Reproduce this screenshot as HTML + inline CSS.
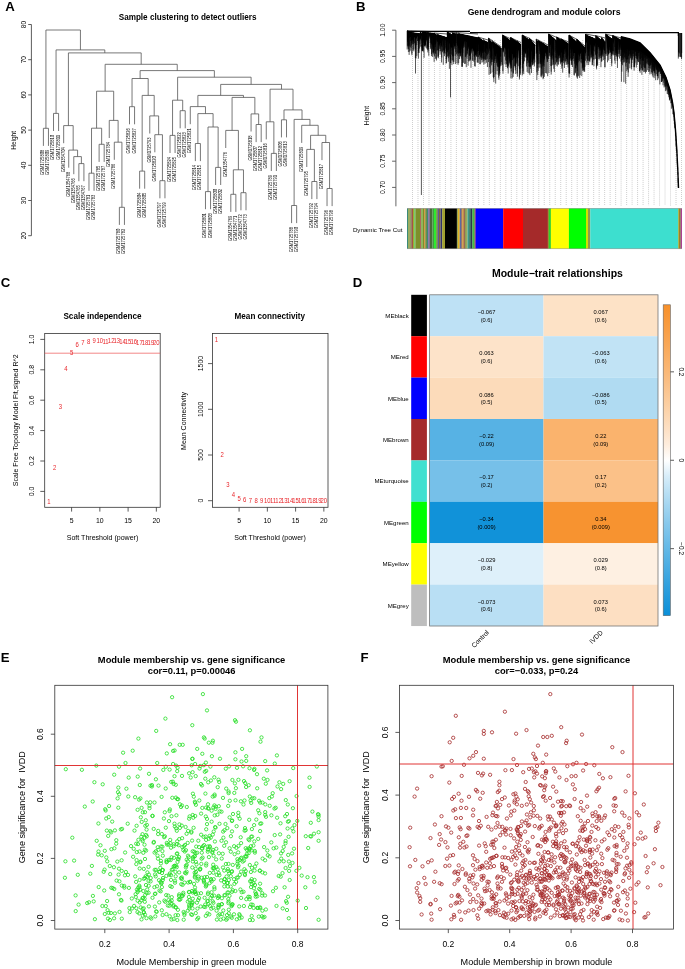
<!DOCTYPE html>
<html><head><meta charset="utf-8"><style>
html,body{margin:0;padding:0;background:#fff;}
svg{display:block;will-change:transform;}
text{font-family:"Liberation Sans",sans-serif;}
</style></head><body>
<svg width="685" height="969" viewBox="0 0 685 969" font-family="Liberation Sans, sans-serif">
<rect width="685" height="969" fill="#fff"/>
<path d="M45.93 128.30V30.00H80.43V49.90 M43.40 145.90V128.30H48.46V145.90 M56.06 113.40V49.90H104.80V52.90 M53.53 131.00V113.40H58.59V131.00 M68.41 125.60V52.90H141.18V64.30 M63.66 143.20V125.60H73.16V150.10 M68.72 167.70V150.10H77.59V156.60 M73.79 174.20V156.60H81.39V163.60 M78.86 181.20V163.60H83.92V181.20 M105.13 91.20V64.30H177.24V70.60 M96.58 128.20V91.20H113.68V120.40 M91.52 173.20V128.20H101.65V144.30 M88.98 190.80V173.20H94.05V190.80 M99.12 161.90V144.30H104.18V161.90 M109.25 138.00V120.40H118.11V142.20 M114.31 159.80V142.20H121.91V207.30 M119.38 224.90V207.30H124.44V224.90 M140.11 78.50V70.60H214.36V77.20 M132.04 106.70V78.50H148.18V95.40 M129.50 124.30V106.70H134.57V124.30 M142.17 171.10V95.40H154.20V115.90 M139.64 188.70V171.10H144.70V188.70 M149.77 133.50V115.90H158.63V134.70 M154.83 152.30V134.70H162.43V180.70 M159.90 198.30V180.70H164.96V198.30 M177.62 100.20V77.20H251.10V84.40 M172.56 135.40V100.20H182.69V110.70 M170.03 153.00V135.40H175.09V153.00 M180.16 128.30V110.70H185.22V128.30 M220.68 95.40V84.40H281.53V89.20 M197.88 106.60V95.40H243.47V97.40 M190.29 124.20V106.60H205.48V113.60 M197.88 143.50V113.60H213.08V127.00 M195.35 161.10V143.50H200.42V161.10 M208.01 191.60V127.00H218.14V167.40 M205.48 209.20V191.60H210.55V209.20 M215.61 185.00V167.40H220.68V185.00 M232.07 130.40V97.40H254.86V113.90 M225.74 148.00V130.40H238.40V169.80 M233.34 194.30V169.80H243.47V192.70 M230.81 211.90V194.30H235.87V211.90 M240.94 210.30V192.70H246.00V210.30 M251.07 131.50V113.90H258.66V124.50 M256.13 142.10V124.50H261.19V142.10 M270.06 121.80V89.20H293.01V109.90 M266.26 139.40V121.80H273.86V153.40 M271.32 171.00V153.40H276.39V171.00 M283.99 119.80V109.90H302.03V119.40 M281.45 137.40V119.80H286.52V137.40 M294.12 205.50V119.40H309.95V125.30 M291.59 223.10V205.50H296.65V223.10 M301.71 142.90V125.30H318.18V135.30 M310.58 149.40V135.30H325.77V142.50 M306.78 167.00V149.40H314.38V181.50 M311.84 199.10V181.50H316.91V199.10 M321.98 160.10V142.50H329.57V188.50 M327.04 206.10V188.50H332.11V206.10" fill="none" stroke="#555" stroke-width="0.8"/>
<text transform="translate(44.35,149.80) rotate(-90) scale(0.89,1)" text-anchor="end" font-size="4.6" fill="#222" stroke="#222" stroke-width="0.04">GSM1725808</text>
<text transform="translate(49.41,149.80) rotate(-90) scale(0.89,1)" text-anchor="end" font-size="4.6" fill="#222" stroke="#222" stroke-width="0.04">GSM1725809</text>
<text transform="translate(54.48,134.90) rotate(-90) scale(0.89,1)" text-anchor="end" font-size="4.6" fill="#222" stroke="#222" stroke-width="0.04">GSM1725810</text>
<text transform="translate(59.55,134.90) rotate(-90) scale(0.89,1)" text-anchor="end" font-size="4.6" fill="#222" stroke="#222" stroke-width="0.04">GSM1725811</text>
<text transform="translate(64.61,147.10) rotate(-90) scale(0.89,1)" text-anchor="end" font-size="4.6" fill="#222" stroke="#222" stroke-width="0.04">GSM1354704</text>
<text transform="translate(69.67,171.60) rotate(-90) scale(0.89,1)" text-anchor="end" font-size="4.6" fill="#222" stroke="#222" stroke-width="0.04">GSM1354768</text>
<text transform="translate(74.74,178.10) rotate(-90) scale(0.89,1)" text-anchor="end" font-size="4.6" fill="#222" stroke="#222" stroke-width="0.04">GSM1354766</text>
<text transform="translate(79.81,185.10) rotate(-90) scale(0.89,1)" text-anchor="end" font-size="4.6" fill="#222" stroke="#222" stroke-width="0.04">GSM1354765</text>
<text transform="translate(84.87,185.10) rotate(-90) scale(0.89,1)" text-anchor="end" font-size="4.6" fill="#222" stroke="#222" stroke-width="0.04">GSM1354767</text>
<text transform="translate(89.94,194.70) rotate(-90) scale(0.89,1)" text-anchor="end" font-size="4.6" fill="#222" stroke="#222" stroke-width="0.04">GSM1725781</text>
<text transform="translate(95.00,194.70) rotate(-90) scale(0.89,1)" text-anchor="end" font-size="4.6" fill="#222" stroke="#222" stroke-width="0.04">GSM1725783</text>
<text transform="translate(100.07,165.80) rotate(-90) scale(0.89,1)" text-anchor="end" font-size="4.6" fill="#222" stroke="#222" stroke-width="0.04">GSM1725785</text>
<text transform="translate(105.13,165.80) rotate(-90) scale(0.89,1)" text-anchor="end" font-size="4.6" fill="#222" stroke="#222" stroke-width="0.04">GSM1725787</text>
<text transform="translate(110.20,141.90) rotate(-90) scale(0.89,1)" text-anchor="end" font-size="4.6" fill="#222" stroke="#222" stroke-width="0.04">GSM1725784</text>
<text transform="translate(115.26,163.70) rotate(-90) scale(0.89,1)" text-anchor="end" font-size="4.6" fill="#222" stroke="#222" stroke-width="0.04">GSM1725786</text>
<text transform="translate(120.33,228.80) rotate(-90) scale(0.89,1)" text-anchor="end" font-size="4.6" fill="#222" stroke="#222" stroke-width="0.04">GSM1725780</text>
<text transform="translate(125.39,228.80) rotate(-90) scale(0.89,1)" text-anchor="end" font-size="4.6" fill="#222" stroke="#222" stroke-width="0.04">GSM1725782</text>
<text transform="translate(130.45,128.20) rotate(-90) scale(0.89,1)" text-anchor="end" font-size="4.6" fill="#222" stroke="#222" stroke-width="0.04">GSM1725826</text>
<text transform="translate(135.52,128.20) rotate(-90) scale(0.89,1)" text-anchor="end" font-size="4.6" fill="#222" stroke="#222" stroke-width="0.04">GSM1725827</text>
<text transform="translate(140.59,192.60) rotate(-90) scale(0.89,1)" text-anchor="end" font-size="4.6" fill="#222" stroke="#222" stroke-width="0.04">GSM1725804</text>
<text transform="translate(145.65,192.60) rotate(-90) scale(0.89,1)" text-anchor="end" font-size="4.6" fill="#222" stroke="#222" stroke-width="0.04">GSM1725805</text>
<text transform="translate(150.72,137.40) rotate(-90) scale(0.89,1)" text-anchor="end" font-size="4.6" fill="#222" stroke="#222" stroke-width="0.04">GSM1725793</text>
<text transform="translate(155.78,156.20) rotate(-90) scale(0.89,1)" text-anchor="end" font-size="4.6" fill="#222" stroke="#222" stroke-width="0.04">GSM1725820</text>
<text transform="translate(160.84,202.20) rotate(-90) scale(0.89,1)" text-anchor="end" font-size="4.6" fill="#222" stroke="#222" stroke-width="0.04">GSM1725797</text>
<text transform="translate(165.91,202.20) rotate(-90) scale(0.89,1)" text-anchor="end" font-size="4.6" fill="#222" stroke="#222" stroke-width="0.04">GSM1725799</text>
<text transform="translate(170.97,156.90) rotate(-90) scale(0.89,1)" text-anchor="end" font-size="4.6" fill="#222" stroke="#222" stroke-width="0.04">GSM1725824</text>
<text transform="translate(176.04,156.90) rotate(-90) scale(0.89,1)" text-anchor="end" font-size="4.6" fill="#222" stroke="#222" stroke-width="0.04">GSM1725825</text>
<text transform="translate(181.11,132.20) rotate(-90) scale(0.89,1)" text-anchor="end" font-size="4.6" fill="#222" stroke="#222" stroke-width="0.04">GSM1725822</text>
<text transform="translate(186.17,132.20) rotate(-90) scale(0.89,1)" text-anchor="end" font-size="4.6" fill="#222" stroke="#222" stroke-width="0.04">GSM1725823</text>
<text transform="translate(191.24,128.10) rotate(-90) scale(0.89,1)" text-anchor="end" font-size="4.6" fill="#222" stroke="#222" stroke-width="0.04">GSM1725821</text>
<text transform="translate(196.30,165.00) rotate(-90) scale(0.89,1)" text-anchor="end" font-size="4.6" fill="#222" stroke="#222" stroke-width="0.04">GSM1725814</text>
<text transform="translate(201.37,165.00) rotate(-90) scale(0.89,1)" text-anchor="end" font-size="4.6" fill="#222" stroke="#222" stroke-width="0.04">GSM1725815</text>
<text transform="translate(206.43,213.10) rotate(-90) scale(0.89,1)" text-anchor="end" font-size="4.6" fill="#222" stroke="#222" stroke-width="0.04">GSM1725801</text>
<text transform="translate(211.50,213.10) rotate(-90) scale(0.89,1)" text-anchor="end" font-size="4.6" fill="#222" stroke="#222" stroke-width="0.04">GSM1725803</text>
<text transform="translate(216.56,188.90) rotate(-90) scale(0.89,1)" text-anchor="end" font-size="4.6" fill="#222" stroke="#222" stroke-width="0.04">GSM1725800</text>
<text transform="translate(221.62,188.90) rotate(-90) scale(0.89,1)" text-anchor="end" font-size="4.6" fill="#222" stroke="#222" stroke-width="0.04">GSM1725802</text>
<text transform="translate(226.69,151.90) rotate(-90) scale(0.89,1)" text-anchor="end" font-size="4.6" fill="#222" stroke="#222" stroke-width="0.04">GSM1354776</text>
<text transform="translate(231.75,215.80) rotate(-90) scale(0.89,1)" text-anchor="end" font-size="4.6" fill="#222" stroke="#222" stroke-width="0.04">GSM1354769</text>
<text transform="translate(236.82,215.80) rotate(-90) scale(0.89,1)" text-anchor="end" font-size="4.6" fill="#222" stroke="#222" stroke-width="0.04">GSM1354771</text>
<text transform="translate(241.89,214.20) rotate(-90) scale(0.89,1)" text-anchor="end" font-size="4.6" fill="#222" stroke="#222" stroke-width="0.04">GSM1354772</text>
<text transform="translate(246.95,214.20) rotate(-90) scale(0.89,1)" text-anchor="end" font-size="4.6" fill="#222" stroke="#222" stroke-width="0.04">GSM1354773</text>
<text transform="translate(252.02,135.40) rotate(-90) scale(0.89,1)" text-anchor="end" font-size="4.6" fill="#222" stroke="#222" stroke-width="0.04">GSM1725818</text>
<text transform="translate(257.08,146.00) rotate(-90) scale(0.89,1)" text-anchor="end" font-size="4.6" fill="#222" stroke="#222" stroke-width="0.04">GSM1725807</text>
<text transform="translate(262.14,146.00) rotate(-90) scale(0.89,1)" text-anchor="end" font-size="4.6" fill="#222" stroke="#222" stroke-width="0.04">GSM1725812</text>
<text transform="translate(267.21,143.30) rotate(-90) scale(0.89,1)" text-anchor="end" font-size="4.6" fill="#222" stroke="#222" stroke-width="0.04">GSM1725816</text>
<text transform="translate(272.27,174.90) rotate(-90) scale(0.89,1)" text-anchor="end" font-size="4.6" fill="#222" stroke="#222" stroke-width="0.04">GSM1725789</text>
<text transform="translate(277.34,174.90) rotate(-90) scale(0.89,1)" text-anchor="end" font-size="4.6" fill="#222" stroke="#222" stroke-width="0.04">GSM1725791</text>
<text transform="translate(282.40,141.30) rotate(-90) scale(0.89,1)" text-anchor="end" font-size="4.6" fill="#222" stroke="#222" stroke-width="0.04">GSM1725806</text>
<text transform="translate(287.47,141.30) rotate(-90) scale(0.89,1)" text-anchor="end" font-size="4.6" fill="#222" stroke="#222" stroke-width="0.04">GSM1725813</text>
<text transform="translate(292.54,227.00) rotate(-90) scale(0.89,1)" text-anchor="end" font-size="4.6" fill="#222" stroke="#222" stroke-width="0.04">GSM1725788</text>
<text transform="translate(297.60,227.00) rotate(-90) scale(0.89,1)" text-anchor="end" font-size="4.6" fill="#222" stroke="#222" stroke-width="0.04">GSM1725790</text>
<text transform="translate(302.66,146.80) rotate(-90) scale(0.89,1)" text-anchor="end" font-size="4.6" fill="#222" stroke="#222" stroke-width="0.04">GSM1725819</text>
<text transform="translate(307.73,170.90) rotate(-90) scale(0.89,1)" text-anchor="end" font-size="4.6" fill="#222" stroke="#222" stroke-width="0.04">GSM1725795</text>
<text transform="translate(312.79,203.00) rotate(-90) scale(0.89,1)" text-anchor="end" font-size="4.6" fill="#222" stroke="#222" stroke-width="0.04">GSM1725792</text>
<text transform="translate(317.86,203.00) rotate(-90) scale(0.89,1)" text-anchor="end" font-size="4.6" fill="#222" stroke="#222" stroke-width="0.04">GSM1725794</text>
<text transform="translate(322.93,164.00) rotate(-90) scale(0.89,1)" text-anchor="end" font-size="4.6" fill="#222" stroke="#222" stroke-width="0.04">GSM1725817</text>
<text transform="translate(327.99,210.00) rotate(-90) scale(0.89,1)" text-anchor="end" font-size="4.6" fill="#222" stroke="#222" stroke-width="0.04">GSM1725796</text>
<text transform="translate(333.06,210.00) rotate(-90) scale(0.89,1)" text-anchor="end" font-size="4.6" fill="#222" stroke="#222" stroke-width="0.04">GSM1725798</text>
<path d="M31.4 24.50V235.70M31.4 24.50H28.2M31.4 59.70H28.2M31.4 94.90H28.2M31.4 130.10H28.2M31.4 165.30H28.2M31.4 200.50H28.2M31.4 235.70H28.2" stroke="#333" stroke-width="0.8" fill="none"/>
<text transform="translate(25.6,24.50) rotate(-90)" text-anchor="middle" font-size="6.6">80</text>
<text transform="translate(25.6,59.70) rotate(-90)" text-anchor="middle" font-size="6.6">70</text>
<text transform="translate(25.6,94.90) rotate(-90)" text-anchor="middle" font-size="6.6">60</text>
<text transform="translate(25.6,130.10) rotate(-90)" text-anchor="middle" font-size="6.6">50</text>
<text transform="translate(25.6,165.30) rotate(-90)" text-anchor="middle" font-size="6.6">40</text>
<text transform="translate(25.6,200.50) rotate(-90)" text-anchor="middle" font-size="6.6">30</text>
<text transform="translate(25.6,235.70) rotate(-90)" text-anchor="middle" font-size="6.6">20</text>
<text transform="translate(16.3,140.4) rotate(-90)" text-anchor="middle" font-size="6.5">Height</text>
<text x="187.6" y="19.5" text-anchor="middle" font-size="8.15" font-weight="bold">Sample clustering to detect outliers</text>
<text x="5.3" y="10.5" font-size="13.2" font-weight="bold">A</text>
<path d="M412.50 40.00V205.5M417.99 40.00V205.5M423.48 40.00V205.5M428.97 40.00V205.5M434.46 40.00V205.5M439.95 40.00V205.5M445.44 40.00V205.5M450.93 40.00V205.5M456.42 40.00V205.5M461.91 40.00V205.5M467.40 40.00V205.5M472.89 40.00V205.5M478.38 40.00V205.5M483.87 40.00V205.5M489.36 40.00V205.5M494.85 40.00V205.5M500.34 40.00V205.5M505.83 40.00V205.5M511.32 40.00V205.5M516.81 40.00V205.5M522.30 40.00V205.5M527.79 40.00V205.5M533.28 40.00V205.5M538.77 40.00V205.5M544.26 40.00V205.5M549.75 40.00V205.5M555.24 40.00V205.5M560.73 40.00V205.5M566.22 40.00V205.5M571.71 40.00V205.5M577.20 40.00V205.5M582.69 40.00V205.5M588.18 40.00V205.5M593.67 40.00V205.5M599.16 40.00V205.5M604.65 40.00V205.5M610.14 40.00V205.5M615.63 40.00V205.5M621.12 42.73V205.5M626.61 44.13V205.5M632.10 45.82V205.5M637.59 47.96V205.5M643.08 51.95V205.5M648.57 57.38V205.5M654.06 63.83V205.5M659.55 70.64V205.5M665.04 81.62V205.5M670.53 98.63V205.5M676.02 144.00V205.5M681.51 56.00V205.5" stroke="#b4b4b4" stroke-width="0.8" stroke-dasharray="0.8 1.2" fill="none"/>
<path d="M407.00 30.80 L407.70 30.99 L408.40 31.22 L409.10 31.45 L409.80 31.69 L410.50 31.94 L411.20 32.20 L411.20 36.34 L410.50 37.25 L409.80 36.76 L409.10 38.27 L408.40 37.46 L407.70 40.27 L407.00 40.79ZM411.67 32.61 L412.37 32.68 L413.07 32.75 L413.77 32.83 L414.47 32.92 L415.17 33.00 L415.87 33.08 L416.57 33.17 L417.27 33.26 L417.97 33.35 L418.67 33.44 L419.37 33.53 L419.37 39.89 L418.67 40.99 L417.97 37.11 L417.27 35.95 L416.57 38.12 L415.87 38.57 L415.17 38.22 L414.47 37.07 L413.77 35.01 L413.07 36.56 L412.37 37.05 L411.67 37.73ZM420.00 31.20 L420.70 32.00 L421.40 32.91 L422.10 33.88 L422.10 36.62 L421.40 34.81 L420.70 40.61 L420.00 38.37ZM422.35 32.05 L423.05 32.10 L423.75 32.17 L424.45 32.24 L425.15 32.31 L425.85 32.39 L426.55 32.46 L427.25 32.54 L427.95 32.62 L428.65 32.69 L429.35 32.77 L430.05 32.85 L430.75 32.94 L431.45 33.02 L432.15 33.10 L432.85 33.18 L433.55 33.27 L433.55 39.44 L432.85 37.11 L432.15 38.80 L431.45 38.08 L430.75 37.75 L430.05 35.09 L429.35 39.77 L428.65 33.69 L427.95 33.62 L427.25 33.56 L426.55 42.18 L425.85 39.33 L425.15 46.78 L424.45 45.32 L423.75 42.40 L423.05 38.65 L422.35 39.03ZM434.00 33.00 L434.70 33.52 L435.40 34.11 L436.10 34.73 L436.80 35.38 L436.80 44.01 L436.10 39.67 L435.40 38.63 L434.70 41.39 L434.00 49.23ZM436.94 34.46 L437.64 34.63 L438.34 34.83 L439.04 35.03 L439.74 35.25 L440.44 35.47 L441.14 35.69 L441.84 35.92 L442.54 36.15 L443.24 36.38 L443.94 36.62 L444.64 36.86 L445.34 37.10 L446.04 37.34 L446.74 37.59 L446.74 46.06 L446.04 48.75 L445.34 39.18 L444.64 40.46 L443.94 38.74 L443.24 39.27 L442.54 40.66 L441.84 46.10 L441.14 44.31 L440.44 42.39 L439.74 43.77 L439.04 43.85 L438.34 40.12 L437.64 41.66 L436.94 42.04ZM447.00 32.00 L447.70 32.31 L448.40 32.67 L449.10 33.05 L449.80 33.45 L450.50 33.85 L451.20 34.26 L451.90 34.68 L451.90 47.30 L451.20 48.06 L450.50 46.22 L449.80 42.43 L449.10 44.82 L448.40 39.24 L447.70 40.38 L447.00 43.83ZM452.36 32.93 L453.06 33.09 L453.76 33.28 L454.46 33.47 L455.16 33.67 L455.86 33.88 L455.86 38.72 L455.16 44.09 L454.46 48.62 L453.76 44.09 L453.06 42.57 L452.36 36.90ZM456.51 33.52 L457.21 33.82 L457.91 34.17 L457.91 45.42 L457.21 46.47 L456.51 37.10ZM458.58 33.72 L459.28 33.83 L459.98 33.95 L460.68 34.08 L461.38 34.21 L462.08 34.35 L462.78 34.49 L463.48 34.63 L464.18 34.78 L464.88 34.92 L465.58 35.07 L466.28 35.22 L466.98 35.37 L467.68 35.52 L468.38 35.68 L469.08 35.83 L469.78 35.99 L470.48 36.14 L471.18 36.30 L471.88 36.46 L472.58 36.62 L473.28 36.78 L473.98 36.94 L474.68 37.10 L475.38 37.26 L476.08 37.42 L476.78 37.58 L477.48 37.75 L477.48 45.58 L476.78 43.48 L476.08 57.08 L475.38 54.13 L474.68 43.03 L473.98 49.21 L473.28 51.48 L472.58 48.38 L471.88 48.43 L471.18 52.28 L470.48 47.67 L469.78 45.02 L469.08 47.00 L468.38 48.01 L467.68 43.24 L466.98 42.35 L466.28 41.49 L465.58 40.56 L464.88 46.54 L464.18 40.69 L463.48 47.21 L462.78 45.16 L462.08 47.51 L461.38 45.84 L460.68 41.96 L459.98 46.52 L459.28 44.12 L458.58 48.11ZM478.00 37.00 L478.70 37.43 L479.40 37.92 L480.10 38.44 L480.80 38.97 L481.50 39.52 L482.20 40.08 L482.90 40.65 L483.60 41.23 L483.60 52.63 L482.90 52.78 L482.20 50.22 L481.50 49.66 L480.80 54.18 L480.10 50.41 L479.40 42.29 L478.70 43.26 L478.00 46.76ZM483.67 40.48 L484.37 40.74 L485.07 41.04 L485.77 41.35 L486.47 41.67 L487.17 42.01 L487.87 42.34 L487.87 51.59 L487.17 48.77 L486.47 48.00 L485.77 50.20 L485.07 42.84 L484.37 43.13 L483.67 48.08ZM488.50 38.00 L489.20 38.92 L489.90 39.97 L490.60 41.08 L491.30 42.22 L492.00 43.40 L492.00 52.30 L491.30 51.25 L490.60 51.76 L489.90 48.00 L489.20 50.91 L488.50 52.48ZM492.05 41.46 L492.75 41.86 L493.45 42.32 L494.15 42.81 L494.85 43.31 L495.55 43.82 L496.25 44.35 L496.95 44.88 L497.65 45.42 L498.35 45.97 L499.05 46.53 L499.75 47.09 L500.45 47.65 L501.15 48.22 L501.15 56.48 L500.45 56.91 L499.75 54.11 L499.05 48.24 L498.35 53.79 L497.65 57.41 L496.95 54.87 L496.25 53.07 L495.55 56.42 L494.85 56.17 L494.15 53.63 L493.45 47.03 L492.75 49.57 L492.05 42.46ZM502.50 35.00 L503.20 35.40 L503.90 35.86 L504.60 36.35 L505.30 36.85 L506.00 37.37 L506.70 37.89 L507.40 38.43 L508.10 38.97 L508.80 39.52 L509.50 40.07 L510.20 40.63 L510.90 41.20 L510.90 48.84 L510.20 54.72 L509.50 46.03 L508.80 47.54 L508.10 49.66 L507.40 45.06 L506.70 51.59 L506.00 47.25 L505.30 49.94 L504.60 47.27 L503.90 49.05 L503.20 53.01 L502.50 49.17ZM510.50 37.50 L511.20 37.88 L511.90 38.31 L512.60 38.77 L513.30 39.24 L514.00 39.72 L514.70 40.22 L515.40 40.72 L516.10 41.23 L516.80 41.74 L516.80 57.10 L516.10 49.03 L515.40 52.76 L514.70 58.81 L514.00 56.55 L513.30 59.15 L512.60 54.25 L511.90 53.74 L511.20 51.43 L510.50 45.96ZM517.27 41.28 L517.97 41.83 L518.67 42.47 L519.37 43.14 L520.07 43.84 L520.77 44.55 L520.77 53.54 L520.07 55.10 L519.37 49.70 L518.67 50.47 L517.97 57.70 L517.27 51.23ZM522.00 35.00 L522.70 35.39 L523.40 35.84 L524.10 36.31 L524.80 36.80 L525.50 37.30 L526.20 37.81 L526.90 38.33 L527.60 38.86 L528.30 39.39 L529.00 39.93 L529.70 40.47 L529.70 50.36 L529.00 49.01 L528.30 47.51 L527.60 47.06 L526.90 48.58 L526.20 51.62 L525.50 53.83 L524.80 53.30 L524.10 49.94 L523.40 52.18 L522.70 49.23 L522.00 48.57ZM529.50 38.50 L530.20 39.21 L530.90 40.01 L531.60 40.86 L532.30 41.75 L533.00 42.65 L533.70 43.57 L534.40 44.51 L535.10 45.46 L535.10 56.47 L534.40 55.71 L533.70 61.73 L533.00 57.01 L532.30 44.25 L531.60 52.21 L530.90 49.11 L530.20 48.33 L529.50 45.62ZM536.00 39.00 L536.70 40.13 L537.40 41.43 L538.10 42.80 L538.10 47.10 L537.40 51.55 L536.70 53.63 L536.00 49.28ZM538.13 40.63 L538.83 40.96 L539.53 41.34 L540.23 41.74 L540.93 42.15 L541.63 42.57 L542.33 43.01 L543.03 43.45 L543.73 43.89 L544.43 44.34 L545.13 44.80 L545.83 45.26 L546.53 45.73 L547.23 46.20 L547.93 46.67 L547.93 50.26 L547.23 51.84 L546.53 56.25 L545.83 52.51 L545.13 52.78 L544.43 60.23 L543.73 53.40 L543.03 52.95 L542.33 44.75 L541.63 51.03 L540.93 43.97 L540.23 52.79 L539.53 50.26 L538.83 41.96 L538.13 47.39ZM548.50 34.00 L549.20 34.47 L549.90 35.01 L550.60 35.58 L551.30 36.17 L552.00 36.78 L552.70 37.40 L553.40 38.02 L554.10 38.66 L554.80 39.31 L555.50 39.96 L556.20 40.62 L556.90 41.28 L556.90 45.67 L556.20 44.77 L555.50 40.96 L554.80 40.31 L554.10 39.66 L553.40 44.56 L552.70 49.84 L552.00 42.28 L551.30 41.21 L550.60 44.98 L549.90 45.48 L549.20 44.71 L548.50 36.50ZM556.50 37.00 L557.20 37.39 L557.90 37.85 L558.60 38.32 L559.30 38.81 L560.00 39.32 L560.70 39.83 L560.70 54.14 L560.00 50.83 L559.30 56.15 L558.60 55.98 L557.90 54.83 L557.20 48.80 L556.50 47.68ZM561.14 39.01 L561.84 39.38 L562.54 39.80 L563.24 40.25 L563.94 40.71 L564.64 41.18 L565.34 41.67 L566.04 42.16 L566.74 42.66 L567.44 43.16 L568.14 43.67 L568.14 56.77 L567.44 52.80 L566.74 50.95 L566.04 46.79 L565.34 54.27 L564.64 48.15 L563.94 55.31 L563.24 52.46 L562.54 49.44 L561.84 53.35 L561.14 51.69ZM569.00 35.00 L569.70 35.51 L570.40 36.10 L571.10 36.72 L571.80 37.36 L572.50 38.02 L573.20 38.69 L573.90 39.37 L574.60 40.07 L575.30 40.77 L576.00 41.48 L576.70 42.19 L576.70 52.57 L576.00 54.82 L575.30 52.24 L574.60 53.37 L573.90 52.65 L573.20 53.74 L572.50 49.35 L571.80 48.97 L571.10 50.57 L570.40 49.08 L569.70 43.78 L569.00 49.92ZM576.50 39.00 L577.20 39.57 L577.90 40.22 L578.60 40.91 L579.30 41.62 L580.00 42.35 L580.70 43.10 L581.40 43.85 L582.10 44.62 L582.80 45.40 L583.50 46.19 L584.20 46.98 L584.90 47.78 L584.90 53.30 L584.20 50.03 L583.50 51.84 L582.80 50.29 L582.10 50.78 L581.40 52.15 L580.70 53.92 L580.00 53.33 L579.30 57.85 L578.60 53.63 L577.90 50.73 L577.20 50.46 L576.50 47.13ZM585.50 34.00 L586.20 34.78 L586.90 35.67 L586.90 41.80 L586.20 43.33 L585.50 39.01ZM586.92 35.43 L587.62 35.67 L588.32 35.93 L589.02 36.21 L589.72 36.50 L590.42 36.79 L591.12 37.09 L591.82 37.40 L592.52 37.71 L593.22 38.03 L593.92 38.35 L594.62 38.67 L595.32 38.99 L595.32 42.72 L594.62 47.79 L593.92 44.85 L593.22 45.85 L592.52 44.82 L591.82 55.53 L591.12 53.00 L590.42 45.08 L589.72 43.70 L589.02 43.61 L588.32 42.84 L587.62 48.58 L586.92 49.09ZM595.50 35.50 L596.20 35.95 L596.90 36.47 L597.60 37.01 L598.30 37.58 L599.00 38.16 L599.70 38.74 L600.40 39.34 L601.10 39.95 L601.10 46.46 L600.40 50.11 L599.70 50.90 L599.00 47.22 L598.30 47.43 L597.60 44.32 L596.90 45.72 L596.20 45.81 L595.50 47.33ZM601.43 37.80 L602.13 38.46 L602.83 39.21 L603.53 40.01 L604.23 40.83 L604.93 41.67 L604.93 51.63 L604.23 50.37 L603.53 50.10 L602.83 44.46 L602.13 55.18 L601.43 47.14ZM605.50 34.00 L606.20 34.44 L606.90 34.93 L607.60 35.46 L608.30 36.00 L609.00 36.56 L609.70 37.13 L610.40 37.71 L611.10 38.29 L611.80 38.89 L612.50 39.49 L612.50 41.83 L611.80 41.97 L611.10 44.26 L610.40 47.44 L609.70 46.89 L609.00 52.38 L608.30 55.47 L607.60 50.59 L606.90 42.99 L606.20 37.39 L605.50 36.47ZM612.50 35.50 L613.20 35.80 L613.90 36.13 L614.60 36.49 L615.30 36.86 L616.00 37.24 L616.70 37.63 L617.40 38.02 L618.10 38.42 L618.80 38.82 L619.50 39.23 L620.20 39.64 L620.90 40.06 L620.90 49.97 L620.20 44.16 L619.50 46.59 L618.80 45.27 L618.10 39.42 L617.40 40.72 L616.70 44.48 L616.00 43.59 L615.30 37.86 L614.60 39.10 L613.90 41.29 L613.20 41.80 L612.50 38.38ZM621.00 36.70 L622.00 36.96 L623.00 37.21 L624.00 37.47 L625.00 37.72 L626.00 37.98 L627.00 38.23 L628.00 38.49 L629.00 38.74 L630.00 39.00 L631.00 39.39 L632.00 39.78 L633.00 40.17 L634.00 40.56 L635.00 40.95 L636.00 41.34 L637.00 41.73 L638.00 42.12 L639.00 42.51 L640.00 42.90 L641.00 43.89 L642.00 44.88 L643.00 45.87 L644.00 46.86 L645.00 47.85 L646.00 48.84 L647.00 49.83 L648.00 50.82 L649.00 51.81 L650.00 52.80 L651.00 54.04 L652.00 55.28 L653.00 56.52 L654.00 57.76 L655.00 59.00 L656.00 60.24 L657.00 61.48 L658.00 62.72 L659.00 63.96 L660.00 65.20 L661.00 67.27 L662.00 69.33 L663.00 71.40 L664.00 73.47 L665.00 75.53 L666.00 77.60 L667.00 80.70 L668.00 83.80 L669.00 86.90 L670.00 90.00 L671.00 94.96 L672.00 99.92 L673.00 105.93 L674.00 113.00 L674.00 114.45 L673.00 107.48 L672.00 101.57 L671.00 96.72 L670.00 91.87 L669.00 88.90 L668.00 85.93 L667.00 82.96 L666.00 80.00 L665.00 78.09 L664.00 76.17 L663.00 74.27 L662.00 72.37 L661.00 70.47 L660.00 68.58 L659.00 67.52 L658.00 66.46 L657.00 65.41 L656.00 64.37 L655.00 63.32 L654.00 62.29 L653.00 61.25 L652.00 60.22 L651.00 59.20 L650.00 58.18 L649.00 57.41 L648.00 56.65 L647.00 55.89 L646.00 55.13 L645.00 54.38 L644.00 53.63 L643.00 52.88 L642.00 52.14 L641.00 51.40 L640.00 50.67 L639.00 50.53 L638.00 50.41 L637.00 50.28 L636.00 50.16 L635.00 50.04 L634.00 49.92 L633.00 49.81 L632.00 49.70 L631.00 49.59 L630.00 49.49 L629.00 49.53 L628.00 49.56 L627.00 49.60 L626.00 49.64 L625.00 49.69 L624.00 49.74 L623.00 49.79 L622.00 49.84 L621.00 49.90Z" fill="#000"/>
<polyline points="621.00,36.70 630.00,39.00 640.00,42.90 650.00,52.80 660.00,65.20 666.00,77.60 670.00,90.00 672.50,102.40 674.00,113.00 675.50,130.00 676.80,150.00 677.80,170.00 678.50,188.00" fill="none" stroke="#000" stroke-width="1.4"/>
<path d="M407.00 30.80L420.00 31.20M407.00 30.80L411.67 32.37M407.42 30.91V45.66M407.58 30.96V42.18M411.42 32.28V45.52M411.56 32.33V43.15M408.35 31.20V38.25M408.44 31.23V49.02M409.71 31.66V46.36M409.56 31.61V37.79M407.96 31.08V47.42M408.47 31.24V45.73M408.40 31.22V52.02M408.14 31.13V45.99M411.09 32.16V47.97M411.58 32.34V40.57M410.53 31.96V41.05M407.18 30.84V49.48M409.67 31.65V51.70M410.25 31.85V46.90M409.13 31.46V54.92M409.21 31.49V44.73M410.27 31.86V50.66M411.67 30.92V32.61M411.67 32.61L420.00 33.61M415.41 33.03V48.06M418.49 33.42V51.38M415.13 32.99V45.30M419.65 33.57V39.22M413.60 32.81V41.43M416.58 33.17V38.65M415.16 33.00V43.33M419.61 33.56V48.60M416.81 33.20V45.21M419.16 33.50V52.95M418.32 33.39V42.65M412.53 32.70V44.10M412.23 32.67V39.02M414.50 32.92V37.42M412.93 32.74V39.88M411.88 32.63V53.61M412.91 32.74V40.62M414.70 32.94V43.24M419.94 33.61V44.27M412.38 32.68V39.72M413.87 32.85V49.40M411.86 32.63V55.26M412.89 32.74V42.16M416.07 33.11V58.43M417.47 33.29V41.03M413.06 32.75V50.39M418.16 33.37V40.80M418.43 33.41V58.59M418.38 33.40V53.07M413.56 32.81V43.97M411.91 32.63V39.11M413.83 32.84V51.38M415.39 33.03V57.97M419.63 33.56V41.26M413.56 32.81V39.29M416.87 33.21V55.94M415.66 33.06V49.51M420.00 31.20L434.00 31.60M420.00 31.20L422.35 34.23M421.85 33.53V47.59M422.28 34.13V45.96M422.22 34.05V50.77M420.30 31.51V46.68M421.89 33.59V46.25M422.30 34.16V50.34M421.29 32.76V40.55M422.28 34.13V51.25M422.19 34.01V49.40M421.94 33.65V42.96M422.35 31.25V32.05M422.35 32.05L434.00 33.32M422.40 32.05V51.01M427.87 32.61V52.41M426.15 32.42V47.98M431.49 33.02V43.79M425.24 32.32V46.45M428.26 32.65V50.46M432.98 33.20V47.38M428.24 32.65V49.02M427.62 32.58V47.67M433.32 33.24V54.37M433.33 33.24V44.79M433.34 33.24V52.43M423.77 32.17V42.72M425.15 32.31V44.41M431.48 33.02V54.14M430.69 32.93V47.74M432.63 33.16V56.94M433.45 33.26V45.80M433.88 33.31V52.43M427.38 32.55V46.24M424.63 32.26V46.46M422.58 32.06V47.60M422.56 32.06V45.76M428.32 32.66V46.95M431.53 33.03V56.13M425.44 32.34V45.24M425.50 32.35V42.60M432.97 33.20V52.74M424.09 32.20V57.85M430.51 32.91V39.79M430.37 32.89V42.84M433.28 33.24V52.33M423.33 32.13V51.79M432.40 33.13V45.43M428.79 32.71V55.81M423.86 32.18V45.48M423.62 32.16V39.65M424.70 32.26V42.99M431.20 32.99V44.56M424.42 32.24V41.03M425.27 32.32V44.84M428.77 32.71V43.46M433.24 33.23V45.81M427.38 32.55V49.84M426.93 32.50V48.86M433.80 33.30V47.73M430.58 32.92V49.24M426.40 32.44V40.05M423.17 32.11V50.20M424.25 32.22V45.82M432.49 33.14V49.14M425.17 32.31V44.07M434.00 33.00L447.00 34.00M434.00 33.00L436.94 35.51M435.05 33.81V44.96M435.39 34.10V47.10M435.48 34.18V43.80M434.26 33.18V43.27M434.07 33.04V44.38M435.72 34.39V53.73M435.93 34.58V58.88M435.14 33.89V53.53M434.44 33.31V56.22M434.13 33.08V61.88M435.84 34.50V58.56M434.41 33.29V50.59M436.45 35.05V60.52M436.94 33.17V34.46M436.94 34.46L447.00 37.68M444.47 36.80V52.29M443.57 36.50V49.90M439.48 35.17V45.52M444.28 36.73V50.56M446.76 37.59V51.18M441.76 35.89V57.48M443.15 36.35V50.94M438.42 34.85V50.69M440.00 35.33V48.41M437.55 34.61V50.12M443.90 36.61V53.51M442.14 36.02V50.92M438.13 34.77V57.45M446.78 37.60V58.51M441.56 35.83V62.48M441.46 35.80V46.35M446.45 37.49V49.48M438.36 34.84V55.96M438.27 34.81V58.28M445.86 37.28V53.90M445.97 37.32V48.17M436.97 34.47V50.75M439.98 35.32V46.50M440.12 35.37V54.47M444.49 36.81V56.16M446.26 37.42V59.37M439.85 35.28V48.82M446.99 37.67V52.69M441.25 35.73V44.98M437.96 34.72V56.59M446.35 37.45V47.32M442.08 36.00V47.25M446.56 37.52V63.06M443.29 36.40V64.86M442.46 36.13V52.27M444.31 36.75V53.25M443.42 36.45V45.45M446.26 37.42V48.17M440.40 35.45V51.12M446.76 37.59V50.45M439.97 35.32V51.60M438.62 34.91V45.23M446.05 37.35V49.88M446.06 37.35V63.61M438.34 34.83V44.30M447.00 32.00L478.00 34.00M447.00 32.00L452.36 34.95M452.19 34.85V50.41M450.37 33.77V59.58M448.45 32.70V49.55M449.39 33.21V68.87M451.68 34.54V45.40M450.80 34.02V63.28M450.15 33.64V48.69M451.97 34.72V65.16M452.21 34.86V47.34M447.83 32.38V56.15M452.05 34.76V60.39M451.10 34.20V54.03M447.21 32.08V56.87M451.93 34.69V55.22M447.69 32.31V52.07M450.74 33.99V45.73M449.81 33.45V54.38M448.20 32.57V50.37M448.62 32.79V58.17M450.45 33.82V62.88M448.26 32.60V55.61M450.78 34.01V46.64M449.67 33.37V56.64M448.38 32.66V61.76M452.36 32.24V32.93M452.36 32.93L456.03 33.93M453.11 33.10V61.81M455.37 33.73V45.82M455.15 33.67V55.85M454.18 33.39V45.38M453.89 33.31V61.85M452.90 33.05V47.11M455.94 33.90V43.16M452.58 32.97V56.26M455.60 33.80V64.10M455.78 33.85V46.35M455.79 33.86V52.01M454.80 33.57V49.27M453.58 33.23V42.27M453.39 33.18V56.51M452.81 33.03V60.20M453.67 33.25V64.12M456.51 32.48V33.52M456.51 33.52L458.58 34.52M458.37 34.41V48.00M458.19 34.31V53.51M456.58 33.54V54.07M457.04 33.74V63.25M457.21 33.82V55.74M457.79 34.11V52.74M457.16 33.80V44.08M458.07 34.25V64.89M458.46 34.46V45.91M458.58 32.61V33.72M458.58 33.72L478.00 37.87M460.45 34.04V56.36M467.26 35.43V50.56M470.63 36.18V60.49M475.03 37.18V55.14M474.91 37.15V52.83M465.82 35.12V56.77M463.39 34.61V47.90M475.75 37.34V55.09M466.27 35.22V67.16M463.07 34.55V62.78M477.82 37.83V50.94M474.49 37.05V66.29M459.36 33.84V47.70M462.26 34.39V67.05M476.64 37.55V56.26M467.30 35.44V54.10M476.95 37.62V51.89M470.62 36.17V50.21M461.33 34.20V48.42M470.22 36.08V55.13M458.80 33.75V53.61M462.18 34.37V48.93M474.02 36.95V52.15M460.55 34.06V53.22M470.99 36.26V47.77M472.08 36.50V51.62M464.55 34.86V63.93M469.58 35.94V51.94M475.36 37.26V66.57M462.41 34.42V56.30M458.69 33.74V63.06M474.51 37.06V56.82M467.53 35.49V46.41M469.29 35.88V61.17M460.31 34.01V55.37M468.38 35.68V48.85M468.70 35.75V61.49M468.11 35.62V65.71M462.41 34.42V54.72M477.53 37.76V51.28M476.57 37.53V56.77M470.63 36.18V59.12M473.84 36.90V50.77M475.02 37.17V59.84M462.82 34.50V53.07M466.03 35.17V48.23M472.66 36.63V60.40M469.50 35.92V56.12M474.86 37.14V51.87M469.26 35.87V55.44M466.74 35.32V55.45M471.37 36.34V53.46M459.03 33.79V56.42M463.15 34.57V62.80M467.48 35.48V50.71M460.66 34.08V49.68M460.36 34.02V53.49M459.37 33.84V52.75M472.82 36.67V61.07M459.63 33.89V53.14M477.05 37.65V54.15M477.92 37.85V62.62M462.34 34.40V66.46M477.16 37.67V62.46M473.89 36.92V61.77M465.39 35.03V56.82M475.99 37.40V54.76M461.37 34.21V58.50M462.63 34.46V51.40M464.78 34.90V47.29M461.71 34.28V66.78M475.97 37.40V53.70M460.82 34.11V56.21M465.57 35.07V63.78M469.84 36.00V60.24M477.86 37.84V56.85M474.07 36.96V56.11M469.79 35.99V55.10M467.17 35.41V53.17M459.52 33.87V59.01M470.99 36.26V67.81M471.47 36.36V47.91M459.24 33.82V51.55M466.97 35.37V58.50M461.14 34.17V52.48M459.01 33.78V48.56M460.65 34.07V49.53M478.00 37.00L488.00 40.00M478.00 37.00L483.67 41.29M482.94 40.68V58.12M479.50 37.99V55.01M481.19 39.28V56.41M480.52 38.75V64.29M479.41 37.93V53.86M481.01 39.14V51.32M478.33 37.19V51.06M481.12 39.22V56.58M479.13 37.73V56.31M481.64 39.63V55.21M479.75 38.18V47.54M483.04 40.77V62.02M478.04 37.02V62.67M480.64 38.85V57.55M479.28 37.83V49.23M478.22 37.12V57.35M481.94 39.87V62.72M479.51 38.00V54.83M482.47 40.30V53.21M481.64 39.63V58.19M482.99 40.72V50.89M479.34 37.88V64.20M482.23 40.11V59.44M479.86 38.26V59.23M481.58 39.58V59.95M483.67 38.52V40.48M483.67 40.48L488.00 42.41M484.01 40.60V59.23M483.79 40.52V59.42M485.16 41.08V51.06M483.85 40.54V60.78M486.69 41.78V56.44M486.23 41.56V59.52M487.22 42.03V58.82M487.43 42.13V67.03M484.13 40.65V51.86M483.82 40.53V64.65M486.42 41.65V62.77M484.91 40.97V51.57M486.95 41.90V54.27M485.50 41.23V53.08M484.89 40.96V58.64M485.06 41.03V63.69M487.36 42.10V54.83M485.46 41.21V59.60M485.17 41.08V60.13M488.50 38.00L501.50 47.00M488.50 38.00L492.05 43.48M488.52 38.01V62.02M491.33 42.27V59.38M489.73 39.71V67.43M491.85 43.15V56.16M490.98 41.70V57.00M490.76 41.34V63.51M490.98 41.69V73.13M489.76 39.76V59.26M491.66 42.83V65.36M488.59 38.10V53.70M491.70 42.89V62.08M491.64 42.79V59.42M490.39 40.74V74.07M490.80 41.39V57.97M489.05 38.71V74.86M492.05 39.90V41.46M492.05 41.46L501.50 48.51M496.99 44.91V58.82M493.84 42.59V82.14M493.01 42.03V72.37M495.68 43.92V83.58M498.98 46.47V61.11M498.08 45.76V57.35M495.72 43.95V58.90M499.53 46.91V70.73M498.03 45.72V60.58M497.76 45.51V67.01M500.63 47.80V65.90M499.13 46.59V61.32M498.88 46.39V79.76M498.67 46.22V77.63M498.11 45.79V62.58M497.99 45.69V59.94M499.44 46.84V72.79M494.41 42.99V62.92M497.92 45.64V66.28M500.84 47.97V63.82M499.40 46.81V63.98M501.26 48.31V62.03M493.57 42.40V78.37M496.96 44.89V61.69M497.16 45.05V71.01M498.09 45.77V74.79M495.93 44.11V74.37M498.52 46.10V67.17M493.21 42.16V77.00M492.59 41.76V59.62M492.18 41.52V61.85M498.65 46.21V60.52M494.17 42.82V77.14M497.03 44.94V65.39M495.76 43.97V56.15M499.39 46.80V75.78M496.48 44.53V63.12M501.16 48.23V65.52M499.79 47.12V74.12M494.83 43.29V60.85M499.93 47.23V67.79M494.58 43.11V59.38M502.50 35.00L511.00 39.00M502.50 35.00L511.00 41.28M502.99 35.27V73.73M509.16 39.80V63.43M507.88 38.80V48.71M510.59 40.95V59.94M503.36 35.51V51.26M509.10 39.75V53.38M510.18 40.62V61.19M510.07 40.53V67.60M508.18 39.03V73.51M509.63 40.17V61.44M507.01 38.13V63.64M510.00 40.47V58.24M504.49 36.27V56.58M503.00 35.28V52.15M506.68 37.87V61.14M509.83 40.34V63.37M506.48 37.72V64.34M509.64 40.19V58.32M510.67 41.01V60.25M507.91 38.82V59.19M508.30 39.12V66.57M510.84 41.15V61.41M510.13 40.57V61.41M507.81 38.75V65.18M505.61 37.08V60.33M509.05 39.71V57.07M506.09 37.43V67.11M504.99 36.63V64.33M506.78 37.95V58.13M510.79 41.11V68.67M505.31 36.86V54.27M507.48 38.49V67.82M502.84 35.18V71.04M507.14 38.22V53.54M502.55 35.02V64.94M507.67 38.64V68.35M510.23 40.66V64.99M507.83 38.76V65.72M510.50 37.50L521.00 42.50M510.50 37.50L517.27 42.09M515.83 41.02V62.35M512.54 38.73V60.18M513.42 39.32V73.57M510.87 37.69V57.58M511.30 37.94V71.68M516.72 41.68V57.31M513.12 39.12V72.64M517.14 41.99V63.44M511.19 37.87V61.95M511.53 38.08V52.07M515.13 40.52V67.74M511.10 37.82V66.03M510.62 37.55V63.94M515.47 40.76V54.72M515.74 40.96V74.06M515.44 40.75V62.70M515.30 40.65V70.40M512.22 38.52V78.42M510.58 37.53V62.31M516.03 41.18V58.22M515.44 40.74V66.41M513.79 39.58V58.44M514.39 40.00V66.24M511.48 38.05V67.97M514.87 40.33V65.73M513.11 39.11V77.04M515.81 41.02V62.93M510.91 37.71V78.37M516.10 41.23V64.12M517.12 41.98V73.50M517.27 40.45V41.28M517.27 41.28L521.00 44.79M517.28 41.28V61.62M519.46 43.23V77.30M517.43 41.39V76.68M520.50 44.28V64.88M520.44 44.22V74.78M520.68 44.45V59.47M519.34 43.11V68.52M520.07 43.83V72.91M519.53 43.30V68.94M518.04 41.90V65.89M520.22 43.99V60.75M520.28 44.05V68.62M519.43 43.20V79.49M519.22 42.99V66.65M517.98 41.84V58.19M519.89 43.65V64.96M522.00 35.00L530.00 38.50M522.00 35.00L530.00 40.71M522.27 35.14V75.48M525.89 37.58V57.67M528.23 39.34V66.58M528.14 39.26V73.18M524.03 36.26V51.96M523.45 35.87V49.37M526.46 38.00V66.54M529.58 40.38V62.66M526.78 38.24V53.66M529.67 40.45V59.78M527.13 38.50V71.91M525.14 37.04V54.26M529.73 40.49V66.94M522.31 35.16V54.86M529.22 40.10V73.33M522.38 35.20V68.12M527.17 38.53V63.41M523.16 35.68V71.40M527.42 38.72V60.05M528.06 39.21V55.23M524.06 36.28V56.73M523.35 35.81V51.51M527.42 38.72V60.78M523.56 35.95V63.82M523.76 36.08V74.15M529.11 40.01V57.40M522.78 35.44V73.56M527.03 38.42V57.68M528.58 39.61V62.60M523.14 35.67V49.91M527.71 38.94V56.31M528.97 39.90V57.53M523.25 35.74V63.29M524.68 36.71V57.18M524.54 36.62V61.31M529.83 40.57V63.58M529.50 38.50L535.50 43.00M529.50 38.50L535.50 46.00M534.88 45.15V62.41M531.26 40.45V62.42M534.34 44.43V55.69M529.51 38.51V66.71M530.61 39.68V66.99M530.81 39.91V55.91M530.58 39.64V68.87M530.68 39.75V50.81M533.15 42.85V58.47M530.74 39.82V66.00M534.37 44.46V59.47M529.89 38.88V62.74M533.83 43.74V63.35M531.51 40.76V73.03M532.46 41.95V64.63M532.36 41.82V64.58M530.62 39.68V64.37M530.48 39.52V60.95M529.53 38.52V59.80M532.59 42.12V61.85M534.40 44.51V66.43M533.77 43.66V64.35M529.87 38.85V75.11M532.47 41.96V62.23M532.72 42.29V65.51M530.84 39.95V51.53M531.00 40.14V58.69M536.00 39.00L548.00 45.00M536.00 39.00L538.13 42.85M537.49 41.61V61.45M537.52 41.67V51.05M537.05 40.77V58.50M536.26 39.38V53.72M537.26 41.16V68.11M537.22 41.09V64.08M537.76 42.12V75.04M536.89 40.48V72.37M536.84 40.39V80.14M538.13 39.75V40.63M538.13 40.63L548.00 46.72M543.37 43.66V56.43M543.11 43.50V52.78M547.70 46.52V76.24M544.38 44.31V76.75M546.86 45.95V59.30M540.75 42.05V64.31M543.48 43.74V78.21M540.60 41.96V61.96M547.51 46.39V57.87M544.52 44.41V58.73M547.57 46.43V61.68M542.73 43.26V59.31M539.35 41.24V54.03M542.14 42.89V55.64M538.99 41.05V67.72M544.15 44.17V66.46M540.11 41.67V67.60M543.54 43.77V65.41M541.19 42.31V54.53M543.19 43.55V61.46M538.24 40.67V63.98M540.48 41.89V63.58M540.94 42.16V76.48M545.75 45.21V53.46M546.73 45.86V57.65M541.96 42.78V64.19M539.20 41.16V63.62M545.42 44.99V56.27M541.61 42.56V68.71M546.52 45.72V73.43M545.42 45.00V73.07M542.82 43.32V73.67M547.16 46.15V62.05M538.17 40.64V70.84M543.04 43.46V79.22M542.25 42.96V75.57M544.12 44.15V60.02M542.65 43.21V66.49M541.98 42.79V62.51M541.31 42.38V75.36M543.06 43.47V57.82M541.13 42.27V58.12M543.87 43.98V62.25M541.32 42.39V77.33M548.50 34.00L557.00 37.50M548.50 34.00L557.00 41.38M551.54 36.38V56.57M556.56 40.95V62.46M549.34 34.58V52.79M553.27 37.91V64.24M556.70 41.09V57.50M553.81 38.40V68.79M553.01 37.67V60.15M551.20 36.09V74.57M552.86 37.54V58.71M554.36 38.90V71.99M556.05 40.47V52.66M550.96 35.89V57.08M550.10 35.17V54.73M553.63 38.23V62.16M553.91 38.49V51.94M555.19 39.67V57.68M548.53 34.02V59.05M553.48 38.10V56.79M552.73 37.42V54.92M554.00 38.57V65.05M553.38 38.01V50.70M549.83 34.96V56.09M549.35 34.59V52.77M555.50 39.95V64.29M549.03 34.35V56.24M551.24 36.13V59.36M549.94 35.05V46.92M556.18 40.60V58.03M552.32 37.06V48.82M556.07 40.49V65.61M552.24 36.99V55.88M548.87 34.24V73.20M551.18 36.07V71.73M551.08 35.99V65.92M552.71 37.41V65.31M551.81 36.62V57.66M551.13 36.03V65.89M555.24 39.71V50.35M556.50 37.00L568.50 42.00M556.50 37.00L561.14 40.16M556.80 37.16V61.14M558.13 38.00V54.53M557.82 37.79V52.55M559.58 39.01V55.42M559.78 39.15V55.01M560.37 39.59V57.18M560.38 39.59V64.19M558.14 38.00V64.09M560.95 40.01V63.17M558.84 38.49V57.57M557.11 37.34V62.14M560.67 39.81V61.69M557.64 37.68V59.62M560.55 39.72V57.95M559.02 38.61V61.57M558.29 38.10V64.90M557.94 37.87V54.72M557.32 37.47V66.50M559.58 39.01V58.29M558.18 38.03V58.82M561.14 38.60V39.01M561.14 39.01L568.50 43.93M566.02 42.15V57.21M565.99 42.12V60.87M567.37 43.11V60.30M562.48 39.77V61.93M566.54 42.51V58.66M561.43 39.15V51.30M563.37 40.34V51.51M563.43 40.37V57.75M567.32 43.07V64.62M563.02 40.10V61.44M563.71 40.56V60.64M566.85 42.74V52.02M567.43 43.15V56.91M562.94 40.06V60.16M562.69 39.90V72.71M561.77 39.34V61.63M566.64 42.59V64.68M561.80 39.36V68.70M567.99 43.56V67.43M567.25 43.02V62.38M561.54 39.21V62.18M564.91 41.37V64.82M566.75 42.66V59.20M567.07 42.89V58.31M568.27 43.77V63.94M562.98 40.08V53.72M564.17 40.87V53.97M562.15 39.56V66.10M562.89 40.03V56.88M564.42 41.03V67.98M563.34 40.32V63.18M565.29 41.63V62.28M565.18 41.55V60.96M569.00 35.00L577.00 39.50M569.00 35.00L577.00 42.50M569.90 35.68V58.82M571.90 37.46V51.87M569.09 35.05V77.50M569.67 35.49V73.90M573.51 38.99V58.59M572.47 38.00V59.53M569.07 35.04V73.47M574.02 39.49V74.93M571.01 36.64V53.05M569.22 35.14V72.87M571.37 36.97V60.77M575.77 41.24V68.41M575.28 40.74V73.45M571.61 37.19V63.78M571.56 37.14V61.04M571.95 37.51V65.13M569.33 35.22V64.85M575.56 41.03V72.66M576.56 42.05V63.31M570.26 35.98V60.52M569.64 35.47V59.52M572.55 38.06V67.05M569.32 35.22V55.38M574.78 40.25V63.74M575.84 41.32V68.10M571.27 36.87V65.22M572.37 37.90V59.15M574.33 39.80V75.53M570.32 36.03V58.22M573.51 38.99V55.98M569.68 35.50V58.62M576.77 42.26V77.45M576.79 42.29V75.84M575.49 40.96V61.60M573.87 39.35V61.12M576.62 42.11V65.06M576.50 39.00L585.00 46.00M576.50 39.00L585.00 47.90M579.87 42.21V55.90M584.06 46.83V62.45M583.83 46.56V57.81M581.01 43.43V62.20M581.21 43.65V63.34M577.46 39.81V66.44M577.18 39.55V55.42M580.24 42.60V75.21M582.57 45.15V66.48M584.92 47.81V66.81M583.56 46.25V60.31M584.66 47.51V71.77M577.66 40.00V63.23M578.51 40.83V54.63M581.55 44.02V59.19M582.51 45.08V70.65M581.78 44.27V76.12M584.30 47.09V71.57M582.84 45.44V67.71M582.28 44.83V68.38M579.67 42.01V77.93M582.64 45.22V63.31M577.35 39.70V70.91M577.46 39.81V78.65M578.66 40.98V60.25M583.62 46.33V62.87M576.68 39.13V65.60M578.07 40.39V62.19M582.34 44.89V59.07M583.94 46.69V70.01M583.37 46.04V71.44M579.41 41.74V61.16M583.92 46.66V67.44M578.05 40.37V75.48M579.84 42.18V59.36M583.68 46.39V70.04M581.69 44.17V58.98M578.34 40.65V76.31M585.50 34.00L596.00 36.00M585.50 34.00L586.92 35.69M585.51 34.01V53.04M585.53 34.02V60.76M585.56 34.06V53.54M585.89 34.40V51.92M585.87 34.39V55.80M586.86 35.61V58.72M586.92 34.18V35.43M586.92 35.43L596.00 39.31M591.54 37.28V57.07M591.92 37.45V50.87M589.98 36.61V59.34M591.29 37.17V52.19M589.05 36.22V50.51M586.98 35.45V62.59M590.96 37.03V55.38M588.45 35.98V50.55M589.72 36.50V60.68M595.43 39.05V58.89M592.22 37.58V49.89M592.19 37.57V65.23M593.95 38.36V59.30M587.53 35.63V60.18M589.42 36.37V48.60M588.41 35.97V55.82M588.90 36.16V51.70M592.39 37.66V64.95M588.70 36.08V65.15M592.38 37.65V56.19M594.87 38.79V51.52M588.63 36.05V60.70M592.73 37.81V62.15M589.88 36.57V62.18M590.60 36.87V57.62M587.44 35.60V49.95M592.61 37.75V54.56M592.35 37.64V53.58M587.04 35.47V65.19M595.89 39.26V54.51M593.49 38.15V50.72M588.34 35.94V55.77M587.73 35.71V60.99M591.81 37.40V58.37M592.89 37.88V56.49M593.65 38.22V56.14M593.85 38.32V59.79M593.93 38.35V66.12M589.44 36.38V61.21M588.11 35.85V52.33M595.50 35.50L605.00 38.00M595.50 35.50L601.43 40.24M601.07 39.93V51.08M596.55 36.21V65.54M596.46 36.14V55.95M596.94 36.50V65.71M599.27 38.38V58.18M598.23 37.52V59.22M596.14 35.91V53.51M599.33 38.43V59.57M595.86 35.71V55.17M600.95 39.82V67.19M596.83 36.42V49.84M598.07 37.39V49.36M600.00 39.00V56.32M601.40 40.21V54.78M596.43 36.12V67.62M597.09 36.61V64.51M597.18 36.68V53.61M600.78 39.68V55.67M599.04 38.19V56.59M600.74 39.64V58.26M597.64 37.04V65.70M596.58 36.23V69.38M597.27 36.75V47.08M601.28 40.11V57.99M596.39 36.09V54.11M596.50 36.17V52.99M601.43 36.92V37.80M601.43 37.80L605.00 41.76M601.57 37.91V54.08M602.97 39.36V49.07M604.97 41.72V59.30M601.86 38.18V52.90M602.96 39.36V56.21M601.96 38.28V61.21M601.83 38.15V55.25M604.71 41.40V53.47M604.88 41.61V67.47M602.41 38.75V51.64M601.68 38.01V53.62M602.89 39.27V56.75M601.47 37.82V61.78M603.37 39.82V60.11M604.94 41.68V67.14M602.86 39.24V54.41M605.50 34.00L613.00 36.00M605.50 34.00L613.00 39.92M607.31 35.24V44.32M611.82 38.91V63.29M605.87 34.22V54.09M610.35 37.66V52.15M612.79 39.73V50.99M611.90 38.97V54.26M612.96 39.88V51.08M611.07 38.27V53.05M608.45 36.12V54.08M610.58 37.86V51.51M609.57 37.02V50.20M607.49 35.37V62.31M610.91 38.13V53.25M607.16 35.13V52.59M609.47 36.94V53.40M611.60 38.72V46.96M611.66 38.77V53.76M611.71 38.81V66.26M605.82 34.19V53.73M611.63 38.74V46.06M607.39 35.30V46.38M611.52 38.65V53.20M606.16 34.41V55.78M610.71 37.97V51.94M611.49 38.62V56.05M610.60 37.87V51.09M607.28 35.22V48.46M608.36 36.05V44.91M609.78 37.19V45.30M610.89 38.11V48.34M607.31 35.24V55.88M610.27 37.60V58.93M608.67 36.30V60.48M612.50 35.50L621.00 38.00M612.50 35.50L621.00 40.11M615.67 37.06V53.42M613.10 35.75V55.50M616.97 37.78V56.86M618.93 38.90V49.86M616.43 37.48V55.63M616.03 37.25V56.35M616.24 37.37V52.38M619.51 39.23V58.60M615.91 37.19V50.39M617.21 37.91V60.97M613.50 35.94V43.53M619.45 39.20V45.05M618.90 38.88V49.45M618.29 38.52V56.69M612.97 35.69V54.44M617.46 38.05V67.97M619.91 39.47V47.81M616.90 37.74V53.88M614.83 36.61V47.04M614.67 36.53V60.56M616.84 37.70V46.39M615.09 36.75V63.71M619.78 39.39V47.19M612.94 35.68V50.87M616.45 37.48V53.18M615.61 37.03V55.11M620.31 39.71V49.79M615.17 36.79V51.68M617.30 37.96V47.81M619.27 39.09V52.45M619.32 39.12V54.13M620.45 39.79V56.00M612.99 35.70V52.55M612.92 35.67V54.42M617.57 38.11V53.69M617.27 37.94V58.82M618.23 38.49V53.91M614.29 36.33V55.06M621.00 36.70V61.58M621.22 36.76V48.45M621.44 36.81V81.75M621.67 36.87V64.06M621.89 36.93V71.63M622.11 36.98V57.44M622.33 37.04V59.96M622.56 37.10V65.19M622.78 37.15V52.42M623.00 37.21V57.77M623.22 37.27V55.46M623.44 37.32V62.50M623.67 37.38V59.39M623.89 37.44V82.18M624.11 37.50V52.42M624.33 37.55V62.42M624.56 37.61V57.40M624.78 37.67V53.54M625.00 37.72V61.54M625.22 37.78V56.60M625.44 37.84V58.66M625.67 37.89V83.74M625.89 37.95V66.45M626.11 38.01V53.86M626.33 38.06V63.04M626.56 38.12V59.66M626.78 38.18V71.40M627.00 38.23V61.96M627.22 38.29V48.70M627.44 38.35V69.58M627.67 38.40V59.35M627.89 38.46V59.14M628.11 38.52V76.87M628.33 38.57V72.48M628.56 38.63V55.61M628.78 38.69V56.12M629.00 38.74V63.11M629.22 38.80V63.81M629.44 38.86V51.06M629.67 38.91V54.41M629.89 38.97V68.31M630.11 39.04V59.48M630.33 39.13V53.73M630.56 39.22V58.03M630.78 39.30V56.56M631.00 39.39V54.88M631.22 39.48V56.08M631.44 39.56V69.39M631.67 39.65V67.34M631.89 39.74V63.10M632.11 39.82V49.63M632.33 39.91V58.32M632.56 40.00V59.86M632.78 40.08V53.97M633.00 40.17V56.00M633.22 40.26V56.64M633.44 40.34V53.73M633.67 40.43V50.65M633.89 40.52V67.08M634.11 40.60V70.72M634.33 40.69V67.30M634.56 40.78V66.91M634.78 40.86V64.58M635.00 40.95V62.67M635.22 41.04V51.46M635.44 41.12V51.94M635.67 41.21V55.78M635.89 41.30V58.16M636.11 41.38V55.81M636.33 41.47V67.56M636.56 41.56V56.17M636.78 41.64V58.58M637.00 41.73V58.97M637.22 41.82V64.88M637.44 41.90V59.55M637.67 41.99V61.44M637.89 42.08V58.26M638.11 42.16V61.85M638.33 42.25V53.22M638.56 42.34V62.17M638.78 42.42V56.27M639.00 42.51V52.90M639.22 42.60V52.05M639.44 42.68V71.08M639.67 42.77V71.15M639.89 42.86V58.73M640.11 43.01V72.84M640.33 43.23V64.56M640.56 43.45V59.16M640.78 43.67V69.74M641.00 43.89V60.79M641.22 44.11V54.06M641.44 44.33V67.97M641.67 44.55V57.87M641.89 44.77V74.86M642.11 44.99V69.59M642.33 45.21V70.67M642.56 45.43V60.19M642.78 45.65V70.26M643.00 45.87V61.10M643.22 46.09V65.55M643.44 46.31V60.63M643.67 46.53V71.93M643.89 46.75V67.33M644.11 46.97V55.36M644.33 47.19V57.75M644.56 47.41V71.87M644.78 47.63V67.91M645.00 47.85V67.50M645.22 48.07V68.34M645.44 48.29V73.43M645.67 48.51V57.40M645.89 48.73V71.54M646.11 48.95V63.15M646.33 49.17V71.98M646.56 49.39V58.81M646.78 49.61V55.20M647.00 49.83V64.37M647.22 50.05V63.46M647.44 50.27V58.77M647.67 50.49V70.22M647.89 50.71V61.91M648.11 50.93V57.84M648.33 51.15V64.62M648.56 51.37V71.93M648.78 51.59V65.02M649.00 51.81V68.00M649.22 52.03V59.41M649.44 52.25V66.10M649.67 52.47V71.54M649.89 52.69V74.51M650.11 52.94V64.39M650.33 53.21V68.63M650.56 53.49V65.56M650.78 53.76V64.51M651.00 54.04V62.21M651.22 54.32V73.85M651.44 54.59V72.23M651.67 54.87V62.90M651.89 55.14V64.89M652.11 55.42V69.49M652.33 55.69V75.51M652.56 55.97V72.74M652.78 56.24V66.83M653.00 56.52V77.22M653.22 56.80V69.76M653.44 57.07V67.29M653.67 57.35V71.43M653.89 57.62V70.94M654.11 57.90V77.98M654.33 58.17V72.59M654.56 58.45V71.01M654.78 58.72V73.40M655.00 59.00V75.73M655.22 59.28V67.59M655.44 59.55V65.58M655.67 59.83V80.22M655.89 60.10V69.51M656.11 60.38V67.44M656.33 60.65V74.24M656.56 60.93V69.28M656.78 61.20V70.23M657.00 61.48V70.47M657.22 61.76V76.29M657.44 62.03V76.01M657.67 62.31V80.13M657.89 62.58V76.10M658.11 62.86V68.12M658.33 63.13V78.41M658.56 63.41V72.44M658.78 63.68V71.19M659.00 63.96V72.05M659.22 64.24V71.59M659.44 64.51V69.37M659.67 64.79V71.33M659.89 65.06V84.48M660.11 65.43V70.70M660.33 65.89V74.00M660.56 66.35V73.33M660.78 66.81V71.23M661.00 67.27V73.94M661.22 67.73V76.00M661.44 68.19V81.94M661.67 68.64V81.91M661.89 69.10V81.98M662.11 69.56V74.12M662.33 70.02V78.74M662.56 70.48V80.90M662.78 70.94V77.81M663.00 71.40V85.28M663.22 71.86V77.75M663.44 72.32V78.39M663.67 72.78V78.63M663.89 73.24V82.77M664.11 73.70V87.44M664.33 74.16V78.46M664.56 74.61V80.73M664.78 75.07V85.46M665.00 75.53V86.59M665.22 75.99V79.91M665.44 76.45V91.15M665.67 76.91V86.67M665.89 77.37V84.20M666.11 77.94V89.36M666.33 78.63V83.77M666.56 79.32V85.71M666.78 80.01V90.59M667.00 80.70V87.50M667.22 81.39V93.94M667.44 82.08V85.87M667.67 82.77V86.84M667.89 83.46V94.27M668.11 84.14V91.63M668.33 84.83V91.36M668.56 85.52V95.20M668.78 86.21V97.29M669.00 86.90V93.58M669.22 87.59V94.18M669.44 88.28V100.31M669.67 88.97V99.21M669.89 89.66V100.40M670.11 90.55V97.25M670.33 91.65V98.84M670.56 92.76V95.43M670.78 93.86V103.24M671.00 94.96V97.91M671.22 96.06V98.53M671.44 97.16V108.73M671.67 98.27V103.19M671.89 99.37V102.94M672.11 100.47V105.17M672.33 101.57V106.47M672.56 102.79V105.40M672.78 104.36V107.72M673.00 105.93V114.02M673.22 107.50V114.53M673.44 109.07V111.29M673.67 110.64V114.53M673.89 112.21V116.94M674.11 114.26V120.97M674.33 116.78V123.95M674.56 119.30V124.65M674.78 121.81V127.72M675.00 124.33V127.65M675.22 126.85V129.18M675.44 129.37V135.76M675.67 132.56V136.25M675.89 135.98V140.75M676.11 139.40V146.31M676.33 142.82V150.45M676.56 146.24V150.14M676.78 149.66V152.88M677.00 154.00V156.30M677.22 158.44V163.54M677.44 162.89V166.76M677.67 167.33V169.42M677.89 172.29V174.73M678.11 178.00V182.87M678.33 183.71V187.00M678.97 33V57.04M678.97 33V52.66M680.20 33V57.01M681.61 33V57.48M681.52 33V59.20M680.76 33V57.20M678.51 33V52.06M678.34 33V58.64M680.75 33V56.30M679.20 33V53.55M678.86 33V56.32M681.67 33V53.06M415.5 44V73.5 M421.4 45V195 M450.5 55V97.4" stroke="#000" stroke-width="0.65" fill="none"/>
<path d="M407 31.3H470 M470 32.6H678.4V36" stroke="#000" stroke-width="1.2" fill="none"/>
<path d="M395.9 30.20V206.3M395.9 30.20H392.09999999999997M395.9 56.40H392.09999999999997M395.9 82.60H392.09999999999997M395.9 108.80H392.09999999999997M395.9 135.00H392.09999999999997M395.9 161.20H392.09999999999997M395.9 187.40H392.09999999999997" stroke="#555" stroke-width="0.9" fill="none"/>
<text transform="translate(385.0,30.20) rotate(-90)" text-anchor="middle" font-size="6.8">1.00</text>
<text transform="translate(385.0,56.40) rotate(-90)" text-anchor="middle" font-size="6.8">0.95</text>
<text transform="translate(385.0,82.60) rotate(-90)" text-anchor="middle" font-size="6.8">0.90</text>
<text transform="translate(385.0,108.80) rotate(-90)" text-anchor="middle" font-size="6.8">0.85</text>
<text transform="translate(385.0,135.00) rotate(-90)" text-anchor="middle" font-size="6.8">0.80</text>
<text transform="translate(385.0,161.20) rotate(-90)" text-anchor="middle" font-size="6.8">0.75</text>
<text transform="translate(385.0,187.40) rotate(-90)" text-anchor="middle" font-size="6.8">0.70</text>
<text transform="translate(368.6,115.6) rotate(-90)" text-anchor="middle" font-size="6.8">Height</text>
<rect x="407" y="208.3" width="1.35" height="40.5" fill="#3a8a7a"/>
<rect x="408.3" y="208.3" width="1.15" height="40.5" fill="#8a9a30"/>
<rect x="409.4" y="208.3" width="1.15" height="40.5" fill="#7f9338"/>
<rect x="410.5" y="208.3" width="1.15" height="40.5" fill="#6a7a40"/>
<rect x="411.6" y="208.3" width="1.35" height="40.5" fill="#a04040"/>
<rect x="412.9" y="208.3" width="1.45" height="40.5" fill="#9ab030"/>
<rect x="414.3" y="208.3" width="1.15" height="40.5" fill="#50c050"/>
<rect x="415.4" y="208.3" width="4.95" height="40.5" fill="#7d8f2a"/>
<rect x="420.3" y="208.3" width="1.15" height="40.5" fill="#a03a3a"/>
<rect x="421.4" y="208.3" width="1.15" height="40.5" fill="#60c030"/>
<rect x="422.5" y="208.3" width="1.75" height="40.5" fill="#7d8f2a"/>
<rect x="424.2" y="208.3" width="1.15" height="40.5" fill="#d08a2a"/>
<rect x="425.3" y="208.3" width="1.65" height="40.5" fill="#6a8a3a"/>
<rect x="426.9" y="208.3" width="1.65" height="40.5" fill="#3a8a7a"/>
<rect x="428.5" y="208.3" width="1.15" height="40.5" fill="#8a3aa0"/>
<rect x="429.6" y="208.3" width="2.85" height="40.5" fill="#4a6a3a"/>
<rect x="432.4" y="208.3" width="1.65" height="40.5" fill="#40a040"/>
<rect x="434.0" y="208.3" width="2.25" height="40.5" fill="#2eea2e"/>
<rect x="436.2" y="208.3" width="1.65" height="40.5" fill="#6a8a3a"/>
<rect x="437.8" y="208.3" width="1.15" height="40.5" fill="#5a4aa0"/>
<rect x="438.9" y="208.3" width="1.75" height="40.5" fill="#7a6a3a"/>
<rect x="440.6" y="208.3" width="1.65" height="40.5" fill="#30306a"/>
<rect x="442.2" y="208.3" width="2.85" height="40.5" fill="#a0a030"/>
<rect x="445.0" y="208.3" width="11.95" height="40.5" fill="#000000"/>
<rect x="456.9" y="208.3" width="1.15" height="40.5" fill="#9aaa5a"/>
<rect x="458.0" y="208.3" width="1.75" height="40.5" fill="#e0b020"/>
<rect x="459.7" y="208.3" width="1.75" height="40.5" fill="#5a6aa0"/>
<rect x="461.4" y="208.3" width="1.15" height="40.5" fill="#8a4a2a"/>
<rect x="462.5" y="208.3" width="1.15" height="40.5" fill="#e0b020"/>
<rect x="463.6" y="208.3" width="1.15" height="40.5" fill="#8a2a2a"/>
<rect x="464.7" y="208.3" width="1.15" height="40.5" fill="#7a8a3a"/>
<rect x="465.8" y="208.3" width="1.75" height="40.5" fill="#9aaa5a"/>
<rect x="467.5" y="208.3" width="1.75" height="40.5" fill="#3a9a8a"/>
<rect x="469.2" y="208.3" width="1.65" height="40.5" fill="#2a6a5a"/>
<rect x="470.8" y="208.3" width="1.75" height="40.5" fill="#2a3a4a"/>
<rect x="472.5" y="208.3" width="2.25" height="40.5" fill="#40c040"/>
<rect x="474.7" y="208.3" width="0.95" height="40.5" fill="#a01040"/>
<rect x="475.6" y="208.3" width="27.65" height="40.5" fill="#0000ff"/>
<rect x="503.2" y="208.3" width="19.85" height="40.5" fill="#ff0000"/>
<rect x="523.0" y="208.3" width="24.95" height="40.5" fill="#a52a2a"/>
<rect x="547.9" y="208.3" width="1.15" height="40.5" fill="#8a9a30"/>
<rect x="549.0" y="208.3" width="1.95" height="40.5" fill="#30d030"/>
<rect x="550.9" y="208.3" width="18.05" height="40.5" fill="#ffff00"/>
<rect x="568.9" y="208.3" width="17.15" height="40.5" fill="#00ff00"/>
<rect x="586.0" y="208.3" width="2.05" height="40.5" fill="#d0e000"/>
<rect x="588.0" y="208.3" width="2.35" height="40.5" fill="#8a9a50"/>
<rect x="590.3" y="208.3" width="87.85" height="40.5" fill="#3ddfcf"/>
<rect x="678.1" y="208.3" width="0.75" height="40.5" fill="#a0c030"/>
<rect x="678.8" y="208.3" width="1.05" height="40.5" fill="#a0600a"/>
<rect x="679.8" y="208.3" width="0.85" height="40.5" fill="#60a020"/>
<rect x="680.6" y="208.3" width="1.25" height="40.5" fill="#a02080"/>
<path d="M407 208.5H681.8 M407 248.6H681.8" stroke="#888" stroke-width="0.5"/>
<text x="402.4" y="231.6" text-anchor="end" font-size="6.2">Dynamic Tree Cut</text>
<text x="544.1" y="14.5" text-anchor="middle" font-size="8.6" font-weight="bold">Gene dendrogram and module colors</text>
<text x="355.9" y="10.6" font-size="13.2" font-weight="bold">B</text>
<rect x="44.7" y="333.4" width="115.50" height="173.90" fill="none" stroke="#333" stroke-width="0.8"/>
<rect x="212.4" y="333.4" width="115.60" height="173.90" fill="none" stroke="#333" stroke-width="0.8"/>
<path d="M71.60 507.3v4.3M99.85 507.3v4.3M128.10 507.3v4.3M156.35 507.3v4.3M44.7 491.40h-4.4M44.7 461.00h-4.4M44.7 430.60h-4.4M44.7 400.20h-4.4M44.7 369.80h-4.4M44.7 339.40h-4.4" stroke="#333" stroke-width="0.8" fill="none"/>
<text x="71.60" y="523.2" text-anchor="middle" font-size="6.9">5</text>
<text x="99.85" y="523.2" text-anchor="middle" font-size="6.9">10</text>
<text x="128.10" y="523.2" text-anchor="middle" font-size="6.9">15</text>
<text x="156.35" y="523.2" text-anchor="middle" font-size="6.9">20</text>
<text transform="translate(33.7,491.40) rotate(-90)" text-anchor="middle" font-size="6.9">0.0</text>
<text transform="translate(33.7,461.00) rotate(-90)" text-anchor="middle" font-size="6.9">0.2</text>
<text transform="translate(33.7,430.60) rotate(-90)" text-anchor="middle" font-size="6.9">0.4</text>
<text transform="translate(33.7,400.20) rotate(-90)" text-anchor="middle" font-size="6.9">0.6</text>
<text transform="translate(33.7,369.80) rotate(-90)" text-anchor="middle" font-size="6.9">0.8</text>
<text transform="translate(33.7,339.40) rotate(-90)" text-anchor="middle" font-size="6.9">1.0</text>
<line x1="44.7" x2="160.2" y1="353.2" y2="353.2" stroke="#ee5555" stroke-width="0.7"/>
<text transform="translate(49.00,504.00) scale(0.86,1)" text-anchor="middle" font-size="6.9" fill="#e8262b">1</text>
<text transform="translate(54.65,470.40) scale(0.86,1)" text-anchor="middle" font-size="6.9" fill="#e8262b">2</text>
<text transform="translate(60.30,408.90) scale(0.86,1)" text-anchor="middle" font-size="6.9" fill="#e8262b">3</text>
<text transform="translate(65.95,370.60) scale(0.86,1)" text-anchor="middle" font-size="6.9" fill="#e8262b">4</text>
<text transform="translate(71.60,355.30) scale(0.86,1)" text-anchor="middle" font-size="6.9" fill="#e8262b">5</text>
<text transform="translate(77.25,347.30) scale(0.86,1)" text-anchor="middle" font-size="6.9" fill="#e8262b">6</text>
<text transform="translate(82.90,344.50) scale(0.86,1)" text-anchor="middle" font-size="6.9" fill="#e8262b">7</text>
<text transform="translate(88.55,343.50) scale(0.86,1)" text-anchor="middle" font-size="6.9" fill="#e8262b">8</text>
<text transform="translate(94.20,342.50) scale(0.86,1)" text-anchor="middle" font-size="6.9" fill="#e8262b">9</text>
<text transform="translate(99.85,342.50) scale(0.86,1)" text-anchor="middle" font-size="6.9" fill="#e8262b">10</text>
<text transform="translate(105.50,343.50) scale(0.86,1)" text-anchor="middle" font-size="6.9" fill="#e8262b">11</text>
<text transform="translate(111.15,342.90) scale(0.86,1)" text-anchor="middle" font-size="6.9" fill="#e8262b">12</text>
<text transform="translate(116.80,342.50) scale(0.86,1)" text-anchor="middle" font-size="6.9" fill="#e8262b">13</text>
<text transform="translate(122.45,343.50) scale(0.86,1)" text-anchor="middle" font-size="6.9" fill="#e8262b">14</text>
<text transform="translate(128.10,344.00) scale(0.86,1)" text-anchor="middle" font-size="6.9" fill="#e8262b">15</text>
<text transform="translate(133.75,344.00) scale(0.86,1)" text-anchor="middle" font-size="6.9" fill="#e8262b">16</text>
<text transform="translate(139.40,344.50) scale(0.86,1)" text-anchor="middle" font-size="6.9" fill="#e8262b">17</text>
<text transform="translate(145.05,345.10) scale(0.86,1)" text-anchor="middle" font-size="6.9" fill="#e8262b">18</text>
<text transform="translate(150.70,345.10) scale(0.86,1)" text-anchor="middle" font-size="6.9" fill="#e8262b">19</text>
<text transform="translate(156.35,345.10) scale(0.86,1)" text-anchor="middle" font-size="6.9" fill="#e8262b">20</text>
<text x="102.5" y="319" text-anchor="middle" font-size="8.15" font-weight="bold">Scale independence</text>
<text x="102.5" y="540.3" text-anchor="middle" font-size="7.05">Soft Threshold (power)</text>
<text transform="translate(18.0,420.3) rotate(-90)" text-anchor="middle" font-size="7.05">Scale Free Topology Model Fit,signed R^2</text>
<path d="M239.10 507.3v4.3M267.35 507.3v4.3M295.60 507.3v4.3M323.85 507.3v4.3M212.4 500.70h-4.4M212.4 455.00h-4.4M212.4 409.30h-4.4M212.4 363.60h-4.4" stroke="#333" stroke-width="0.8" fill="none"/>
<text x="239.10" y="523.2" text-anchor="middle" font-size="6.9">5</text>
<text x="267.35" y="523.2" text-anchor="middle" font-size="6.9">10</text>
<text x="295.60" y="523.2" text-anchor="middle" font-size="6.9">15</text>
<text x="323.85" y="523.2" text-anchor="middle" font-size="6.9">20</text>
<text transform="translate(202.7,500.70) rotate(-90)" text-anchor="middle" font-size="6.9">0</text>
<text transform="translate(202.7,455.00) rotate(-90)" text-anchor="middle" font-size="6.9">500</text>
<text transform="translate(202.7,409.30) rotate(-90)" text-anchor="middle" font-size="6.9">1000</text>
<text transform="translate(202.7,363.60) rotate(-90)" text-anchor="middle" font-size="6.9">1500</text>
<text transform="translate(216.50,342.10) scale(0.86,1)" text-anchor="middle" font-size="6.9" fill="#e8262b">1</text>
<text transform="translate(222.15,456.70) scale(0.86,1)" text-anchor="middle" font-size="6.9" fill="#e8262b">2</text>
<text transform="translate(227.80,486.80) scale(0.86,1)" text-anchor="middle" font-size="6.9" fill="#e8262b">3</text>
<text transform="translate(233.45,496.70) scale(0.86,1)" text-anchor="middle" font-size="6.9" fill="#e8262b">4</text>
<text transform="translate(239.10,500.50) scale(0.86,1)" text-anchor="middle" font-size="6.9" fill="#e8262b">5</text>
<text transform="translate(244.75,501.80) scale(0.86,1)" text-anchor="middle" font-size="6.9" fill="#e8262b">6</text>
<text transform="translate(250.40,502.50) scale(0.86,1)" text-anchor="middle" font-size="6.9" fill="#e8262b">7</text>
<text transform="translate(256.05,503.00) scale(0.86,1)" text-anchor="middle" font-size="6.9" fill="#e8262b">8</text>
<text transform="translate(261.70,503.00) scale(0.86,1)" text-anchor="middle" font-size="6.9" fill="#e8262b">9</text>
<text transform="translate(267.35,503.00) scale(0.86,1)" text-anchor="middle" font-size="6.9" fill="#e8262b">10</text>
<text transform="translate(273.00,503.00) scale(0.86,1)" text-anchor="middle" font-size="6.9" fill="#e8262b">11</text>
<text transform="translate(278.65,503.00) scale(0.86,1)" text-anchor="middle" font-size="6.9" fill="#e8262b">12</text>
<text transform="translate(284.30,503.00) scale(0.86,1)" text-anchor="middle" font-size="6.9" fill="#e8262b">13</text>
<text transform="translate(289.95,503.00) scale(0.86,1)" text-anchor="middle" font-size="6.9" fill="#e8262b">14</text>
<text transform="translate(295.60,503.00) scale(0.86,1)" text-anchor="middle" font-size="6.9" fill="#e8262b">15</text>
<text transform="translate(301.25,503.00) scale(0.86,1)" text-anchor="middle" font-size="6.9" fill="#e8262b">16</text>
<text transform="translate(306.90,503.00) scale(0.86,1)" text-anchor="middle" font-size="6.9" fill="#e8262b">17</text>
<text transform="translate(312.55,503.00) scale(0.86,1)" text-anchor="middle" font-size="6.9" fill="#e8262b">18</text>
<text transform="translate(318.20,503.00) scale(0.86,1)" text-anchor="middle" font-size="6.9" fill="#e8262b">19</text>
<text transform="translate(323.85,503.00) scale(0.86,1)" text-anchor="middle" font-size="6.9" fill="#e8262b">20</text>
<text x="269.8" y="319" text-anchor="middle" font-size="8.15" font-weight="bold">Mean connectivity</text>
<text x="270" y="540.3" text-anchor="middle" font-size="7.05">Soft Threshold (power)</text>
<text transform="translate(185.9,421) rotate(-90)" text-anchor="middle" font-size="7.05">Mean Connectivity</text>
<text x="0.8" y="287.2" font-size="13.2" font-weight="bold">C</text>
<rect x="411.2" y="294.80" width="15.7" height="41.45" fill="#000000"/>
<rect x="429.6" y="294.80" width="113.90" height="41.45" fill="#bee1f5"/>
<rect x="543.5" y="294.80" width="114.50" height="41.45" fill="#fde2c6"/>
<text x="408.7" y="317.70" text-anchor="end" font-size="6.1">MEblack</text>
<text x="486.55" y="313.80" text-anchor="middle" font-size="5.75">−0.067</text>
<text x="486.55" y="321.50" text-anchor="middle" font-size="5.75">(0.6)</text>
<text x="600.75" y="313.80" text-anchor="middle" font-size="5.75">0.067</text>
<text x="600.75" y="321.50" text-anchor="middle" font-size="5.75">(0.6)</text>
<rect x="411.2" y="336.20" width="15.7" height="41.45" fill="#ff0000"/>
<rect x="429.6" y="336.20" width="113.90" height="41.45" fill="#fde3c9"/>
<rect x="543.5" y="336.20" width="114.50" height="41.45" fill="#c1e3f5"/>
<text x="408.7" y="359.10" text-anchor="end" font-size="6.1">MEred</text>
<text x="486.55" y="355.20" text-anchor="middle" font-size="5.75">0.063</text>
<text x="486.55" y="362.90" text-anchor="middle" font-size="5.75">(0.6)</text>
<text x="600.75" y="355.20" text-anchor="middle" font-size="5.75">−0.063</text>
<text x="600.75" y="362.90" text-anchor="middle" font-size="5.75">(0.6)</text>
<rect x="411.2" y="377.60" width="15.7" height="41.45" fill="#0000ff"/>
<rect x="429.6" y="377.60" width="113.90" height="41.45" fill="#fcdbba"/>
<rect x="543.5" y="377.60" width="114.50" height="41.45" fill="#b0dbf2"/>
<text x="408.7" y="400.50" text-anchor="end" font-size="6.1">MEblue</text>
<text x="486.55" y="396.60" text-anchor="middle" font-size="5.75">0.086</text>
<text x="486.55" y="404.30" text-anchor="middle" font-size="5.75">(0.5)</text>
<text x="600.75" y="396.60" text-anchor="middle" font-size="5.75">−0.086</text>
<text x="600.75" y="404.30" text-anchor="middle" font-size="5.75">(0.5)</text>
<rect x="411.2" y="419.00" width="15.7" height="41.45" fill="#a52a2a"/>
<rect x="429.6" y="419.00" width="113.90" height="41.45" fill="#57b2e4"/>
<rect x="543.5" y="419.00" width="114.50" height="41.45" fill="#fab36d"/>
<text x="408.7" y="441.90" text-anchor="end" font-size="6.1">MEbrown</text>
<text x="486.55" y="438.00" text-anchor="middle" font-size="5.75">−0.22</text>
<text x="486.55" y="445.70" text-anchor="middle" font-size="5.75">(0.09)</text>
<text x="600.75" y="438.00" text-anchor="middle" font-size="5.75">0.22</text>
<text x="600.75" y="445.70" text-anchor="middle" font-size="5.75">(0.09)</text>
<rect x="411.2" y="460.40" width="15.7" height="41.45" fill="#40e0d0"/>
<rect x="429.6" y="460.40" width="113.90" height="41.45" fill="#76c0e9"/>
<rect x="543.5" y="460.40" width="114.50" height="41.45" fill="#fbc188"/>
<text x="408.7" y="483.30" text-anchor="end" font-size="6.1">MEturquoise</text>
<text x="486.55" y="479.40" text-anchor="middle" font-size="5.75">−0.17</text>
<text x="486.55" y="487.10" text-anchor="middle" font-size="5.75">(0.2)</text>
<text x="600.75" y="479.40" text-anchor="middle" font-size="5.75">0.17</text>
<text x="600.75" y="487.10" text-anchor="middle" font-size="5.75">(0.2)</text>
<rect x="411.2" y="501.80" width="15.7" height="41.45" fill="#00ff00"/>
<rect x="429.6" y="501.80" width="113.90" height="41.45" fill="#1192d9"/>
<rect x="543.5" y="501.80" width="114.50" height="41.45" fill="#f79330"/>
<text x="408.7" y="524.70" text-anchor="end" font-size="6.1">MEgreen</text>
<text x="486.55" y="520.80" text-anchor="middle" font-size="5.75">−0.34</text>
<text x="486.55" y="528.50" text-anchor="middle" font-size="5.75">(0.009)</text>
<text x="600.75" y="520.80" text-anchor="middle" font-size="5.75">0.34</text>
<text x="600.75" y="528.50" text-anchor="middle" font-size="5.75">(0.009)</text>
<rect x="411.2" y="543.20" width="15.7" height="41.45" fill="#ffff00"/>
<rect x="429.6" y="543.20" width="113.90" height="41.45" fill="#def0fa"/>
<rect x="543.5" y="543.20" width="114.50" height="41.45" fill="#fef0e2"/>
<text x="408.7" y="566.10" text-anchor="end" font-size="6.1">MEyellow</text>
<text x="486.55" y="562.20" text-anchor="middle" font-size="5.75">−0.029</text>
<text x="486.55" y="569.90" text-anchor="middle" font-size="5.75">(0.8)</text>
<text x="600.75" y="562.20" text-anchor="middle" font-size="5.75">0.029</text>
<text x="600.75" y="569.90" text-anchor="middle" font-size="5.75">(0.8)</text>
<rect x="411.2" y="584.60" width="15.7" height="41.45" fill="#bebebe"/>
<rect x="429.6" y="584.60" width="113.90" height="41.45" fill="#b9dff4"/>
<rect x="543.5" y="584.60" width="114.50" height="41.45" fill="#fddfc2"/>
<text x="408.7" y="607.50" text-anchor="end" font-size="6.1">MEgrey</text>
<text x="486.55" y="603.60" text-anchor="middle" font-size="5.75">−0.073</text>
<text x="486.55" y="611.30" text-anchor="middle" font-size="5.75">(0.6)</text>
<text x="600.75" y="603.60" text-anchor="middle" font-size="5.75">0.073</text>
<text x="600.75" y="611.30" text-anchor="middle" font-size="5.75">(0.6)</text>
<rect x="429.6" y="294.8" width="228.40" height="331.20" fill="none" stroke="#777" stroke-width="0.8"/>
<defs><linearGradient id="cbg" x1="0" y1="0" x2="0" y2="1"><stop offset="0.000" stop-color="#f7902a"/><stop offset="0.050" stop-color="#f8993b"/><stop offset="0.100" stop-color="#f8a24d"/><stop offset="0.150" stop-color="#f9ac5f"/><stop offset="0.200" stop-color="#fab571"/><stop offset="0.250" stop-color="#fabf85"/><stop offset="0.300" stop-color="#fbca99"/><stop offset="0.350" stop-color="#fcd5ae"/><stop offset="0.400" stop-color="#fde0c4"/><stop offset="0.450" stop-color="#feeddd"/><stop offset="0.500" stop-color="#ffffff"/><stop offset="0.550" stop-color="#d8edf9"/><stop offset="0.600" stop-color="#bbe0f4"/><stop offset="0.650" stop-color="#a1d4f0"/><stop offset="0.700" stop-color="#89c9ec"/><stop offset="0.750" stop-color="#72bfe9"/><stop offset="0.800" stop-color="#5cb5e5"/><stop offset="0.850" stop-color="#47abe2"/><stop offset="0.900" stop-color="#32a1de"/><stop offset="0.950" stop-color="#1e98db"/><stop offset="1.000" stop-color="#0a8fd8"/></linearGradient></defs>
<rect x="663.2" y="304.8" width="7.2" height="310.90" fill="url(#cbg)" stroke="#666" stroke-width="0.6"/>
<path d="M670.4 371.85h3.6" stroke="#333" stroke-width="0.8"/>
<text transform="translate(678.6,371.85) rotate(90)" text-anchor="middle" font-size="6.4">0.2</text>
<path d="M670.4 460.25h3.6" stroke="#333" stroke-width="0.8"/>
<text transform="translate(678.6,460.25) rotate(90)" text-anchor="middle" font-size="6.4">0</text>
<path d="M670.4 548.65h3.6" stroke="#333" stroke-width="0.8"/>
<text transform="translate(678.6,548.65) rotate(90)" text-anchor="middle" font-size="6.4">−0.2</text>
<text transform="translate(489.4,633.0) rotate(-45)" text-anchor="end" font-size="6.7">Control</text>
<text transform="translate(603.4,633.0) rotate(-45)" text-anchor="end" font-size="6.7">IVDD</text>
<text x="557.4" y="277.3" text-anchor="middle" font-size="10.5" font-weight="bold">Module−trait relationships</text>
<text x="352.8" y="287.0" font-size="13.2" font-weight="bold">D</text>
<g fill="none" stroke="#22dd22" stroke-width="0.8"><circle cx="209.3" cy="914.4" r="1.65"/><circle cx="254.6" cy="879.9" r="1.65"/><circle cx="135.2" cy="876.4" r="1.65"/><circle cx="189.3" cy="906.6" r="1.65"/><circle cx="285.5" cy="843.2" r="1.65"/><circle cx="199.9" cy="869.6" r="1.65"/><circle cx="110.3" cy="831.1" r="1.65"/><circle cx="217.4" cy="814.8" r="1.65"/><circle cx="246.3" cy="899.2" r="1.65"/><circle cx="277.1" cy="817.7" r="1.65"/><circle cx="183.3" cy="894.5" r="1.65"/><circle cx="244.0" cy="781.1" r="1.65"/><circle cx="191.4" cy="831.6" r="1.65"/><circle cx="195.9" cy="861.9" r="1.65"/><circle cx="224.3" cy="886.4" r="1.65"/><circle cx="136.1" cy="881.9" r="1.65"/><circle cx="208.0" cy="804.3" r="1.65"/><circle cx="207.8" cy="851.7" r="1.65"/><circle cx="237.3" cy="863.8" r="1.65"/><circle cx="118.3" cy="807.7" r="1.65"/><circle cx="118.6" cy="874.6" r="1.65"/><circle cx="134.5" cy="830.6" r="1.65"/><circle cx="204.6" cy="897.8" r="1.65"/><circle cx="281.2" cy="858.6" r="1.65"/><circle cx="244.0" cy="860.6" r="1.65"/><circle cx="225.5" cy="824.0" r="1.65"/><circle cx="288.9" cy="861.5" r="1.65"/><circle cx="178.5" cy="859.3" r="1.65"/><circle cx="254.3" cy="798.2" r="1.65"/><circle cx="204.1" cy="845.1" r="1.65"/><circle cx="265.8" cy="783.7" r="1.65"/><circle cx="140.8" cy="817.3" r="1.65"/><circle cx="162.4" cy="851.1" r="1.65"/><circle cx="309.6" cy="786.9" r="1.65"/><circle cx="158.2" cy="830.9" r="1.65"/><circle cx="206.2" cy="829.3" r="1.65"/><circle cx="267.5" cy="779.9" r="1.65"/><circle cx="245.0" cy="875.1" r="1.65"/><circle cx="224.5" cy="879.2" r="1.65"/><circle cx="265.9" cy="909.5" r="1.65"/><circle cx="216.3" cy="867.2" r="1.65"/><circle cx="305.8" cy="836.2" r="1.65"/><circle cx="140.2" cy="889.8" r="1.65"/><circle cx="252.7" cy="920.1" r="1.65"/><circle cx="221.8" cy="904.1" r="1.65"/><circle cx="163.3" cy="769.9" r="1.65"/><circle cx="233.0" cy="814.0" r="1.65"/><circle cx="148.9" cy="874.6" r="1.65"/><circle cx="192.3" cy="867.5" r="1.65"/><circle cx="181.2" cy="884.2" r="1.65"/><circle cx="214.3" cy="887.2" r="1.65"/><circle cx="158.5" cy="785.6" r="1.65"/><circle cx="234.6" cy="854.2" r="1.65"/><circle cx="167.1" cy="844.6" r="1.65"/><circle cx="108.2" cy="835.9" r="1.65"/><circle cx="176.0" cy="907.6" r="1.65"/><circle cx="250.9" cy="846.2" r="1.65"/><circle cx="140.4" cy="798.4" r="1.65"/><circle cx="98.7" cy="887.1" r="1.65"/><circle cx="218.6" cy="907.7" r="1.65"/><circle cx="232.4" cy="780.0" r="1.65"/><circle cx="116.2" cy="843.7" r="1.65"/><circle cx="141.3" cy="836.8" r="1.65"/><circle cx="243.9" cy="906.0" r="1.65"/><circle cx="264.5" cy="916.9" r="1.65"/><circle cx="218.8" cy="806.2" r="1.65"/><circle cx="196.9" cy="902.7" r="1.65"/><circle cx="199.1" cy="847.1" r="1.65"/><circle cx="203.9" cy="881.1" r="1.65"/><circle cx="186.6" cy="833.8" r="1.65"/><circle cx="228.4" cy="892.5" r="1.65"/><circle cx="153.6" cy="842.7" r="1.65"/><circle cx="222.7" cy="853.8" r="1.65"/><circle cx="213.3" cy="872.7" r="1.65"/><circle cx="162.6" cy="915.0" r="1.65"/><circle cx="209.9" cy="905.8" r="1.65"/><circle cx="92.9" cy="895.9" r="1.65"/><circle cx="239.8" cy="874.9" r="1.65"/><circle cx="218.3" cy="906.9" r="1.65"/><circle cx="178.8" cy="899.4" r="1.65"/><circle cx="310.3" cy="836.2" r="1.65"/><circle cx="100.5" cy="845.3" r="1.65"/><circle cx="128.0" cy="874.9" r="1.65"/><circle cx="155.1" cy="874.4" r="1.65"/><circle cx="177.3" cy="920.1" r="1.65"/><circle cx="216.6" cy="910.7" r="1.65"/><circle cx="143.7" cy="908.3" r="1.65"/><circle cx="251.4" cy="881.2" r="1.65"/><circle cx="232.0" cy="871.2" r="1.65"/><circle cx="168.2" cy="895.6" r="1.65"/><circle cx="206.3" cy="863.6" r="1.65"/><circle cx="262.4" cy="872.4" r="1.65"/><circle cx="226.6" cy="876.5" r="1.65"/><circle cx="211.6" cy="881.4" r="1.65"/><circle cx="214.1" cy="895.6" r="1.65"/><circle cx="206.1" cy="839.9" r="1.65"/><circle cx="195.1" cy="802.7" r="1.65"/><circle cx="227.5" cy="892.5" r="1.65"/><circle cx="148.9" cy="906.4" r="1.65"/><circle cx="230.8" cy="851.7" r="1.65"/><circle cx="161.2" cy="883.6" r="1.65"/><circle cx="161.1" cy="846.5" r="1.65"/><circle cx="208.8" cy="838.8" r="1.65"/><circle cx="154.7" cy="869.9" r="1.65"/><circle cx="188.7" cy="857.2" r="1.65"/><circle cx="91.9" cy="865.9" r="1.65"/><circle cx="170.7" cy="860.0" r="1.65"/><circle cx="173.7" cy="784.0" r="1.65"/><circle cx="200.2" cy="869.2" r="1.65"/><circle cx="207.8" cy="846.5" r="1.65"/><circle cx="239.2" cy="906.4" r="1.65"/><circle cx="179.1" cy="872.4" r="1.65"/><circle cx="176.7" cy="867.2" r="1.65"/><circle cx="145.0" cy="859.0" r="1.65"/><circle cx="159.5" cy="890.6" r="1.65"/><circle cx="218.9" cy="896.6" r="1.65"/><circle cx="192.1" cy="840.6" r="1.65"/><circle cx="260.1" cy="883.7" r="1.65"/><circle cx="154.5" cy="802.5" r="1.65"/><circle cx="205.8" cy="816.5" r="1.65"/><circle cx="207.4" cy="901.3" r="1.65"/><circle cx="94.4" cy="782.2" r="1.65"/><circle cx="113.9" cy="867.2" r="1.65"/><circle cx="218.5" cy="779.7" r="1.65"/><circle cx="241.1" cy="871.6" r="1.65"/><circle cx="175.0" cy="880.7" r="1.65"/><circle cx="279.4" cy="782.3" r="1.65"/><circle cx="169.4" cy="874.8" r="1.65"/><circle cx="229.2" cy="873.4" r="1.65"/><circle cx="261.9" cy="916.3" r="1.65"/><circle cx="143.7" cy="878.8" r="1.65"/><circle cx="205.3" cy="778.7" r="1.65"/><circle cx="136.9" cy="889.6" r="1.65"/><circle cx="145.3" cy="825.8" r="1.65"/><circle cx="139.5" cy="851.5" r="1.65"/><circle cx="196.0" cy="872.0" r="1.65"/><circle cx="219.7" cy="914.3" r="1.65"/><circle cx="207.0" cy="818.9" r="1.65"/><circle cx="265.1" cy="873.4" r="1.65"/><circle cx="187.7" cy="842.9" r="1.65"/><circle cx="292.9" cy="808.2" r="1.65"/><circle cx="221.9" cy="898.2" r="1.65"/><circle cx="188.1" cy="830.9" r="1.65"/><circle cx="251.1" cy="904.5" r="1.65"/><circle cx="255.0" cy="866.5" r="1.65"/><circle cx="235.4" cy="891.0" r="1.65"/><circle cx="245.0" cy="828.1" r="1.65"/><circle cx="166.4" cy="862.2" r="1.65"/><circle cx="140.7" cy="907.4" r="1.65"/><circle cx="92.7" cy="801.5" r="1.65"/><circle cx="194.7" cy="872.7" r="1.65"/><circle cx="161.8" cy="834.0" r="1.65"/><circle cx="194.9" cy="876.4" r="1.65"/><circle cx="192.1" cy="914.9" r="1.65"/><circle cx="78.6" cy="904.6" r="1.65"/><circle cx="252.5" cy="798.4" r="1.65"/><circle cx="106.3" cy="857.4" r="1.65"/><circle cx="210.8" cy="879.0" r="1.65"/><circle cx="177.2" cy="841.3" r="1.65"/><circle cx="254.1" cy="770.0" r="1.65"/><circle cx="209.7" cy="846.2" r="1.65"/><circle cx="139.6" cy="880.0" r="1.65"/><circle cx="250.6" cy="800.5" r="1.65"/><circle cx="221.8" cy="904.3" r="1.65"/><circle cx="236.4" cy="847.8" r="1.65"/><circle cx="195.0" cy="892.1" r="1.65"/><circle cx="147.4" cy="872.4" r="1.65"/><circle cx="179.9" cy="827.9" r="1.65"/><circle cx="212.7" cy="901.3" r="1.65"/><circle cx="249.2" cy="819.8" r="1.65"/><circle cx="209.9" cy="847.2" r="1.65"/><circle cx="228.6" cy="793.1" r="1.65"/><circle cx="183.3" cy="892.8" r="1.65"/><circle cx="114.4" cy="848.3" r="1.65"/><circle cx="175.7" cy="876.3" r="1.65"/><circle cx="223.3" cy="910.5" r="1.65"/><circle cx="212.8" cy="868.1" r="1.65"/><circle cx="255.7" cy="896.7" r="1.65"/><circle cx="255.3" cy="892.2" r="1.65"/><circle cx="180.4" cy="899.2" r="1.65"/><circle cx="119.5" cy="911.9" r="1.65"/><circle cx="188.9" cy="891.9" r="1.65"/><circle cx="174.5" cy="823.7" r="1.65"/><circle cx="176.9" cy="844.1" r="1.65"/><circle cx="259.7" cy="870.8" r="1.65"/><circle cx="186.1" cy="873.4" r="1.65"/><circle cx="260.2" cy="907.4" r="1.65"/><circle cx="167.8" cy="905.5" r="1.65"/><circle cx="170.3" cy="886.1" r="1.65"/><circle cx="199.3" cy="800.5" r="1.65"/><circle cx="213.7" cy="879.2" r="1.65"/><circle cx="242.7" cy="861.6" r="1.65"/><circle cx="143.3" cy="852.8" r="1.65"/><circle cx="133.7" cy="848.8" r="1.65"/><circle cx="261.3" cy="823.4" r="1.65"/><circle cx="156.0" cy="869.8" r="1.65"/><circle cx="176.1" cy="828.3" r="1.65"/><circle cx="93.7" cy="901.4" r="1.65"/><circle cx="120.9" cy="899.9" r="1.65"/><circle cx="252.1" cy="836.6" r="1.65"/><circle cx="202.3" cy="848.7" r="1.65"/><circle cx="251.9" cy="829.1" r="1.65"/><circle cx="195.5" cy="853.1" r="1.65"/><circle cx="136.3" cy="908.2" r="1.65"/><circle cx="144.5" cy="844.7" r="1.65"/><circle cx="96.7" cy="840.8" r="1.65"/><circle cx="239.7" cy="915.4" r="1.65"/><circle cx="287.8" cy="804.5" r="1.65"/><circle cx="169.0" cy="859.9" r="1.65"/><circle cx="249.9" cy="920.0" r="1.65"/><circle cx="162.0" cy="873.0" r="1.65"/><circle cx="177.9" cy="909.8" r="1.65"/><circle cx="250.9" cy="872.0" r="1.65"/><circle cx="239.3" cy="914.2" r="1.65"/><circle cx="177.2" cy="771.1" r="1.65"/><circle cx="174.5" cy="776.2" r="1.65"/><circle cx="192.8" cy="898.7" r="1.65"/><circle cx="228.8" cy="880.0" r="1.65"/><circle cx="171.2" cy="781.9" r="1.65"/><circle cx="125.9" cy="872.0" r="1.65"/><circle cx="166.4" cy="914.2" r="1.65"/><circle cx="231.8" cy="917.8" r="1.65"/><circle cx="75.6" cy="895.4" r="1.65"/><circle cx="289.1" cy="870.9" r="1.65"/><circle cx="281.0" cy="853.4" r="1.65"/><circle cx="215.6" cy="808.9" r="1.65"/><circle cx="285.2" cy="816.2" r="1.65"/><circle cx="186.6" cy="871.8" r="1.65"/><circle cx="124.9" cy="875.3" r="1.65"/><circle cx="248.7" cy="785.2" r="1.65"/><circle cx="204.1" cy="882.4" r="1.65"/><circle cx="251.0" cy="887.1" r="1.65"/><circle cx="223.1" cy="831.6" r="1.65"/><circle cx="218.3" cy="915.5" r="1.65"/><circle cx="128.7" cy="777.6" r="1.65"/><circle cx="176.1" cy="765.6" r="1.65"/><circle cx="150.5" cy="917.3" r="1.65"/><circle cx="202.0" cy="785.4" r="1.65"/><circle cx="225.1" cy="895.3" r="1.65"/><circle cx="195.8" cy="913.1" r="1.65"/><circle cx="217.7" cy="869.4" r="1.65"/><circle cx="163.0" cy="870.1" r="1.65"/><circle cx="151.9" cy="786.5" r="1.65"/><circle cx="221.1" cy="880.4" r="1.65"/><circle cx="107.2" cy="861.3" r="1.65"/><circle cx="201.3" cy="863.9" r="1.65"/><circle cx="241.5" cy="857.7" r="1.65"/><circle cx="167.0" cy="861.7" r="1.65"/><circle cx="169.7" cy="916.3" r="1.65"/><circle cx="224.8" cy="879.2" r="1.65"/><circle cx="143.8" cy="868.9" r="1.65"/><circle cx="185.9" cy="867.4" r="1.65"/><circle cx="116.6" cy="880.6" r="1.65"/><circle cx="280.1" cy="834.4" r="1.65"/><circle cx="169.9" cy="809.4" r="1.65"/><circle cx="216.3" cy="848.8" r="1.65"/><circle cx="228.6" cy="901.5" r="1.65"/><circle cx="241.1" cy="897.9" r="1.65"/><circle cx="142.3" cy="839.5" r="1.65"/><circle cx="227.8" cy="883.0" r="1.65"/><circle cx="142.6" cy="898.1" r="1.65"/><circle cx="104.8" cy="850.8" r="1.65"/><circle cx="227.8" cy="886.6" r="1.65"/><circle cx="227.0" cy="883.0" r="1.65"/><circle cx="108.7" cy="817.1" r="1.65"/><circle cx="210.8" cy="837.6" r="1.65"/><circle cx="173.7" cy="866.3" r="1.65"/><circle cx="191.1" cy="914.3" r="1.65"/><circle cx="160.7" cy="891.3" r="1.65"/><circle cx="281.1" cy="789.1" r="1.65"/><circle cx="251.2" cy="836.7" r="1.65"/><circle cx="169.0" cy="821.1" r="1.65"/><circle cx="257.3" cy="896.3" r="1.65"/><circle cx="318.6" cy="816.6" r="1.65"/><circle cx="308.2" cy="848.0" r="1.65"/><circle cx="121.8" cy="918.7" r="1.65"/><circle cx="171.0" cy="847.7" r="1.65"/><circle cx="179.0" cy="895.9" r="1.65"/><circle cx="186.7" cy="859.7" r="1.65"/><circle cx="138.4" cy="839.8" r="1.65"/><circle cx="138.2" cy="890.6" r="1.65"/><circle cx="189.2" cy="908.6" r="1.65"/><circle cx="162.8" cy="855.7" r="1.65"/><circle cx="238.5" cy="865.6" r="1.65"/><circle cx="152.0" cy="785.1" r="1.65"/><circle cx="199.5" cy="768.5" r="1.65"/><circle cx="211.6" cy="810.7" r="1.65"/><circle cx="250.0" cy="907.1" r="1.65"/><circle cx="197.4" cy="908.6" r="1.65"/><circle cx="152.5" cy="815.8" r="1.65"/><circle cx="194.9" cy="877.5" r="1.65"/><circle cx="210.9" cy="780.5" r="1.65"/><circle cx="205.8" cy="886.5" r="1.65"/><circle cx="205.8" cy="915.9" r="1.65"/><circle cx="224.5" cy="895.1" r="1.65"/><circle cx="248.7" cy="853.2" r="1.65"/><circle cx="160.9" cy="860.9" r="1.65"/><circle cx="201.6" cy="877.7" r="1.65"/><circle cx="141.2" cy="900.5" r="1.65"/><circle cx="287.9" cy="821.7" r="1.65"/><circle cx="188.2" cy="882.5" r="1.65"/><circle cx="223.5" cy="918.5" r="1.65"/><circle cx="283.2" cy="783.9" r="1.65"/><circle cx="155.4" cy="893.6" r="1.65"/><circle cx="273.6" cy="848.3" r="1.65"/><circle cx="260.2" cy="823.7" r="1.65"/><circle cx="189.4" cy="900.2" r="1.65"/><circle cx="244.4" cy="869.2" r="1.65"/><circle cx="106.2" cy="818.5" r="1.65"/><circle cx="195.0" cy="887.5" r="1.65"/><circle cx="246.4" cy="856.7" r="1.65"/><circle cx="139.3" cy="885.7" r="1.65"/><circle cx="271.9" cy="796.5" r="1.65"/><circle cx="164.4" cy="900.6" r="1.65"/><circle cx="253.6" cy="883.3" r="1.65"/><circle cx="254.6" cy="870.6" r="1.65"/><circle cx="114.3" cy="889.0" r="1.65"/><circle cx="262.5" cy="802.6" r="1.65"/><circle cx="105.8" cy="906.1" r="1.65"/><circle cx="227.3" cy="828.1" r="1.65"/><circle cx="135.8" cy="897.0" r="1.65"/><circle cx="288.8" cy="918.3" r="1.65"/><circle cx="160.3" cy="867.9" r="1.65"/><circle cx="255.0" cy="885.0" r="1.65"/><circle cx="182.0" cy="805.5" r="1.65"/><circle cx="107.1" cy="901.0" r="1.65"/><circle cx="150.3" cy="802.3" r="1.65"/><circle cx="314.6" cy="882.0" r="1.65"/><circle cx="192.7" cy="851.3" r="1.65"/><circle cx="243.5" cy="804.5" r="1.65"/><circle cx="200.2" cy="868.6" r="1.65"/><circle cx="191.5" cy="904.3" r="1.65"/><circle cx="228.5" cy="863.9" r="1.65"/><circle cx="147.2" cy="877.0" r="1.65"/><circle cx="179.2" cy="839.1" r="1.65"/><circle cx="169.5" cy="811.0" r="1.65"/><circle cx="148.7" cy="885.8" r="1.65"/><circle cx="172.3" cy="797.8" r="1.65"/><circle cx="297.7" cy="900.6" r="1.65"/><circle cx="296.6" cy="796.1" r="1.65"/><circle cx="136.3" cy="864.1" r="1.65"/><circle cx="258.0" cy="907.9" r="1.65"/><circle cx="251.9" cy="867.8" r="1.65"/><circle cx="102.4" cy="906.0" r="1.65"/><circle cx="214.6" cy="794.6" r="1.65"/><circle cx="172.9" cy="781.7" r="1.65"/><circle cx="312.4" cy="811.6" r="1.65"/><circle cx="229.5" cy="895.8" r="1.65"/><circle cx="201.1" cy="834.7" r="1.65"/><circle cx="114.9" cy="830.4" r="1.65"/><circle cx="228.2" cy="805.9" r="1.65"/><circle cx="297.3" cy="820.9" r="1.65"/><circle cx="276.3" cy="847.6" r="1.65"/><circle cx="181.8" cy="825.6" r="1.65"/><circle cx="173.7" cy="846.2" r="1.65"/><circle cx="229.0" cy="766.4" r="1.65"/><circle cx="222.2" cy="914.1" r="1.65"/><circle cx="192.7" cy="815.0" r="1.65"/><circle cx="309.5" cy="777.7" r="1.65"/><circle cx="244.6" cy="830.7" r="1.65"/><circle cx="140.1" cy="768.5" r="1.65"/><circle cx="219.2" cy="782.0" r="1.65"/><circle cx="155.9" cy="851.3" r="1.65"/><circle cx="223.0" cy="867.5" r="1.65"/><circle cx="179.2" cy="894.4" r="1.65"/><circle cx="287.0" cy="910.0" r="1.65"/><circle cx="65.8" cy="769.2" r="1.65"/><circle cx="195.1" cy="890.7" r="1.65"/><circle cx="272.7" cy="793.2" r="1.65"/><circle cx="179.9" cy="804.3" r="1.65"/><circle cx="149.5" cy="808.2" r="1.65"/><circle cx="236.8" cy="919.3" r="1.65"/><circle cx="234.0" cy="914.3" r="1.65"/><circle cx="224.2" cy="870.6" r="1.65"/><circle cx="318.6" cy="832.2" r="1.65"/><circle cx="160.6" cy="882.0" r="1.65"/><circle cx="246.0" cy="856.5" r="1.65"/><circle cx="232.0" cy="891.8" r="1.65"/><circle cx="184.6" cy="882.6" r="1.65"/><circle cx="299.4" cy="867.9" r="1.65"/><circle cx="179.1" cy="857.1" r="1.65"/><circle cx="158.0" cy="858.7" r="1.65"/><circle cx="173.6" cy="919.0" r="1.65"/><circle cx="259.6" cy="907.9" r="1.65"/><circle cx="117.6" cy="798.4" r="1.65"/><circle cx="190.7" cy="777.5" r="1.65"/><circle cx="124.2" cy="885.9" r="1.65"/><circle cx="204.8" cy="771.8" r="1.65"/><circle cx="184.4" cy="915.0" r="1.65"/><circle cx="112.2" cy="821.6" r="1.65"/><circle cx="238.3" cy="812.8" r="1.65"/><circle cx="114.2" cy="774.7" r="1.65"/><circle cx="188.0" cy="855.7" r="1.65"/><circle cx="94.9" cy="919.2" r="1.65"/><circle cx="169.6" cy="769.6" r="1.65"/><circle cx="248.5" cy="848.3" r="1.65"/><circle cx="245.7" cy="848.2" r="1.65"/><circle cx="227.9" cy="869.1" r="1.65"/><circle cx="194.4" cy="856.5" r="1.65"/><circle cx="208.9" cy="857.1" r="1.65"/><circle cx="258.2" cy="838.9" r="1.65"/><circle cx="314.0" cy="833.7" r="1.65"/><circle cx="249.6" cy="899.2" r="1.65"/><circle cx="141.6" cy="807.9" r="1.65"/><circle cx="211.3" cy="879.8" r="1.65"/><circle cx="109.9" cy="920.0" r="1.65"/><circle cx="175.5" cy="907.1" r="1.65"/><circle cx="84.8" cy="806.6" r="1.65"/><circle cx="230.7" cy="886.6" r="1.65"/><circle cx="171.6" cy="857.3" r="1.65"/><circle cx="132.0" cy="908.5" r="1.65"/><circle cx="192.8" cy="892.5" r="1.65"/><circle cx="224.2" cy="845.8" r="1.65"/><circle cx="134.1" cy="905.9" r="1.65"/><circle cx="117.3" cy="861.6" r="1.65"/><circle cx="166.8" cy="842.9" r="1.65"/><circle cx="148.5" cy="881.0" r="1.65"/><circle cx="155.9" cy="779.3" r="1.65"/><circle cx="197.2" cy="852.8" r="1.65"/><circle cx="110.9" cy="913.0" r="1.65"/><circle cx="259.2" cy="888.9" r="1.65"/><circle cx="224.5" cy="830.2" r="1.65"/><circle cx="159.2" cy="902.4" r="1.65"/><circle cx="171.8" cy="897.2" r="1.65"/><circle cx="131.8" cy="898.5" r="1.65"/><circle cx="131.0" cy="846.1" r="1.65"/><circle cx="133.1" cy="856.8" r="1.65"/><circle cx="238.3" cy="816.0" r="1.65"/><circle cx="142.7" cy="841.1" r="1.65"/><circle cx="262.1" cy="895.6" r="1.65"/><circle cx="145.7" cy="876.2" r="1.65"/><circle cx="207.0" cy="824.1" r="1.65"/><circle cx="223.4" cy="837.7" r="1.65"/><circle cx="208.1" cy="892.6" r="1.65"/><circle cx="98.5" cy="851.5" r="1.65"/><circle cx="294.0" cy="848.7" r="1.65"/><circle cx="159.0" cy="880.2" r="1.65"/><circle cx="228.4" cy="903.1" r="1.65"/><circle cx="171.5" cy="903.5" r="1.65"/><circle cx="245.2" cy="783.0" r="1.65"/><circle cx="317.5" cy="897.6" r="1.65"/><circle cx="236.1" cy="881.9" r="1.65"/><circle cx="305.3" cy="887.3" r="1.65"/><circle cx="182.1" cy="838.2" r="1.65"/><circle cx="143.8" cy="912.1" r="1.65"/><circle cx="104.2" cy="890.5" r="1.65"/><circle cx="235.5" cy="800.3" r="1.65"/><circle cx="159.8" cy="871.8" r="1.65"/><circle cx="146.7" cy="893.0" r="1.65"/><circle cx="146.5" cy="918.2" r="1.65"/><circle cx="240.9" cy="858.4" r="1.65"/><circle cx="259.9" cy="870.5" r="1.65"/><circle cx="193.3" cy="817.7" r="1.65"/><circle cx="198.5" cy="878.8" r="1.65"/><circle cx="269.7" cy="805.8" r="1.65"/><circle cx="121.8" cy="885.6" r="1.65"/><circle cx="183.3" cy="850.2" r="1.65"/><circle cx="263.8" cy="778.7" r="1.65"/><circle cx="195.2" cy="816.0" r="1.65"/><circle cx="124.4" cy="887.6" r="1.65"/><circle cx="198.2" cy="917.8" r="1.65"/><circle cx="175.8" cy="784.8" r="1.65"/><circle cx="162.2" cy="870.0" r="1.65"/><circle cx="201.0" cy="893.2" r="1.65"/><circle cx="231.7" cy="905.2" r="1.65"/><circle cx="216.9" cy="919.6" r="1.65"/><circle cx="156.1" cy="911.4" r="1.65"/><circle cx="104.8" cy="914.0" r="1.65"/><circle cx="106.8" cy="830.6" r="1.65"/><circle cx="232.4" cy="904.5" r="1.65"/><circle cx="254.0" cy="888.3" r="1.65"/><circle cx="234.9" cy="783.4" r="1.65"/><circle cx="143.1" cy="897.8" r="1.65"/><circle cx="206.3" cy="885.6" r="1.65"/><circle cx="178.7" cy="845.2" r="1.65"/><circle cx="181.8" cy="895.9" r="1.65"/><circle cx="237.4" cy="859.2" r="1.65"/><circle cx="144.6" cy="898.6" r="1.65"/><circle cx="311.2" cy="836.4" r="1.65"/><circle cx="105.2" cy="809.2" r="1.65"/><circle cx="146.6" cy="829.6" r="1.65"/><circle cx="257.2" cy="907.9" r="1.65"/><circle cx="181.8" cy="877.4" r="1.65"/><circle cx="232.8" cy="864.9" r="1.65"/><circle cx="248.5" cy="839.3" r="1.65"/><circle cx="213.9" cy="868.7" r="1.65"/><circle cx="126.4" cy="788.7" r="1.65"/><circle cx="260.1" cy="802.6" r="1.65"/><circle cx="197.4" cy="880.7" r="1.65"/><circle cx="181.0" cy="807.0" r="1.65"/><circle cx="289.9" cy="866.1" r="1.65"/><circle cx="266.0" cy="816.8" r="1.65"/><circle cx="170.1" cy="901.8" r="1.65"/><circle cx="114.1" cy="918.3" r="1.65"/><circle cx="265.1" cy="860.3" r="1.65"/><circle cx="283.7" cy="861.3" r="1.65"/><circle cx="280.5" cy="823.3" r="1.65"/><circle cx="243.1" cy="766.3" r="1.65"/><circle cx="155.3" cy="916.4" r="1.65"/><circle cx="301.7" cy="875.6" r="1.65"/><circle cx="282.5" cy="873.1" r="1.65"/><circle cx="151.3" cy="918.6" r="1.65"/><circle cx="218.5" cy="904.9" r="1.65"/><circle cx="191.6" cy="765.3" r="1.65"/><circle cx="262.6" cy="858.6" r="1.65"/><circle cx="274.5" cy="808.6" r="1.65"/><circle cx="251.7" cy="884.1" r="1.65"/><circle cx="105.7" cy="810.5" r="1.65"/><circle cx="225.9" cy="864.0" r="1.65"/><circle cx="147.2" cy="889.5" r="1.65"/><circle cx="198.2" cy="900.0" r="1.65"/><circle cx="98.1" cy="854.6" r="1.65"/><circle cx="205.6" cy="836.5" r="1.65"/><circle cx="217.9" cy="898.0" r="1.65"/><circle cx="237.0" cy="767.8" r="1.65"/><circle cx="171.5" cy="816.2" r="1.65"/><circle cx="177.5" cy="861.9" r="1.65"/><circle cx="208.2" cy="782.3" r="1.65"/><circle cx="212.8" cy="834.6" r="1.65"/><circle cx="142.8" cy="915.7" r="1.65"/><circle cx="119.0" cy="894.3" r="1.65"/><circle cx="245.7" cy="871.1" r="1.65"/><circle cx="176.8" cy="853.9" r="1.65"/><circle cx="271.3" cy="842.4" r="1.65"/><circle cx="195.4" cy="874.6" r="1.65"/><circle cx="258.8" cy="916.6" r="1.65"/><circle cx="174.8" cy="865.9" r="1.65"/><circle cx="252.7" cy="904.8" r="1.65"/><circle cx="201.6" cy="858.7" r="1.65"/><circle cx="206.2" cy="770.9" r="1.65"/><circle cx="189.1" cy="818.7" r="1.65"/><circle cx="168.5" cy="900.1" r="1.65"/><circle cx="142.6" cy="909.0" r="1.65"/><circle cx="318.0" cy="814.2" r="1.65"/><circle cx="249.3" cy="840.2" r="1.65"/><circle cx="192.9" cy="793.7" r="1.65"/><circle cx="157.7" cy="847.2" r="1.65"/><circle cx="143.8" cy="912.5" r="1.65"/><circle cx="128.3" cy="796.5" r="1.65"/><circle cx="214.1" cy="867.7" r="1.65"/><circle cx="273.0" cy="891.2" r="1.65"/><circle cx="307.5" cy="877.2" r="1.65"/><circle cx="203.6" cy="836.9" r="1.65"/><circle cx="192.5" cy="908.4" r="1.65"/><circle cx="282.7" cy="908.4" r="1.65"/><circle cx="145.8" cy="820.3" r="1.65"/><circle cx="241.7" cy="917.5" r="1.65"/><circle cx="162.8" cy="880.0" r="1.65"/><circle cx="292.3" cy="828.3" r="1.65"/><circle cx="170.5" cy="843.2" r="1.65"/><circle cx="156.7" cy="911.8" r="1.65"/><circle cx="194.8" cy="856.1" r="1.65"/><circle cx="163.0" cy="878.0" r="1.65"/><circle cx="289.6" cy="781.2" r="1.65"/><circle cx="182.0" cy="775.9" r="1.65"/><circle cx="90.3" cy="873.7" r="1.65"/><circle cx="111.1" cy="832.4" r="1.65"/><circle cx="253.4" cy="845.6" r="1.65"/><circle cx="262.2" cy="893.2" r="1.65"/><circle cx="226.0" cy="842.3" r="1.65"/><circle cx="144.9" cy="878.2" r="1.65"/><circle cx="248.3" cy="896.8" r="1.65"/><circle cx="165.8" cy="766.8" r="1.65"/><circle cx="244.7" cy="873.9" r="1.65"/><circle cx="288.2" cy="854.9" r="1.65"/><circle cx="271.4" cy="815.3" r="1.65"/><circle cx="152.5" cy="816.0" r="1.65"/><circle cx="256.3" cy="819.6" r="1.65"/><circle cx="219.3" cy="905.3" r="1.65"/><circle cx="214.7" cy="815.4" r="1.65"/><circle cx="241.7" cy="892.2" r="1.65"/><circle cx="256.4" cy="863.5" r="1.65"/><circle cx="137.7" cy="776.6" r="1.65"/><circle cx="165.7" cy="788.5" r="1.65"/><circle cx="209.6" cy="835.9" r="1.65"/><circle cx="136.8" cy="852.1" r="1.65"/><circle cx="194.0" cy="883.9" r="1.65"/><circle cx="139.8" cy="902.4" r="1.65"/><circle cx="283.7" cy="846.9" r="1.65"/><circle cx="276.5" cy="905.9" r="1.65"/><circle cx="219.5" cy="823.8" r="1.65"/><circle cx="206.3" cy="884.6" r="1.65"/><circle cx="171.8" cy="869.8" r="1.65"/><circle cx="184.0" cy="846.2" r="1.65"/><circle cx="196.2" cy="846.6" r="1.65"/><circle cx="213.4" cy="807.4" r="1.65"/><circle cx="217.7" cy="787.2" r="1.65"/><circle cx="254.8" cy="851.0" r="1.65"/><circle cx="192.6" cy="772.2" r="1.65"/><circle cx="245.1" cy="856.4" r="1.65"/><circle cx="246.8" cy="849.8" r="1.65"/><circle cx="187.9" cy="861.2" r="1.65"/><circle cx="87.2" cy="903.1" r="1.65"/><circle cx="118.0" cy="792.2" r="1.65"/><circle cx="200.3" cy="766.0" r="1.65"/><circle cx="211.6" cy="821.7" r="1.65"/><circle cx="164.8" cy="812.3" r="1.65"/><circle cx="226.2" cy="788.6" r="1.65"/><circle cx="212.7" cy="796.6" r="1.65"/><circle cx="244.5" cy="800.5" r="1.65"/><circle cx="135.6" cy="894.2" r="1.65"/><circle cx="154.4" cy="887.2" r="1.65"/><circle cx="138.2" cy="887.6" r="1.65"/><circle cx="192.0" cy="891.0" r="1.65"/><circle cx="318.6" cy="840.8" r="1.65"/><circle cx="239.7" cy="818.7" r="1.65"/><circle cx="212.0" cy="896.0" r="1.65"/><circle cx="120.8" cy="829.4" r="1.65"/><circle cx="229.6" cy="848.3" r="1.65"/><circle cx="232.4" cy="904.2" r="1.65"/><circle cx="140.1" cy="862.3" r="1.65"/><circle cx="257.0" cy="774.2" r="1.65"/><circle cx="193.0" cy="857.2" r="1.65"/><circle cx="149.5" cy="805.8" r="1.65"/><circle cx="249.8" cy="796.5" r="1.65"/><circle cx="264.1" cy="847.1" r="1.65"/><circle cx="259.1" cy="800.8" r="1.65"/><circle cx="158.4" cy="849.8" r="1.65"/><circle cx="228.8" cy="909.7" r="1.65"/><circle cx="265.2" cy="812.1" r="1.65"/><circle cx="263.2" cy="917.5" r="1.65"/><circle cx="149.0" cy="773.8" r="1.65"/><circle cx="103.7" cy="871.8" r="1.65"/><circle cx="157.0" cy="886.3" r="1.65"/><circle cx="188.9" cy="897.0" r="1.65"/><circle cx="202.3" cy="807.9" r="1.65"/><circle cx="282.7" cy="851.0" r="1.65"/><circle cx="158.1" cy="834.1" r="1.65"/><circle cx="207.8" cy="849.7" r="1.65"/><circle cx="186.8" cy="807.0" r="1.65"/><circle cx="152.5" cy="897.8" r="1.65"/><circle cx="213.3" cy="907.7" r="1.65"/><circle cx="280.7" cy="876.7" r="1.65"/><circle cx="173.3" cy="906.4" r="1.65"/><circle cx="224.1" cy="882.1" r="1.65"/><circle cx="235.9" cy="788.2" r="1.65"/><circle cx="228.8" cy="913.3" r="1.65"/><circle cx="284.6" cy="887.3" r="1.65"/><circle cx="215.6" cy="827.6" r="1.65"/><circle cx="202.6" cy="857.6" r="1.65"/><circle cx="203.0" cy="846.2" r="1.65"/><circle cx="182.5" cy="896.0" r="1.65"/><circle cx="226.3" cy="919.8" r="1.65"/><circle cx="125.1" cy="852.5" r="1.65"/><circle cx="240.9" cy="801.3" r="1.65"/><circle cx="137.6" cy="900.7" r="1.65"/><circle cx="269.3" cy="798.1" r="1.65"/><circle cx="111.4" cy="849.2" r="1.65"/><circle cx="231.6" cy="906.1" r="1.65"/><circle cx="174.0" cy="857.8" r="1.65"/><circle cx="195.7" cy="776.1" r="1.65"/><circle cx="107.6" cy="910.2" r="1.65"/><circle cx="245.7" cy="830.2" r="1.65"/><circle cx="137.5" cy="912.1" r="1.65"/><circle cx="145.2" cy="894.9" r="1.65"/><circle cx="213.4" cy="902.8" r="1.65"/><circle cx="185.0" cy="872.8" r="1.65"/><circle cx="161.7" cy="882.8" r="1.65"/><circle cx="171.0" cy="879.9" r="1.65"/><circle cx="207.8" cy="900.9" r="1.65"/><circle cx="197.2" cy="919.2" r="1.65"/><circle cx="247.0" cy="853.7" r="1.65"/><circle cx="142.8" cy="812.3" r="1.65"/><circle cx="89.0" cy="902.3" r="1.65"/><circle cx="146.9" cy="802.5" r="1.65"/><circle cx="310.8" cy="822.8" r="1.65"/><circle cx="177.2" cy="799.1" r="1.65"/><circle cx="173.5" cy="905.1" r="1.65"/><circle cx="154.6" cy="852.6" r="1.65"/><circle cx="285.8" cy="800.1" r="1.65"/><circle cx="253.6" cy="907.9" r="1.65"/><circle cx="190.0" cy="881.8" r="1.65"/><circle cx="184.8" cy="851.5" r="1.65"/><circle cx="109.8" cy="866.0" r="1.65"/><circle cx="72.3" cy="837.7" r="1.65"/><circle cx="212.3" cy="851.7" r="1.65"/><circle cx="251.7" cy="915.9" r="1.65"/><circle cx="171.8" cy="886.9" r="1.65"/><circle cx="171.1" cy="875.2" r="1.65"/><circle cx="214.4" cy="805.4" r="1.65"/><circle cx="265.3" cy="804.4" r="1.65"/><circle cx="178.1" cy="799.2" r="1.65"/><circle cx="157.5" cy="855.6" r="1.65"/><circle cx="208.1" cy="808.2" r="1.65"/><circle cx="182.6" cy="884.9" r="1.65"/><circle cx="231.6" cy="872.0" r="1.65"/><circle cx="145.0" cy="914.6" r="1.65"/><circle cx="139.0" cy="799.6" r="1.65"/><circle cx="74.1" cy="860.6" r="1.65"/><circle cx="213.7" cy="831.5" r="1.65"/><circle cx="249.5" cy="768.2" r="1.65"/><circle cx="234.1" cy="846.2" r="1.65"/><circle cx="127.7" cy="823.7" r="1.65"/><circle cx="208.4" cy="904.1" r="1.65"/><circle cx="168.6" cy="844.7" r="1.65"/><circle cx="234.3" cy="792.9" r="1.65"/><circle cx="136.6" cy="825.8" r="1.65"/><circle cx="274.7" cy="835.1" r="1.65"/><circle cx="153.9" cy="841.9" r="1.65"/><circle cx="318.6" cy="814.7" r="1.65"/><circle cx="213.2" cy="864.7" r="1.65"/><circle cx="176.4" cy="815.3" r="1.65"/><circle cx="101.7" cy="855.3" r="1.65"/><circle cx="121.6" cy="860.3" r="1.65"/><circle cx="119.0" cy="868.7" r="1.65"/><circle cx="129.8" cy="912.1" r="1.65"/><circle cx="128.9" cy="887.9" r="1.65"/><circle cx="137.5" cy="892.2" r="1.65"/><circle cx="296.4" cy="870.8" r="1.65"/><circle cx="110.2" cy="874.1" r="1.65"/><circle cx="169.4" cy="905.8" r="1.65"/><circle cx="142.5" cy="834.2" r="1.65"/><circle cx="246.1" cy="787.0" r="1.65"/><circle cx="155.7" cy="876.4" r="1.65"/><circle cx="159.0" cy="871.9" r="1.65"/><circle cx="254.9" cy="852.6" r="1.65"/><circle cx="64.9" cy="877.8" r="1.65"/><circle cx="162.4" cy="846.8" r="1.65"/><circle cx="150.5" cy="785.7" r="1.65"/><circle cx="114.9" cy="913.4" r="1.65"/><circle cx="229.6" cy="817.4" r="1.65"/><circle cx="288.1" cy="896.8" r="1.65"/><circle cx="196.0" cy="894.1" r="1.65"/><circle cx="121.7" cy="870.9" r="1.65"/><circle cx="194.2" cy="851.7" r="1.65"/><circle cx="140.6" cy="861.7" r="1.65"/><circle cx="187.8" cy="910.7" r="1.65"/><circle cx="192.9" cy="858.7" r="1.65"/><circle cx="148.5" cy="866.9" r="1.65"/><circle cx="288.6" cy="836.8" r="1.65"/><circle cx="172.8" cy="869.3" r="1.65"/><circle cx="207.9" cy="894.1" r="1.65"/><circle cx="177.3" cy="853.4" r="1.65"/><circle cx="205.2" cy="904.6" r="1.65"/><circle cx="229.8" cy="800.8" r="1.65"/><circle cx="191.9" cy="902.8" r="1.65"/><circle cx="267.1" cy="770.4" r="1.65"/><circle cx="218.9" cy="853.3" r="1.65"/><circle cx="146.8" cy="836.3" r="1.65"/><circle cx="262.4" cy="910.7" r="1.65"/><circle cx="260.4" cy="889.8" r="1.65"/><circle cx="205.4" cy="793.6" r="1.65"/><circle cx="286.8" cy="902.8" r="1.65"/><circle cx="191.6" cy="905.1" r="1.65"/><circle cx="139.7" cy="868.5" r="1.65"/><circle cx="195.7" cy="868.7" r="1.65"/><circle cx="236.8" cy="877.7" r="1.65"/><circle cx="203.9" cy="906.8" r="1.65"/><circle cx="141.7" cy="821.9" r="1.65"/><circle cx="180.9" cy="878.2" r="1.65"/><circle cx="208.6" cy="808.7" r="1.65"/><circle cx="165.8" cy="827.7" r="1.65"/><circle cx="228.3" cy="899.1" r="1.65"/><circle cx="170.2" cy="839.9" r="1.65"/><circle cx="181.8" cy="879.0" r="1.65"/><circle cx="267.8" cy="855.2" r="1.65"/><circle cx="154.9" cy="906.6" r="1.65"/><circle cx="211.6" cy="892.2" r="1.65"/><circle cx="313.9" cy="877.1" r="1.65"/><circle cx="160.9" cy="863.4" r="1.65"/><circle cx="139.8" cy="785.0" r="1.65"/><circle cx="175.6" cy="915.2" r="1.65"/><circle cx="230.9" cy="836.2" r="1.65"/><circle cx="207.5" cy="913.4" r="1.65"/><circle cx="256.1" cy="893.8" r="1.65"/><circle cx="318.6" cy="820.1" r="1.65"/><circle cx="285.6" cy="868.0" r="1.65"/><circle cx="177.9" cy="858.7" r="1.65"/><circle cx="239.7" cy="860.1" r="1.65"/><circle cx="164.9" cy="836.3" r="1.65"/><circle cx="204.6" cy="877.2" r="1.65"/><circle cx="205.3" cy="907.0" r="1.65"/><circle cx="164.1" cy="837.2" r="1.65"/><circle cx="154.9" cy="894.0" r="1.65"/><circle cx="201.8" cy="852.7" r="1.65"/><circle cx="228.2" cy="871.0" r="1.65"/><circle cx="257.2" cy="788.3" r="1.65"/><circle cx="135.1" cy="797.2" r="1.65"/><circle cx="286.1" cy="901.1" r="1.65"/><circle cx="206.0" cy="807.6" r="1.65"/><circle cx="65.4" cy="861.3" r="1.65"/><circle cx="139.2" cy="913.4" r="1.65"/><circle cx="104.6" cy="869.6" r="1.65"/><circle cx="161.8" cy="910.3" r="1.65"/><circle cx="232.2" cy="820.5" r="1.65"/><circle cx="203.7" cy="880.0" r="1.65"/><circle cx="161.6" cy="796.9" r="1.65"/><circle cx="185.9" cy="865.7" r="1.65"/><circle cx="77.8" cy="874.8" r="1.65"/><circle cx="214.9" cy="841.5" r="1.65"/><circle cx="265.0" cy="895.5" r="1.65"/><circle cx="292.5" cy="862.9" r="1.65"/><circle cx="269.6" cy="856.4" r="1.65"/><circle cx="171.7" cy="900.6" r="1.65"/><circle cx="166.5" cy="860.3" r="1.65"/><circle cx="209.8" cy="872.9" r="1.65"/><circle cx="267.3" cy="850.5" r="1.65"/><circle cx="250.1" cy="881.3" r="1.65"/><circle cx="232.8" cy="890.2" r="1.65"/><circle cx="191.3" cy="832.6" r="1.65"/><circle cx="189.6" cy="816.4" r="1.65"/><circle cx="196.5" cy="864.4" r="1.65"/><circle cx="237.8" cy="861.4" r="1.65"/><circle cx="193.6" cy="827.8" r="1.65"/><circle cx="198.3" cy="840.7" r="1.65"/><circle cx="238.0" cy="867.3" r="1.65"/><circle cx="254.4" cy="768.8" r="1.65"/><circle cx="254.3" cy="841.4" r="1.65"/><circle cx="136.2" cy="843.7" r="1.65"/><circle cx="176.8" cy="830.8" r="1.65"/><circle cx="259.4" cy="813.3" r="1.65"/><circle cx="176.2" cy="865.7" r="1.65"/><circle cx="249.4" cy="849.7" r="1.65"/><circle cx="210.6" cy="897.9" r="1.65"/><circle cx="192.8" cy="861.5" r="1.65"/><circle cx="121.5" cy="900.6" r="1.65"/><circle cx="240.4" cy="889.5" r="1.65"/><circle cx="236.6" cy="826.2" r="1.65"/><circle cx="182.3" cy="847.1" r="1.65"/><circle cx="179.4" cy="824.4" r="1.65"/><circle cx="211.3" cy="908.7" r="1.65"/><circle cx="146.9" cy="824.9" r="1.65"/><circle cx="144.9" cy="849.7" r="1.65"/><circle cx="179.6" cy="899.8" r="1.65"/><circle cx="251.7" cy="879.1" r="1.65"/><circle cx="215.1" cy="827.1" r="1.65"/><circle cx="122.1" cy="828.9" r="1.65"/><circle cx="190.2" cy="882.1" r="1.65"/><circle cx="215.8" cy="806.7" r="1.65"/><circle cx="287.6" cy="828.5" r="1.65"/><circle cx="81.9" cy="769.8" r="1.65"/><circle cx="279.4" cy="861.4" r="1.65"/><circle cx="275.9" cy="887.8" r="1.65"/><circle cx="275.7" cy="807.8" r="1.65"/><circle cx="260.1" cy="831.1" r="1.65"/><circle cx="243.5" cy="891.8" r="1.65"/><circle cx="119.2" cy="794.3" r="1.65"/><circle cx="207.0" cy="877.0" r="1.65"/><circle cx="108.6" cy="912.8" r="1.65"/><circle cx="218.7" cy="873.1" r="1.65"/><circle cx="234.4" cy="883.9" r="1.65"/><circle cx="136.6" cy="860.1" r="1.65"/><circle cx="227.3" cy="918.5" r="1.65"/><circle cx="183.7" cy="919.7" r="1.65"/><circle cx="118.3" cy="787.6" r="1.65"/><circle cx="144.5" cy="837.8" r="1.65"/><circle cx="146.0" cy="885.0" r="1.65"/><circle cx="216.1" cy="859.4" r="1.65"/><circle cx="214.5" cy="796.0" r="1.65"/><circle cx="201.0" cy="784.0" r="1.65"/><circle cx="183.6" cy="912.0" r="1.65"/><circle cx="153.7" cy="828.9" r="1.65"/><circle cx="238.5" cy="845.9" r="1.65"/><circle cx="292.1" cy="853.4" r="1.65"/><circle cx="150.6" cy="881.4" r="1.65"/><circle cx="214.3" cy="777.3" r="1.65"/><circle cx="171.5" cy="919.5" r="1.65"/><circle cx="293.4" cy="831.4" r="1.65"/><circle cx="178.0" cy="915.2" r="1.65"/><circle cx="98.4" cy="823.5" r="1.65"/><circle cx="146.1" cy="834.9" r="1.65"/><circle cx="228.6" cy="791.5" r="1.65"/><circle cx="251.6" cy="850.3" r="1.65"/><circle cx="198.5" cy="876.7" r="1.65"/><circle cx="288.9" cy="821.2" r="1.65"/><circle cx="189.2" cy="905.2" r="1.65"/><circle cx="287.0" cy="814.0" r="1.65"/><circle cx="148.6" cy="892.8" r="1.65"/><circle cx="163.9" cy="818.5" r="1.65"/><circle cx="145.0" cy="812.2" r="1.65"/><circle cx="161.9" cy="887.1" r="1.65"/><circle cx="234.0" cy="879.2" r="1.65"/><circle cx="277.5" cy="786.5" r="1.65"/><circle cx="219.7" cy="811.4" r="1.65"/><circle cx="230.8" cy="876.2" r="1.65"/><circle cx="249.7" cy="848.8" r="1.65"/><circle cx="249.8" cy="865.0" r="1.65"/><circle cx="185.6" cy="827.0" r="1.65"/><circle cx="174.6" cy="865.9" r="1.65"/><circle cx="189.2" cy="892.2" r="1.65"/><circle cx="201.1" cy="813.6" r="1.65"/><circle cx="285.6" cy="841.0" r="1.65"/><circle cx="214.5" cy="889.0" r="1.65"/><circle cx="189.1" cy="773.3" r="1.65"/><circle cx="231.9" cy="821.0" r="1.65"/><circle cx="220.7" cy="919.6" r="1.65"/><circle cx="141.5" cy="919.4" r="1.65"/><circle cx="251.2" cy="802.9" r="1.65"/><circle cx="213.6" cy="855.8" r="1.65"/><circle cx="238.2" cy="852.4" r="1.65"/><circle cx="175.4" cy="871.9" r="1.65"/><circle cx="219.4" cy="875.2" r="1.65"/><circle cx="238.0" cy="877.5" r="1.65"/><circle cx="137.6" cy="809.8" r="1.65"/><circle cx="258.2" cy="810.3" r="1.65"/><circle cx="75.7" cy="911.1" r="1.65"/><circle cx="146.1" cy="850.6" r="1.65"/><circle cx="186.0" cy="850.2" r="1.65"/><circle cx="249.7" cy="897.0" r="1.65"/><circle cx="195.9" cy="804.8" r="1.65"/><circle cx="241.1" cy="843.1" r="1.65"/><circle cx="212.9" cy="849.9" r="1.65"/><circle cx="129.4" cy="908.1" r="1.65"/><circle cx="109.1" cy="806.0" r="1.65"/><circle cx="208.5" cy="849.3" r="1.65"/><circle cx="169.8" cy="873.4" r="1.65"/><circle cx="199.1" cy="898.1" r="1.65"/><circle cx="138.0" cy="844.1" r="1.65"/><circle cx="194.6" cy="892.1" r="1.65"/><circle cx="201.9" cy="848.4" r="1.65"/><circle cx="221.7" cy="858.6" r="1.65"/><circle cx="144.8" cy="901.8" r="1.65"/><circle cx="278.7" cy="876.0" r="1.65"/><circle cx="193.8" cy="796.7" r="1.65"/><circle cx="165.3" cy="901.8" r="1.65"/><circle cx="111.3" cy="887.8" r="1.65"/><circle cx="221.5" cy="840.8" r="1.65"/><circle cx="238.4" cy="779.8" r="1.65"/><circle cx="223.0" cy="797.9" r="1.65"/><circle cx="227.0" cy="915.1" r="1.65"/><circle cx="254.1" cy="825.1" r="1.65"/><circle cx="218.5" cy="895.9" r="1.65"/><circle cx="139.5" cy="886.9" r="1.65"/><circle cx="108.0" cy="918.6" r="1.65"/><circle cx="166.3" cy="875.9" r="1.65"/><circle cx="318.6" cy="919.8" r="1.65"/><circle cx="294.5" cy="825.1" r="1.65"/><circle cx="255.9" cy="894.3" r="1.65"/><circle cx="206.1" cy="865.5" r="1.65"/><circle cx="198.1" cy="893.5" r="1.65"/><circle cx="184.6" cy="913.4" r="1.65"/><circle cx="240.7" cy="837.3" r="1.65"/><circle cx="185.0" cy="844.9" r="1.65"/><circle cx="119.4" cy="881.3" r="1.65"/><circle cx="187.8" cy="901.6" r="1.65"/><circle cx="216.7" cy="874.9" r="1.65"/><circle cx="175.0" cy="882.7" r="1.65"/><circle cx="119.0" cy="766.7" r="1.65"/><circle cx="232.0" cy="831.4" r="1.65"/><circle cx="209.5" cy="883.2" r="1.65"/><circle cx="221.5" cy="811.7" r="1.65"/><circle cx="265.2" cy="814.9" r="1.65"/><circle cx="112.7" cy="888.1" r="1.65"/><circle cx="316.8" cy="766.5" r="1.65"/><circle cx="306.0" cy="908.0" r="1.65"/><circle cx="239.5" cy="918.3" r="1.65"/><circle cx="192.7" cy="902.5" r="1.65"/><circle cx="102.7" cy="784.3" r="1.65"/><circle cx="166.2" cy="895.1" r="1.65"/><circle cx="186.7" cy="865.0" r="1.65"/><circle cx="174.8" cy="826.5" r="1.65"/><circle cx="175.9" cy="797.6" r="1.65"/><circle cx="116.3" cy="840.2" r="1.65"/><circle cx="200.7" cy="906.5" r="1.65"/><circle cx="289.7" cy="880.0" r="1.65"/><circle cx="231.0" cy="916.5" r="1.65"/><circle cx="150.7" cy="878.0" r="1.65"/><circle cx="143.3" cy="891.0" r="1.65"/><circle cx="173.7" cy="844.3" r="1.65"/><circle cx="194.9" cy="801.7" r="1.65"/><circle cx="212.4" cy="852.7" r="1.65"/><circle cx="172.1" cy="697.2" r="1.65"/><circle cx="165.4" cy="718.6" r="1.65"/><circle cx="192.3" cy="725.2" r="1.65"/><circle cx="156.2" cy="730.9" r="1.65"/><circle cx="138.4" cy="738.6" r="1.65"/><circle cx="170.1" cy="744.2" r="1.65"/><circle cx="179.7" cy="744.8" r="1.65"/><circle cx="182.7" cy="744.8" r="1.65"/><circle cx="132.7" cy="750.7" r="1.65"/><circle cx="123.1" cy="752.7" r="1.65"/><circle cx="166.8" cy="753.4" r="1.65"/><circle cx="173.1" cy="750.9" r="1.65"/><circle cx="174.6" cy="750.5" r="1.65"/><circle cx="192.3" cy="758.9" r="1.65"/><circle cx="125.5" cy="763.0" r="1.65"/><circle cx="157.2" cy="763.0" r="1.65"/><circle cx="173.1" cy="764.0" r="1.65"/><circle cx="96.3" cy="765.6" r="1.65"/><circle cx="177.6" cy="767.7" r="1.65"/><circle cx="202.9" cy="694.1" r="1.65"/><circle cx="207.0" cy="710.4" r="1.65"/><circle cx="235.0" cy="720.2" r="1.65"/><circle cx="236.0" cy="721.7" r="1.65"/><circle cx="249.9" cy="730.3" r="1.65"/><circle cx="203.9" cy="737.4" r="1.65"/><circle cx="204.7" cy="738.6" r="1.65"/><circle cx="261.5" cy="737.4" r="1.65"/><circle cx="260.5" cy="741.7" r="1.65"/><circle cx="208.8" cy="742.7" r="1.65"/><circle cx="212.5" cy="742.7" r="1.65"/><circle cx="212.9" cy="740.7" r="1.65"/><circle cx="197.2" cy="748.9" r="1.65"/><circle cx="242.1" cy="748.9" r="1.65"/><circle cx="235.4" cy="752.3" r="1.65"/><circle cx="202.3" cy="753.8" r="1.65"/><circle cx="211.9" cy="756.2" r="1.65"/><circle cx="246.2" cy="756.2" r="1.65"/><circle cx="276.9" cy="755.4" r="1.65"/><circle cx="192.5" cy="758.7" r="1.65"/><circle cx="220.0" cy="758.7" r="1.65"/><circle cx="235.4" cy="759.3" r="1.65"/><circle cx="241.5" cy="761.5" r="1.65"/><circle cx="246.2" cy="760.9" r="1.65"/><circle cx="265.2" cy="761.1" r="1.65"/><circle cx="195.1" cy="764.0" r="1.65"/><circle cx="205.9" cy="762.6" r="1.65"/><circle cx="274.8" cy="763.6" r="1.65"/><circle cx="203.9" cy="765.2" r="1.65"/><circle cx="210.4" cy="766.6" r="1.65"/><circle cx="225.8" cy="768.7" r="1.65"/><circle cx="293.2" cy="768.1" r="1.65"/></g>
<line x1="54.8" x2="327.9" y1="765.50" y2="765.50" stroke="#e03535" stroke-width="1.0"/>
<line y1="685.3" y2="929.1" x1="297.50" x2="297.50" stroke="#e03535" stroke-width="1.0"/>
<rect x="54.8" y="685.3" width="273.10" height="243.80" fill="none" stroke="#333" stroke-width="0.8"/>
<path d="M104.80 929.1v4.0M169.10 929.1v4.0M233.40 929.1v4.0M297.70 929.1v4.0M54.8 920.50h-4.0M54.8 858.40h-4.0M54.8 796.30h-4.0M54.8 734.20h-4.0" stroke="#333" stroke-width="0.8" fill="none"/>
<text x="104.80" y="946.8" text-anchor="middle" font-size="8.5">0.2</text>
<text x="169.10" y="946.8" text-anchor="middle" font-size="8.5">0.4</text>
<text x="233.40" y="946.8" text-anchor="middle" font-size="8.5">0.6</text>
<text x="297.70" y="946.8" text-anchor="middle" font-size="8.5">0.8</text>
<text transform="translate(43.40,920.50) rotate(-90)" text-anchor="middle" font-size="8.5">0.0</text>
<text transform="translate(43.40,858.40) rotate(-90)" text-anchor="middle" font-size="8.5">0.2</text>
<text transform="translate(43.40,796.30) rotate(-90)" text-anchor="middle" font-size="8.5">0.4</text>
<text transform="translate(43.40,734.20) rotate(-90)" text-anchor="middle" font-size="8.5">0.6</text>
<text x="191.6" y="663.0" text-anchor="middle" font-size="9.35" font-weight="bold">Module membership vs. gene significance</text>
<text x="191.6" y="674.3" text-anchor="middle" font-size="9.35" font-weight="bold">cor=0.11, p=0.00046</text>
<text x="191.6" y="965.3" text-anchor="middle" font-size="9.1">Module Membership in green module</text>
<text transform="translate(25.0,807.20) rotate(-90)" text-anchor="middle" font-size="9.1" xml:space="preserve">Gene significance for  IVDD</text>
<text x="0.7" y="662.4" font-size="13.2" font-weight="bold">E</text>
<g fill="none" stroke="#a52a2a" stroke-width="0.8"><circle cx="494.3" cy="896.1" r="1.65"/><circle cx="535.4" cy="917.7" r="1.65"/><circle cx="529.4" cy="910.8" r="1.65"/><circle cx="517.7" cy="831.1" r="1.65"/><circle cx="487.2" cy="867.8" r="1.65"/><circle cx="540.3" cy="878.4" r="1.65"/><circle cx="520.7" cy="877.3" r="1.65"/><circle cx="601.9" cy="864.1" r="1.65"/><circle cx="516.4" cy="796.7" r="1.65"/><circle cx="570.8" cy="896.2" r="1.65"/><circle cx="503.9" cy="878.4" r="1.65"/><circle cx="576.8" cy="854.5" r="1.65"/><circle cx="586.0" cy="845.7" r="1.65"/><circle cx="504.9" cy="830.0" r="1.65"/><circle cx="560.8" cy="815.8" r="1.65"/><circle cx="583.2" cy="884.0" r="1.65"/><circle cx="505.6" cy="868.3" r="1.65"/><circle cx="535.4" cy="771.3" r="1.65"/><circle cx="576.0" cy="846.2" r="1.65"/><circle cx="549.3" cy="830.6" r="1.65"/><circle cx="531.1" cy="802.6" r="1.65"/><circle cx="482.7" cy="792.8" r="1.65"/><circle cx="584.9" cy="823.5" r="1.65"/><circle cx="634.1" cy="912.1" r="1.65"/><circle cx="583.0" cy="920.5" r="1.65"/><circle cx="573.6" cy="905.3" r="1.65"/><circle cx="540.8" cy="863.7" r="1.65"/><circle cx="596.1" cy="883.7" r="1.65"/><circle cx="546.5" cy="909.6" r="1.65"/><circle cx="552.5" cy="878.3" r="1.65"/><circle cx="558.4" cy="877.2" r="1.65"/><circle cx="615.8" cy="805.9" r="1.65"/><circle cx="528.7" cy="792.3" r="1.65"/><circle cx="545.6" cy="831.9" r="1.65"/><circle cx="550.3" cy="876.2" r="1.65"/><circle cx="495.6" cy="903.1" r="1.65"/><circle cx="596.4" cy="791.3" r="1.65"/><circle cx="462.4" cy="869.0" r="1.65"/><circle cx="515.2" cy="850.6" r="1.65"/><circle cx="465.7" cy="874.8" r="1.65"/><circle cx="434.1" cy="881.8" r="1.65"/><circle cx="531.8" cy="882.6" r="1.65"/><circle cx="441.1" cy="839.5" r="1.65"/><circle cx="625.0" cy="873.3" r="1.65"/><circle cx="520.8" cy="915.9" r="1.65"/><circle cx="456.8" cy="902.5" r="1.65"/><circle cx="539.6" cy="867.9" r="1.65"/><circle cx="487.6" cy="885.5" r="1.65"/><circle cx="583.4" cy="850.3" r="1.65"/><circle cx="634.9" cy="793.3" r="1.65"/><circle cx="459.6" cy="911.5" r="1.65"/><circle cx="553.5" cy="905.5" r="1.65"/><circle cx="620.9" cy="910.7" r="1.65"/><circle cx="504.4" cy="917.1" r="1.65"/><circle cx="430.5" cy="904.4" r="1.65"/><circle cx="577.6" cy="897.9" r="1.65"/><circle cx="516.7" cy="829.2" r="1.65"/><circle cx="574.7" cy="918.6" r="1.65"/><circle cx="545.2" cy="842.0" r="1.65"/><circle cx="623.2" cy="881.0" r="1.65"/><circle cx="580.9" cy="878.8" r="1.65"/><circle cx="618.0" cy="904.9" r="1.65"/><circle cx="451.2" cy="832.6" r="1.65"/><circle cx="538.4" cy="853.8" r="1.65"/><circle cx="625.9" cy="913.5" r="1.65"/><circle cx="493.0" cy="844.5" r="1.65"/><circle cx="572.4" cy="903.6" r="1.65"/><circle cx="586.6" cy="874.3" r="1.65"/><circle cx="590.3" cy="857.6" r="1.65"/><circle cx="544.8" cy="889.9" r="1.65"/><circle cx="523.5" cy="861.1" r="1.65"/><circle cx="488.0" cy="910.5" r="1.65"/><circle cx="597.2" cy="864.3" r="1.65"/><circle cx="565.8" cy="918.0" r="1.65"/><circle cx="549.0" cy="874.9" r="1.65"/><circle cx="562.8" cy="801.3" r="1.65"/><circle cx="555.2" cy="870.2" r="1.65"/><circle cx="517.7" cy="799.3" r="1.65"/><circle cx="506.3" cy="828.6" r="1.65"/><circle cx="431.6" cy="919.7" r="1.65"/><circle cx="481.5" cy="898.6" r="1.65"/><circle cx="562.4" cy="890.7" r="1.65"/><circle cx="614.3" cy="837.5" r="1.65"/><circle cx="495.9" cy="839.7" r="1.65"/><circle cx="590.9" cy="875.9" r="1.65"/><circle cx="522.3" cy="863.1" r="1.65"/><circle cx="477.2" cy="884.4" r="1.65"/><circle cx="570.4" cy="912.1" r="1.65"/><circle cx="557.9" cy="892.2" r="1.65"/><circle cx="531.5" cy="902.6" r="1.65"/><circle cx="561.1" cy="843.3" r="1.65"/><circle cx="496.1" cy="903.3" r="1.65"/><circle cx="540.4" cy="895.1" r="1.65"/><circle cx="618.5" cy="826.9" r="1.65"/><circle cx="516.9" cy="875.1" r="1.65"/><circle cx="598.3" cy="874.3" r="1.65"/><circle cx="497.5" cy="883.5" r="1.65"/><circle cx="526.3" cy="878.7" r="1.65"/><circle cx="589.5" cy="884.1" r="1.65"/><circle cx="497.8" cy="792.1" r="1.65"/><circle cx="590.1" cy="866.7" r="1.65"/><circle cx="573.7" cy="915.0" r="1.65"/><circle cx="552.9" cy="805.7" r="1.65"/><circle cx="560.4" cy="867.7" r="1.65"/><circle cx="513.4" cy="794.2" r="1.65"/><circle cx="558.0" cy="895.5" r="1.65"/><circle cx="469.0" cy="796.8" r="1.65"/><circle cx="534.5" cy="911.9" r="1.65"/><circle cx="604.5" cy="893.8" r="1.65"/><circle cx="601.5" cy="902.1" r="1.65"/><circle cx="594.0" cy="911.7" r="1.65"/><circle cx="555.3" cy="771.6" r="1.65"/><circle cx="467.4" cy="835.4" r="1.65"/><circle cx="610.4" cy="777.2" r="1.65"/><circle cx="610.8" cy="875.2" r="1.65"/><circle cx="578.9" cy="888.2" r="1.65"/><circle cx="529.8" cy="862.8" r="1.65"/><circle cx="496.0" cy="816.0" r="1.65"/><circle cx="594.9" cy="871.1" r="1.65"/><circle cx="584.4" cy="895.7" r="1.65"/><circle cx="534.8" cy="826.1" r="1.65"/><circle cx="571.2" cy="908.9" r="1.65"/><circle cx="605.9" cy="917.6" r="1.65"/><circle cx="495.8" cy="827.4" r="1.65"/><circle cx="482.6" cy="865.7" r="1.65"/><circle cx="605.0" cy="881.8" r="1.65"/><circle cx="470.4" cy="875.6" r="1.65"/><circle cx="547.9" cy="816.4" r="1.65"/><circle cx="600.0" cy="806.4" r="1.65"/><circle cx="616.2" cy="867.9" r="1.65"/><circle cx="561.5" cy="813.1" r="1.65"/><circle cx="512.1" cy="891.8" r="1.65"/><circle cx="435.7" cy="899.9" r="1.65"/><circle cx="472.3" cy="877.4" r="1.65"/><circle cx="490.1" cy="774.8" r="1.65"/><circle cx="548.6" cy="897.4" r="1.65"/><circle cx="473.2" cy="899.0" r="1.65"/><circle cx="534.0" cy="876.9" r="1.65"/><circle cx="566.2" cy="912.2" r="1.65"/><circle cx="597.7" cy="789.3" r="1.65"/><circle cx="461.7" cy="775.9" r="1.65"/><circle cx="548.1" cy="852.6" r="1.65"/><circle cx="627.0" cy="857.7" r="1.65"/><circle cx="460.3" cy="843.8" r="1.65"/><circle cx="529.2" cy="824.9" r="1.65"/><circle cx="462.0" cy="900.4" r="1.65"/><circle cx="573.4" cy="865.7" r="1.65"/><circle cx="582.7" cy="830.9" r="1.65"/><circle cx="544.7" cy="787.2" r="1.65"/><circle cx="544.5" cy="869.1" r="1.65"/><circle cx="526.8" cy="804.5" r="1.65"/><circle cx="596.6" cy="913.4" r="1.65"/><circle cx="629.4" cy="818.3" r="1.65"/><circle cx="522.8" cy="894.7" r="1.65"/><circle cx="555.6" cy="826.4" r="1.65"/><circle cx="417.1" cy="788.6" r="1.65"/><circle cx="587.3" cy="840.3" r="1.65"/><circle cx="657.4" cy="827.0" r="1.65"/><circle cx="599.0" cy="816.3" r="1.65"/><circle cx="519.9" cy="853.4" r="1.65"/><circle cx="566.4" cy="858.2" r="1.65"/><circle cx="624.6" cy="874.4" r="1.65"/><circle cx="601.8" cy="841.4" r="1.65"/><circle cx="517.9" cy="827.0" r="1.65"/><circle cx="594.0" cy="897.6" r="1.65"/><circle cx="453.1" cy="855.1" r="1.65"/><circle cx="549.7" cy="875.6" r="1.65"/><circle cx="604.8" cy="887.3" r="1.65"/><circle cx="576.6" cy="885.5" r="1.65"/><circle cx="645.4" cy="837.4" r="1.65"/><circle cx="530.0" cy="873.4" r="1.65"/><circle cx="555.9" cy="843.7" r="1.65"/><circle cx="618.6" cy="899.6" r="1.65"/><circle cx="527.4" cy="890.2" r="1.65"/><circle cx="522.0" cy="875.8" r="1.65"/><circle cx="607.5" cy="832.4" r="1.65"/><circle cx="532.4" cy="908.1" r="1.65"/><circle cx="524.1" cy="878.3" r="1.65"/><circle cx="541.6" cy="901.9" r="1.65"/><circle cx="545.7" cy="800.7" r="1.65"/><circle cx="595.1" cy="899.6" r="1.65"/><circle cx="571.7" cy="865.9" r="1.65"/><circle cx="468.6" cy="910.6" r="1.65"/><circle cx="562.0" cy="805.8" r="1.65"/><circle cx="513.1" cy="856.9" r="1.65"/><circle cx="615.2" cy="798.0" r="1.65"/><circle cx="600.4" cy="900.6" r="1.65"/><circle cx="519.1" cy="835.4" r="1.65"/><circle cx="563.0" cy="872.4" r="1.65"/><circle cx="616.7" cy="900.8" r="1.65"/><circle cx="607.3" cy="849.7" r="1.65"/><circle cx="587.9" cy="863.4" r="1.65"/><circle cx="516.4" cy="912.2" r="1.65"/><circle cx="543.4" cy="912.7" r="1.65"/><circle cx="555.1" cy="857.3" r="1.65"/><circle cx="562.7" cy="874.7" r="1.65"/><circle cx="583.0" cy="877.1" r="1.65"/><circle cx="486.2" cy="851.8" r="1.65"/><circle cx="570.9" cy="900.2" r="1.65"/><circle cx="558.8" cy="894.7" r="1.65"/><circle cx="607.7" cy="917.9" r="1.65"/><circle cx="618.3" cy="886.8" r="1.65"/><circle cx="574.8" cy="789.2" r="1.65"/><circle cx="658.4" cy="822.7" r="1.65"/><circle cx="533.9" cy="810.3" r="1.65"/><circle cx="580.2" cy="872.0" r="1.65"/><circle cx="623.4" cy="831.9" r="1.65"/><circle cx="580.2" cy="830.6" r="1.65"/><circle cx="584.1" cy="892.7" r="1.65"/><circle cx="511.9" cy="851.6" r="1.65"/><circle cx="634.5" cy="844.2" r="1.65"/><circle cx="580.6" cy="867.8" r="1.65"/><circle cx="562.6" cy="821.9" r="1.65"/><circle cx="467.4" cy="890.1" r="1.65"/><circle cx="415.3" cy="859.9" r="1.65"/><circle cx="553.5" cy="904.6" r="1.65"/><circle cx="502.5" cy="832.1" r="1.65"/><circle cx="567.0" cy="877.6" r="1.65"/><circle cx="521.7" cy="889.9" r="1.65"/><circle cx="530.9" cy="812.3" r="1.65"/><circle cx="601.2" cy="889.7" r="1.65"/><circle cx="458.5" cy="871.5" r="1.65"/><circle cx="578.4" cy="846.7" r="1.65"/><circle cx="503.1" cy="870.5" r="1.65"/><circle cx="638.5" cy="882.3" r="1.65"/><circle cx="631.4" cy="863.6" r="1.65"/><circle cx="496.6" cy="855.8" r="1.65"/><circle cx="559.6" cy="874.4" r="1.65"/><circle cx="599.4" cy="883.6" r="1.65"/><circle cx="587.7" cy="900.4" r="1.65"/><circle cx="572.9" cy="843.7" r="1.65"/><circle cx="544.4" cy="886.8" r="1.65"/><circle cx="592.1" cy="853.6" r="1.65"/><circle cx="510.9" cy="883.0" r="1.65"/><circle cx="448.4" cy="827.7" r="1.65"/><circle cx="445.3" cy="866.0" r="1.65"/><circle cx="591.7" cy="910.1" r="1.65"/><circle cx="557.6" cy="887.0" r="1.65"/><circle cx="548.1" cy="852.3" r="1.65"/><circle cx="457.7" cy="896.1" r="1.65"/><circle cx="565.2" cy="862.4" r="1.65"/><circle cx="479.6" cy="867.1" r="1.65"/><circle cx="527.5" cy="883.0" r="1.65"/><circle cx="552.9" cy="841.7" r="1.65"/><circle cx="533.8" cy="806.0" r="1.65"/><circle cx="502.0" cy="863.9" r="1.65"/><circle cx="613.6" cy="805.4" r="1.65"/><circle cx="545.4" cy="785.6" r="1.65"/><circle cx="459.4" cy="896.7" r="1.65"/><circle cx="550.4" cy="899.5" r="1.65"/><circle cx="631.3" cy="862.2" r="1.65"/><circle cx="578.6" cy="917.6" r="1.65"/><circle cx="523.1" cy="909.2" r="1.65"/><circle cx="439.7" cy="883.2" r="1.65"/><circle cx="564.4" cy="862.0" r="1.65"/><circle cx="570.4" cy="901.3" r="1.65"/><circle cx="611.8" cy="829.2" r="1.65"/><circle cx="604.3" cy="893.4" r="1.65"/><circle cx="489.6" cy="890.0" r="1.65"/><circle cx="556.3" cy="843.9" r="1.65"/><circle cx="510.3" cy="874.6" r="1.65"/><circle cx="454.0" cy="796.9" r="1.65"/><circle cx="518.5" cy="881.9" r="1.65"/><circle cx="504.5" cy="847.7" r="1.65"/><circle cx="602.9" cy="778.3" r="1.65"/><circle cx="547.5" cy="865.2" r="1.65"/><circle cx="654.9" cy="849.2" r="1.65"/><circle cx="574.7" cy="914.1" r="1.65"/><circle cx="511.7" cy="902.1" r="1.65"/><circle cx="515.0" cy="855.4" r="1.65"/><circle cx="616.1" cy="872.0" r="1.65"/><circle cx="439.1" cy="844.9" r="1.65"/><circle cx="623.0" cy="892.2" r="1.65"/><circle cx="646.8" cy="872.2" r="1.65"/><circle cx="498.4" cy="910.1" r="1.65"/><circle cx="549.1" cy="905.0" r="1.65"/><circle cx="521.7" cy="908.5" r="1.65"/><circle cx="542.0" cy="873.3" r="1.65"/><circle cx="533.4" cy="894.7" r="1.65"/><circle cx="587.0" cy="795.6" r="1.65"/><circle cx="616.3" cy="869.5" r="1.65"/><circle cx="564.6" cy="841.3" r="1.65"/><circle cx="499.7" cy="901.5" r="1.65"/><circle cx="488.8" cy="881.9" r="1.65"/><circle cx="564.1" cy="847.1" r="1.65"/><circle cx="595.4" cy="840.3" r="1.65"/><circle cx="533.9" cy="862.9" r="1.65"/><circle cx="523.7" cy="882.8" r="1.65"/><circle cx="629.3" cy="869.8" r="1.65"/><circle cx="559.0" cy="812.9" r="1.65"/><circle cx="655.9" cy="831.0" r="1.65"/><circle cx="526.1" cy="874.7" r="1.65"/><circle cx="638.0" cy="838.5" r="1.65"/><circle cx="566.7" cy="847.2" r="1.65"/><circle cx="594.5" cy="892.2" r="1.65"/><circle cx="525.8" cy="875.2" r="1.65"/><circle cx="596.8" cy="850.2" r="1.65"/><circle cx="486.2" cy="862.5" r="1.65"/><circle cx="463.3" cy="841.8" r="1.65"/><circle cx="515.0" cy="894.7" r="1.65"/><circle cx="465.2" cy="912.4" r="1.65"/><circle cx="578.5" cy="866.9" r="1.65"/><circle cx="529.6" cy="873.0" r="1.65"/><circle cx="431.7" cy="860.4" r="1.65"/><circle cx="498.1" cy="888.5" r="1.65"/><circle cx="517.3" cy="872.3" r="1.65"/><circle cx="574.6" cy="799.0" r="1.65"/><circle cx="501.3" cy="876.9" r="1.65"/><circle cx="610.2" cy="882.3" r="1.65"/><circle cx="481.7" cy="879.8" r="1.65"/><circle cx="609.4" cy="916.1" r="1.65"/><circle cx="585.1" cy="829.2" r="1.65"/><circle cx="610.1" cy="896.3" r="1.65"/><circle cx="576.4" cy="901.3" r="1.65"/><circle cx="624.3" cy="850.8" r="1.65"/><circle cx="500.6" cy="888.5" r="1.65"/><circle cx="528.5" cy="916.1" r="1.65"/><circle cx="543.0" cy="796.9" r="1.65"/><circle cx="499.2" cy="790.7" r="1.65"/><circle cx="551.7" cy="892.8" r="1.65"/><circle cx="481.4" cy="902.9" r="1.65"/><circle cx="631.5" cy="873.3" r="1.65"/><circle cx="543.9" cy="840.3" r="1.65"/><circle cx="581.9" cy="880.2" r="1.65"/><circle cx="537.3" cy="815.9" r="1.65"/><circle cx="504.0" cy="912.6" r="1.65"/><circle cx="591.3" cy="914.5" r="1.65"/><circle cx="635.3" cy="902.7" r="1.65"/><circle cx="491.5" cy="829.6" r="1.65"/><circle cx="465.9" cy="873.4" r="1.65"/><circle cx="537.4" cy="845.7" r="1.65"/><circle cx="451.6" cy="895.9" r="1.65"/><circle cx="523.6" cy="887.7" r="1.65"/><circle cx="475.1" cy="888.6" r="1.65"/><circle cx="558.9" cy="846.5" r="1.65"/><circle cx="586.6" cy="896.3" r="1.65"/><circle cx="592.7" cy="849.5" r="1.65"/><circle cx="495.6" cy="913.1" r="1.65"/><circle cx="566.0" cy="830.2" r="1.65"/><circle cx="496.9" cy="801.9" r="1.65"/><circle cx="581.1" cy="802.0" r="1.65"/><circle cx="589.8" cy="852.0" r="1.65"/><circle cx="519.1" cy="850.8" r="1.65"/><circle cx="530.6" cy="911.3" r="1.65"/><circle cx="525.4" cy="860.0" r="1.65"/><circle cx="474.6" cy="859.0" r="1.65"/><circle cx="570.1" cy="806.1" r="1.65"/><circle cx="473.3" cy="875.0" r="1.65"/><circle cx="516.9" cy="804.3" r="1.65"/><circle cx="564.1" cy="856.7" r="1.65"/><circle cx="557.2" cy="895.7" r="1.65"/><circle cx="473.0" cy="865.2" r="1.65"/><circle cx="556.3" cy="836.4" r="1.65"/><circle cx="535.9" cy="904.7" r="1.65"/><circle cx="514.1" cy="838.4" r="1.65"/><circle cx="506.2" cy="867.8" r="1.65"/><circle cx="420.2" cy="901.9" r="1.65"/><circle cx="533.9" cy="772.2" r="1.65"/><circle cx="527.8" cy="907.5" r="1.65"/><circle cx="409.6" cy="847.2" r="1.65"/><circle cx="614.4" cy="910.3" r="1.65"/><circle cx="569.4" cy="870.5" r="1.65"/><circle cx="518.5" cy="827.4" r="1.65"/><circle cx="589.9" cy="849.7" r="1.65"/><circle cx="529.7" cy="897.2" r="1.65"/><circle cx="541.0" cy="881.5" r="1.65"/><circle cx="647.9" cy="867.4" r="1.65"/><circle cx="550.1" cy="798.0" r="1.65"/><circle cx="529.2" cy="919.2" r="1.65"/><circle cx="622.1" cy="812.6" r="1.65"/><circle cx="450.9" cy="905.6" r="1.65"/><circle cx="583.1" cy="770.5" r="1.65"/><circle cx="592.6" cy="864.8" r="1.65"/><circle cx="542.0" cy="839.6" r="1.65"/><circle cx="485.0" cy="891.2" r="1.65"/><circle cx="469.5" cy="881.4" r="1.65"/><circle cx="558.3" cy="904.4" r="1.65"/><circle cx="417.1" cy="892.5" r="1.65"/><circle cx="642.6" cy="838.7" r="1.65"/><circle cx="614.1" cy="910.7" r="1.65"/><circle cx="546.0" cy="838.8" r="1.65"/><circle cx="576.4" cy="865.7" r="1.65"/><circle cx="460.9" cy="818.0" r="1.65"/><circle cx="498.2" cy="886.7" r="1.65"/><circle cx="455.9" cy="818.1" r="1.65"/><circle cx="593.4" cy="891.9" r="1.65"/><circle cx="559.0" cy="903.8" r="1.65"/><circle cx="556.2" cy="826.0" r="1.65"/><circle cx="458.2" cy="894.9" r="1.65"/><circle cx="522.5" cy="855.5" r="1.65"/><circle cx="469.2" cy="878.8" r="1.65"/><circle cx="609.2" cy="892.1" r="1.65"/><circle cx="431.6" cy="776.2" r="1.65"/><circle cx="554.9" cy="843.5" r="1.65"/><circle cx="614.6" cy="846.1" r="1.65"/><circle cx="486.6" cy="816.9" r="1.65"/><circle cx="530.3" cy="906.5" r="1.65"/><circle cx="587.6" cy="864.1" r="1.65"/><circle cx="496.2" cy="855.9" r="1.65"/><circle cx="451.3" cy="919.3" r="1.65"/><circle cx="592.4" cy="813.6" r="1.65"/><circle cx="491.9" cy="892.3" r="1.65"/><circle cx="573.0" cy="764.3" r="1.65"/><circle cx="499.5" cy="826.7" r="1.65"/><circle cx="579.6" cy="837.1" r="1.65"/><circle cx="575.6" cy="897.6" r="1.65"/><circle cx="422.5" cy="866.3" r="1.65"/><circle cx="580.6" cy="808.1" r="1.65"/><circle cx="563.0" cy="897.6" r="1.65"/><circle cx="511.9" cy="770.1" r="1.65"/><circle cx="521.8" cy="805.8" r="1.65"/><circle cx="545.1" cy="898.9" r="1.65"/><circle cx="490.7" cy="867.2" r="1.65"/><circle cx="430.6" cy="903.9" r="1.65"/><circle cx="563.8" cy="878.8" r="1.65"/><circle cx="434.9" cy="824.5" r="1.65"/><circle cx="514.9" cy="901.6" r="1.65"/><circle cx="510.5" cy="828.9" r="1.65"/><circle cx="580.7" cy="820.8" r="1.65"/><circle cx="526.7" cy="912.5" r="1.65"/><circle cx="514.2" cy="879.7" r="1.65"/><circle cx="568.5" cy="916.5" r="1.65"/><circle cx="526.6" cy="820.5" r="1.65"/><circle cx="509.3" cy="897.0" r="1.65"/><circle cx="489.7" cy="911.0" r="1.65"/><circle cx="545.9" cy="771.4" r="1.65"/><circle cx="559.0" cy="831.4" r="1.65"/><circle cx="464.4" cy="847.5" r="1.65"/><circle cx="537.1" cy="875.0" r="1.65"/><circle cx="566.7" cy="849.8" r="1.65"/><circle cx="452.1" cy="798.9" r="1.65"/><circle cx="428.1" cy="862.2" r="1.65"/><circle cx="528.2" cy="902.0" r="1.65"/><circle cx="500.2" cy="804.9" r="1.65"/><circle cx="511.4" cy="860.0" r="1.65"/><circle cx="524.9" cy="847.0" r="1.65"/><circle cx="536.9" cy="889.7" r="1.65"/><circle cx="547.5" cy="888.5" r="1.65"/><circle cx="616.5" cy="855.3" r="1.65"/><circle cx="510.8" cy="815.4" r="1.65"/><circle cx="607.0" cy="871.3" r="1.65"/><circle cx="578.5" cy="900.5" r="1.65"/><circle cx="479.7" cy="869.1" r="1.65"/><circle cx="627.6" cy="843.4" r="1.65"/><circle cx="512.5" cy="893.6" r="1.65"/><circle cx="543.7" cy="897.5" r="1.65"/><circle cx="565.5" cy="861.4" r="1.65"/><circle cx="580.4" cy="848.8" r="1.65"/><circle cx="430.5" cy="838.1" r="1.65"/><circle cx="449.4" cy="865.6" r="1.65"/><circle cx="583.8" cy="839.6" r="1.65"/><circle cx="502.4" cy="857.3" r="1.65"/><circle cx="513.1" cy="906.0" r="1.65"/><circle cx="520.8" cy="839.9" r="1.65"/><circle cx="556.1" cy="841.3" r="1.65"/><circle cx="545.7" cy="887.1" r="1.65"/><circle cx="590.8" cy="880.9" r="1.65"/><circle cx="536.3" cy="868.6" r="1.65"/><circle cx="587.2" cy="806.7" r="1.65"/><circle cx="497.4" cy="816.3" r="1.65"/><circle cx="574.4" cy="888.1" r="1.65"/><circle cx="503.1" cy="916.1" r="1.65"/><circle cx="564.1" cy="900.9" r="1.65"/><circle cx="595.3" cy="862.1" r="1.65"/><circle cx="584.6" cy="860.0" r="1.65"/><circle cx="526.2" cy="901.0" r="1.65"/><circle cx="468.3" cy="827.8" r="1.65"/><circle cx="533.6" cy="815.7" r="1.65"/><circle cx="478.2" cy="895.3" r="1.65"/><circle cx="521.2" cy="870.7" r="1.65"/><circle cx="542.9" cy="895.6" r="1.65"/><circle cx="414.6" cy="796.6" r="1.65"/><circle cx="572.3" cy="893.0" r="1.65"/><circle cx="640.8" cy="832.6" r="1.65"/><circle cx="458.7" cy="865.4" r="1.65"/><circle cx="521.8" cy="897.8" r="1.65"/><circle cx="567.3" cy="914.3" r="1.65"/><circle cx="525.5" cy="903.5" r="1.65"/><circle cx="506.5" cy="898.9" r="1.65"/><circle cx="570.7" cy="866.5" r="1.65"/><circle cx="540.2" cy="818.5" r="1.65"/><circle cx="418.4" cy="883.1" r="1.65"/><circle cx="589.8" cy="850.2" r="1.65"/><circle cx="548.8" cy="902.5" r="1.65"/><circle cx="575.7" cy="868.6" r="1.65"/><circle cx="556.0" cy="909.3" r="1.65"/><circle cx="625.5" cy="868.4" r="1.65"/><circle cx="629.1" cy="877.8" r="1.65"/><circle cx="483.6" cy="875.9" r="1.65"/><circle cx="595.6" cy="812.2" r="1.65"/><circle cx="485.7" cy="846.2" r="1.65"/><circle cx="540.1" cy="785.1" r="1.65"/><circle cx="553.8" cy="768.4" r="1.65"/><circle cx="622.3" cy="920.3" r="1.65"/><circle cx="482.2" cy="903.9" r="1.65"/><circle cx="526.9" cy="814.5" r="1.65"/><circle cx="539.5" cy="881.7" r="1.65"/><circle cx="525.5" cy="822.8" r="1.65"/><circle cx="517.9" cy="833.5" r="1.65"/><circle cx="528.7" cy="796.3" r="1.65"/><circle cx="596.0" cy="872.4" r="1.65"/><circle cx="554.0" cy="822.7" r="1.65"/><circle cx="545.6" cy="839.0" r="1.65"/><circle cx="492.8" cy="898.0" r="1.65"/><circle cx="535.8" cy="879.0" r="1.65"/><circle cx="616.5" cy="846.8" r="1.65"/><circle cx="590.3" cy="837.7" r="1.65"/><circle cx="556.3" cy="791.6" r="1.65"/><circle cx="479.1" cy="845.6" r="1.65"/><circle cx="597.7" cy="914.9" r="1.65"/><circle cx="588.0" cy="821.0" r="1.65"/><circle cx="556.0" cy="872.1" r="1.65"/><circle cx="410.2" cy="827.7" r="1.65"/><circle cx="508.2" cy="913.7" r="1.65"/><circle cx="561.1" cy="858.8" r="1.65"/><circle cx="454.3" cy="872.6" r="1.65"/><circle cx="538.1" cy="845.1" r="1.65"/><circle cx="502.0" cy="799.1" r="1.65"/><circle cx="524.2" cy="915.9" r="1.65"/><circle cx="542.3" cy="899.7" r="1.65"/><circle cx="558.4" cy="848.2" r="1.65"/><circle cx="579.0" cy="881.9" r="1.65"/><circle cx="530.3" cy="817.3" r="1.65"/><circle cx="525.0" cy="788.9" r="1.65"/><circle cx="577.8" cy="816.2" r="1.65"/><circle cx="627.4" cy="894.0" r="1.65"/><circle cx="544.6" cy="852.0" r="1.65"/><circle cx="544.2" cy="790.2" r="1.65"/><circle cx="564.3" cy="898.8" r="1.65"/><circle cx="475.9" cy="789.9" r="1.65"/><circle cx="574.6" cy="916.9" r="1.65"/><circle cx="550.0" cy="816.6" r="1.65"/><circle cx="517.0" cy="765.0" r="1.65"/><circle cx="505.0" cy="857.4" r="1.65"/><circle cx="581.5" cy="903.5" r="1.65"/><circle cx="481.3" cy="905.9" r="1.65"/><circle cx="562.8" cy="855.1" r="1.65"/><circle cx="521.4" cy="896.2" r="1.65"/><circle cx="566.6" cy="879.5" r="1.65"/><circle cx="505.9" cy="893.4" r="1.65"/><circle cx="618.5" cy="864.1" r="1.65"/><circle cx="542.0" cy="891.4" r="1.65"/><circle cx="623.2" cy="840.2" r="1.65"/><circle cx="527.9" cy="791.2" r="1.65"/><circle cx="559.9" cy="876.7" r="1.65"/><circle cx="579.1" cy="878.6" r="1.65"/><circle cx="495.2" cy="911.2" r="1.65"/><circle cx="590.3" cy="878.7" r="1.65"/><circle cx="614.5" cy="830.9" r="1.65"/><circle cx="601.2" cy="853.7" r="1.65"/><circle cx="636.5" cy="884.6" r="1.65"/><circle cx="578.1" cy="892.7" r="1.65"/><circle cx="530.0" cy="907.0" r="1.65"/><circle cx="421.6" cy="914.5" r="1.65"/><circle cx="466.2" cy="808.0" r="1.65"/><circle cx="542.6" cy="894.8" r="1.65"/><circle cx="515.4" cy="864.6" r="1.65"/><circle cx="617.4" cy="895.1" r="1.65"/><circle cx="514.7" cy="800.5" r="1.65"/><circle cx="567.4" cy="890.9" r="1.65"/><circle cx="491.5" cy="858.2" r="1.65"/><circle cx="477.2" cy="791.4" r="1.65"/><circle cx="419.4" cy="895.9" r="1.65"/><circle cx="479.1" cy="908.7" r="1.65"/><circle cx="570.6" cy="896.4" r="1.65"/><circle cx="578.1" cy="889.6" r="1.65"/><circle cx="506.4" cy="895.0" r="1.65"/><circle cx="575.8" cy="920.2" r="1.65"/><circle cx="616.8" cy="864.0" r="1.65"/><circle cx="542.2" cy="776.4" r="1.65"/><circle cx="614.3" cy="798.8" r="1.65"/><circle cx="608.6" cy="917.6" r="1.65"/><circle cx="532.4" cy="898.3" r="1.65"/><circle cx="502.3" cy="826.8" r="1.65"/><circle cx="554.7" cy="896.1" r="1.65"/><circle cx="572.5" cy="843.8" r="1.65"/><circle cx="577.0" cy="886.5" r="1.65"/><circle cx="504.5" cy="900.5" r="1.65"/><circle cx="561.2" cy="806.5" r="1.65"/><circle cx="498.0" cy="808.4" r="1.65"/><circle cx="541.6" cy="873.2" r="1.65"/><circle cx="546.2" cy="771.1" r="1.65"/><circle cx="545.9" cy="773.2" r="1.65"/><circle cx="592.8" cy="884.0" r="1.65"/><circle cx="594.4" cy="895.2" r="1.65"/><circle cx="502.4" cy="867.4" r="1.65"/><circle cx="549.4" cy="877.8" r="1.65"/><circle cx="620.7" cy="856.7" r="1.65"/><circle cx="458.6" cy="793.7" r="1.65"/><circle cx="539.2" cy="909.8" r="1.65"/><circle cx="559.4" cy="777.4" r="1.65"/><circle cx="551.1" cy="860.6" r="1.65"/><circle cx="571.9" cy="882.5" r="1.65"/><circle cx="570.0" cy="852.3" r="1.65"/><circle cx="596.7" cy="821.1" r="1.65"/><circle cx="569.5" cy="899.6" r="1.65"/><circle cx="561.2" cy="854.0" r="1.65"/><circle cx="572.7" cy="908.7" r="1.65"/><circle cx="496.2" cy="894.3" r="1.65"/><circle cx="441.6" cy="884.2" r="1.65"/><circle cx="488.2" cy="826.8" r="1.65"/><circle cx="574.6" cy="889.0" r="1.65"/><circle cx="469.4" cy="828.6" r="1.65"/><circle cx="577.3" cy="843.0" r="1.65"/><circle cx="527.5" cy="842.2" r="1.65"/><circle cx="441.5" cy="816.2" r="1.65"/><circle cx="460.0" cy="847.7" r="1.65"/><circle cx="529.1" cy="877.7" r="1.65"/><circle cx="506.9" cy="818.5" r="1.65"/><circle cx="500.2" cy="835.2" r="1.65"/><circle cx="532.7" cy="837.0" r="1.65"/><circle cx="589.1" cy="873.7" r="1.65"/><circle cx="603.2" cy="919.1" r="1.65"/><circle cx="611.5" cy="889.9" r="1.65"/><circle cx="524.8" cy="865.2" r="1.65"/><circle cx="420.2" cy="898.2" r="1.65"/><circle cx="466.5" cy="846.5" r="1.65"/><circle cx="484.7" cy="843.4" r="1.65"/><circle cx="564.7" cy="907.8" r="1.65"/><circle cx="585.6" cy="888.4" r="1.65"/><circle cx="539.1" cy="828.5" r="1.65"/><circle cx="511.5" cy="919.4" r="1.65"/><circle cx="478.0" cy="772.9" r="1.65"/><circle cx="545.2" cy="865.9" r="1.65"/><circle cx="601.0" cy="899.0" r="1.65"/><circle cx="470.0" cy="894.5" r="1.65"/><circle cx="473.0" cy="855.3" r="1.65"/><circle cx="544.7" cy="902.2" r="1.65"/><circle cx="410.0" cy="866.3" r="1.65"/><circle cx="604.5" cy="895.6" r="1.65"/><circle cx="662.4" cy="867.0" r="1.65"/><circle cx="565.4" cy="886.1" r="1.65"/><circle cx="481.9" cy="775.4" r="1.65"/><circle cx="517.3" cy="910.6" r="1.65"/><circle cx="494.0" cy="866.1" r="1.65"/><circle cx="479.0" cy="821.0" r="1.65"/><circle cx="487.4" cy="881.7" r="1.65"/><circle cx="480.8" cy="825.8" r="1.65"/><circle cx="535.0" cy="862.7" r="1.65"/><circle cx="513.4" cy="902.8" r="1.65"/><circle cx="511.3" cy="887.6" r="1.65"/><circle cx="576.5" cy="864.5" r="1.65"/><circle cx="645.5" cy="917.0" r="1.65"/><circle cx="628.9" cy="827.4" r="1.65"/><circle cx="609.2" cy="881.1" r="1.65"/><circle cx="570.2" cy="917.0" r="1.65"/><circle cx="490.1" cy="858.8" r="1.65"/><circle cx="523.2" cy="772.2" r="1.65"/><circle cx="653.6" cy="863.3" r="1.65"/><circle cx="606.4" cy="873.0" r="1.65"/><circle cx="591.3" cy="881.6" r="1.65"/><circle cx="546.9" cy="875.1" r="1.65"/><circle cx="572.9" cy="784.4" r="1.65"/><circle cx="575.6" cy="877.4" r="1.65"/><circle cx="580.2" cy="850.3" r="1.65"/><circle cx="599.0" cy="787.7" r="1.65"/><circle cx="563.5" cy="883.5" r="1.65"/><circle cx="511.6" cy="888.7" r="1.65"/><circle cx="575.7" cy="776.0" r="1.65"/><circle cx="563.0" cy="915.7" r="1.65"/><circle cx="453.9" cy="914.9" r="1.65"/><circle cx="549.2" cy="875.5" r="1.65"/><circle cx="605.1" cy="815.5" r="1.65"/><circle cx="588.6" cy="897.1" r="1.65"/><circle cx="624.5" cy="815.8" r="1.65"/><circle cx="543.9" cy="796.2" r="1.65"/><circle cx="557.3" cy="867.5" r="1.65"/><circle cx="534.8" cy="905.5" r="1.65"/><circle cx="611.5" cy="872.6" r="1.65"/><circle cx="519.2" cy="845.3" r="1.65"/><circle cx="555.9" cy="833.9" r="1.65"/><circle cx="563.7" cy="906.5" r="1.65"/><circle cx="539.9" cy="827.0" r="1.65"/><circle cx="516.8" cy="858.3" r="1.65"/><circle cx="512.4" cy="888.7" r="1.65"/><circle cx="529.0" cy="849.6" r="1.65"/><circle cx="521.9" cy="821.5" r="1.65"/><circle cx="442.8" cy="766.3" r="1.65"/><circle cx="425.6" cy="884.0" r="1.65"/><circle cx="590.1" cy="893.8" r="1.65"/><circle cx="416.7" cy="888.1" r="1.65"/><circle cx="518.8" cy="887.8" r="1.65"/><circle cx="548.4" cy="819.6" r="1.65"/><circle cx="529.0" cy="768.9" r="1.65"/><circle cx="561.1" cy="801.0" r="1.65"/><circle cx="627.9" cy="920.5" r="1.65"/><circle cx="553.1" cy="786.7" r="1.65"/><circle cx="515.4" cy="793.5" r="1.65"/><circle cx="578.6" cy="840.7" r="1.65"/><circle cx="582.0" cy="917.3" r="1.65"/><circle cx="596.0" cy="868.8" r="1.65"/><circle cx="559.8" cy="904.5" r="1.65"/><circle cx="556.9" cy="901.9" r="1.65"/><circle cx="589.9" cy="836.9" r="1.65"/><circle cx="539.9" cy="916.4" r="1.65"/><circle cx="627.1" cy="865.7" r="1.65"/><circle cx="545.2" cy="872.1" r="1.65"/><circle cx="597.0" cy="894.7" r="1.65"/><circle cx="604.0" cy="872.8" r="1.65"/><circle cx="541.7" cy="825.8" r="1.65"/><circle cx="466.4" cy="835.9" r="1.65"/><circle cx="599.3" cy="817.8" r="1.65"/><circle cx="446.0" cy="826.4" r="1.65"/><circle cx="544.8" cy="911.1" r="1.65"/><circle cx="493.7" cy="898.9" r="1.65"/><circle cx="551.3" cy="877.4" r="1.65"/><circle cx="542.2" cy="861.4" r="1.65"/><circle cx="454.5" cy="884.0" r="1.65"/><circle cx="550.8" cy="917.6" r="1.65"/><circle cx="445.4" cy="842.1" r="1.65"/><circle cx="590.3" cy="898.8" r="1.65"/><circle cx="564.4" cy="874.0" r="1.65"/><circle cx="544.9" cy="778.2" r="1.65"/><circle cx="450.3" cy="855.7" r="1.65"/><circle cx="586.8" cy="839.2" r="1.65"/><circle cx="454.3" cy="916.9" r="1.65"/><circle cx="581.6" cy="852.1" r="1.65"/><circle cx="459.7" cy="827.4" r="1.65"/><circle cx="473.5" cy="883.5" r="1.65"/><circle cx="624.9" cy="890.5" r="1.65"/><circle cx="493.0" cy="812.6" r="1.65"/><circle cx="572.4" cy="905.5" r="1.65"/><circle cx="508.2" cy="858.0" r="1.65"/><circle cx="660.5" cy="885.2" r="1.65"/><circle cx="439.7" cy="834.1" r="1.65"/><circle cx="515.3" cy="919.9" r="1.65"/><circle cx="504.8" cy="797.5" r="1.65"/><circle cx="514.3" cy="810.6" r="1.65"/><circle cx="589.2" cy="893.9" r="1.65"/><circle cx="484.5" cy="888.7" r="1.65"/><circle cx="476.5" cy="901.9" r="1.65"/><circle cx="528.3" cy="852.3" r="1.65"/><circle cx="622.2" cy="837.4" r="1.65"/><circle cx="590.3" cy="874.2" r="1.65"/><circle cx="544.8" cy="861.3" r="1.65"/><circle cx="550.9" cy="827.5" r="1.65"/><circle cx="540.3" cy="878.8" r="1.65"/><circle cx="455.6" cy="903.4" r="1.65"/><circle cx="564.9" cy="909.4" r="1.65"/><circle cx="541.0" cy="860.1" r="1.65"/><circle cx="549.5" cy="890.3" r="1.65"/><circle cx="545.8" cy="913.7" r="1.65"/><circle cx="458.0" cy="873.9" r="1.65"/><circle cx="599.3" cy="773.9" r="1.65"/><circle cx="460.9" cy="807.9" r="1.65"/><circle cx="464.9" cy="886.8" r="1.65"/><circle cx="502.0" cy="881.8" r="1.65"/><circle cx="483.1" cy="773.6" r="1.65"/><circle cx="570.8" cy="862.7" r="1.65"/><circle cx="493.7" cy="841.6" r="1.65"/><circle cx="586.3" cy="876.8" r="1.65"/><circle cx="597.2" cy="816.3" r="1.65"/><circle cx="473.2" cy="809.7" r="1.65"/><circle cx="559.9" cy="891.5" r="1.65"/><circle cx="491.2" cy="844.8" r="1.65"/><circle cx="604.4" cy="839.4" r="1.65"/><circle cx="505.6" cy="914.1" r="1.65"/><circle cx="597.1" cy="885.2" r="1.65"/><circle cx="457.7" cy="880.6" r="1.65"/><circle cx="492.4" cy="815.2" r="1.65"/><circle cx="502.3" cy="866.5" r="1.65"/><circle cx="541.1" cy="893.6" r="1.65"/><circle cx="614.0" cy="902.6" r="1.65"/><circle cx="585.1" cy="865.1" r="1.65"/><circle cx="516.2" cy="907.7" r="1.65"/><circle cx="492.4" cy="841.6" r="1.65"/><circle cx="616.5" cy="852.9" r="1.65"/><circle cx="458.8" cy="837.3" r="1.65"/><circle cx="562.9" cy="915.0" r="1.65"/><circle cx="506.9" cy="871.3" r="1.65"/><circle cx="614.3" cy="860.5" r="1.65"/><circle cx="517.8" cy="880.5" r="1.65"/><circle cx="458.8" cy="879.1" r="1.65"/><circle cx="546.8" cy="870.9" r="1.65"/><circle cx="580.8" cy="895.7" r="1.65"/><circle cx="486.6" cy="890.7" r="1.65"/><circle cx="559.2" cy="894.4" r="1.65"/><circle cx="523.2" cy="866.8" r="1.65"/><circle cx="568.1" cy="873.5" r="1.65"/><circle cx="559.9" cy="916.1" r="1.65"/><circle cx="626.9" cy="847.4" r="1.65"/><circle cx="549.5" cy="828.8" r="1.65"/><circle cx="593.8" cy="901.7" r="1.65"/><circle cx="567.3" cy="887.2" r="1.65"/><circle cx="455.2" cy="809.3" r="1.65"/><circle cx="543.1" cy="857.8" r="1.65"/><circle cx="543.9" cy="891.6" r="1.65"/><circle cx="497.5" cy="822.9" r="1.65"/><circle cx="477.3" cy="915.3" r="1.65"/><circle cx="614.2" cy="811.3" r="1.65"/><circle cx="525.7" cy="782.0" r="1.65"/><circle cx="484.2" cy="903.5" r="1.65"/><circle cx="594.6" cy="884.5" r="1.65"/><circle cx="492.8" cy="907.3" r="1.65"/><circle cx="572.1" cy="859.4" r="1.65"/><circle cx="603.5" cy="893.2" r="1.65"/><circle cx="630.4" cy="888.7" r="1.65"/><circle cx="568.2" cy="868.7" r="1.65"/><circle cx="585.1" cy="897.5" r="1.65"/><circle cx="519.7" cy="916.3" r="1.65"/><circle cx="511.5" cy="910.6" r="1.65"/><circle cx="481.5" cy="876.2" r="1.65"/><circle cx="447.0" cy="858.7" r="1.65"/><circle cx="583.6" cy="890.3" r="1.65"/><circle cx="477.5" cy="861.1" r="1.65"/><circle cx="560.0" cy="855.8" r="1.65"/><circle cx="587.4" cy="904.1" r="1.65"/><circle cx="595.8" cy="877.1" r="1.65"/><circle cx="545.1" cy="836.4" r="1.65"/><circle cx="575.9" cy="869.7" r="1.65"/><circle cx="542.7" cy="856.4" r="1.65"/><circle cx="625.6" cy="791.4" r="1.65"/><circle cx="560.8" cy="813.0" r="1.65"/><circle cx="620.0" cy="835.1" r="1.65"/><circle cx="648.2" cy="913.5" r="1.65"/><circle cx="510.7" cy="835.2" r="1.65"/><circle cx="569.0" cy="895.4" r="1.65"/><circle cx="460.6" cy="829.2" r="1.65"/><circle cx="546.9" cy="839.8" r="1.65"/><circle cx="551.8" cy="819.4" r="1.65"/><circle cx="627.0" cy="905.2" r="1.65"/><circle cx="517.3" cy="889.7" r="1.65"/><circle cx="517.3" cy="841.7" r="1.65"/><circle cx="565.4" cy="857.4" r="1.65"/><circle cx="528.0" cy="825.7" r="1.65"/><circle cx="533.0" cy="903.7" r="1.65"/><circle cx="581.4" cy="911.1" r="1.65"/><circle cx="536.5" cy="884.9" r="1.65"/><circle cx="497.2" cy="877.8" r="1.65"/><circle cx="616.6" cy="845.0" r="1.65"/><circle cx="506.0" cy="834.5" r="1.65"/><circle cx="537.3" cy="886.9" r="1.65"/><circle cx="489.9" cy="863.2" r="1.65"/><circle cx="555.8" cy="887.9" r="1.65"/><circle cx="548.9" cy="860.0" r="1.65"/><circle cx="590.2" cy="901.0" r="1.65"/><circle cx="540.7" cy="846.3" r="1.65"/><circle cx="557.3" cy="912.7" r="1.65"/><circle cx="527.7" cy="851.0" r="1.65"/><circle cx="639.1" cy="815.3" r="1.65"/><circle cx="583.5" cy="810.7" r="1.65"/><circle cx="574.7" cy="901.4" r="1.65"/><circle cx="541.0" cy="785.5" r="1.65"/><circle cx="449.3" cy="782.6" r="1.65"/><circle cx="492.3" cy="857.8" r="1.65"/><circle cx="585.2" cy="887.2" r="1.65"/><circle cx="593.7" cy="919.7" r="1.65"/><circle cx="553.9" cy="872.5" r="1.65"/><circle cx="550.8" cy="866.1" r="1.65"/><circle cx="516.0" cy="907.1" r="1.65"/><circle cx="644.4" cy="917.5" r="1.65"/><circle cx="529.8" cy="799.2" r="1.65"/><circle cx="482.8" cy="867.5" r="1.65"/><circle cx="600.1" cy="907.9" r="1.65"/><circle cx="473.0" cy="815.4" r="1.65"/><circle cx="505.4" cy="770.2" r="1.65"/><circle cx="566.2" cy="806.2" r="1.65"/><circle cx="571.5" cy="776.2" r="1.65"/><circle cx="483.3" cy="878.1" r="1.65"/><circle cx="605.2" cy="887.9" r="1.65"/><circle cx="461.1" cy="919.8" r="1.65"/><circle cx="581.9" cy="891.5" r="1.65"/><circle cx="544.0" cy="878.7" r="1.65"/><circle cx="564.0" cy="812.4" r="1.65"/><circle cx="597.1" cy="906.7" r="1.65"/><circle cx="563.0" cy="833.1" r="1.65"/><circle cx="560.9" cy="908.7" r="1.65"/><circle cx="477.6" cy="826.9" r="1.65"/><circle cx="480.2" cy="798.7" r="1.65"/><circle cx="511.3" cy="811.6" r="1.65"/><circle cx="598.2" cy="828.8" r="1.65"/><circle cx="628.6" cy="824.8" r="1.65"/><circle cx="586.9" cy="872.2" r="1.65"/><circle cx="629.4" cy="865.2" r="1.65"/><circle cx="587.0" cy="873.7" r="1.65"/><circle cx="544.6" cy="876.3" r="1.65"/><circle cx="537.9" cy="889.7" r="1.65"/><circle cx="551.4" cy="858.5" r="1.65"/><circle cx="655.8" cy="827.9" r="1.65"/><circle cx="601.3" cy="820.8" r="1.65"/><circle cx="579.0" cy="891.4" r="1.65"/><circle cx="431.2" cy="913.6" r="1.65"/><circle cx="499.4" cy="785.2" r="1.65"/><circle cx="530.2" cy="911.9" r="1.65"/><circle cx="537.0" cy="773.6" r="1.65"/><circle cx="570.0" cy="890.8" r="1.65"/><circle cx="588.8" cy="917.1" r="1.65"/><circle cx="579.0" cy="904.1" r="1.65"/><circle cx="597.1" cy="911.9" r="1.65"/><circle cx="585.3" cy="851.3" r="1.65"/><circle cx="496.2" cy="805.8" r="1.65"/><circle cx="569.4" cy="805.4" r="1.65"/><circle cx="529.8" cy="915.2" r="1.65"/><circle cx="521.1" cy="825.9" r="1.65"/><circle cx="508.1" cy="903.6" r="1.65"/><circle cx="566.5" cy="780.0" r="1.65"/><circle cx="486.3" cy="911.2" r="1.65"/><circle cx="553.2" cy="846.1" r="1.65"/><circle cx="511.6" cy="894.2" r="1.65"/><circle cx="533.3" cy="878.8" r="1.65"/><circle cx="562.5" cy="890.5" r="1.65"/><circle cx="520.1" cy="836.0" r="1.65"/><circle cx="490.6" cy="914.4" r="1.65"/><circle cx="511.8" cy="882.2" r="1.65"/><circle cx="516.2" cy="847.0" r="1.65"/><circle cx="577.0" cy="891.9" r="1.65"/><circle cx="609.2" cy="835.1" r="1.65"/><circle cx="601.0" cy="879.1" r="1.65"/><circle cx="545.4" cy="880.1" r="1.65"/><circle cx="491.7" cy="898.8" r="1.65"/><circle cx="544.4" cy="868.7" r="1.65"/><circle cx="643.8" cy="804.5" r="1.65"/><circle cx="530.5" cy="875.4" r="1.65"/><circle cx="564.5" cy="824.5" r="1.65"/><circle cx="628.5" cy="775.8" r="1.65"/><circle cx="538.1" cy="910.7" r="1.65"/><circle cx="645.6" cy="856.0" r="1.65"/><circle cx="582.4" cy="827.0" r="1.65"/><circle cx="548.8" cy="880.5" r="1.65"/><circle cx="518.6" cy="881.0" r="1.65"/><circle cx="602.4" cy="858.1" r="1.65"/><circle cx="565.3" cy="904.1" r="1.65"/><circle cx="556.3" cy="846.8" r="1.65"/><circle cx="561.4" cy="823.8" r="1.65"/><circle cx="575.7" cy="863.3" r="1.65"/><circle cx="587.1" cy="841.1" r="1.65"/><circle cx="606.7" cy="876.6" r="1.65"/><circle cx="589.8" cy="841.8" r="1.65"/><circle cx="424.3" cy="877.9" r="1.65"/><circle cx="473.5" cy="910.1" r="1.65"/><circle cx="496.2" cy="905.7" r="1.65"/><circle cx="617.3" cy="900.9" r="1.65"/><circle cx="499.9" cy="915.1" r="1.65"/><circle cx="566.6" cy="917.9" r="1.65"/><circle cx="599.5" cy="871.3" r="1.65"/><circle cx="564.8" cy="916.0" r="1.65"/><circle cx="647.8" cy="887.4" r="1.65"/><circle cx="528.7" cy="878.9" r="1.65"/><circle cx="525.1" cy="831.6" r="1.65"/><circle cx="541.9" cy="881.7" r="1.65"/><circle cx="532.2" cy="905.8" r="1.65"/><circle cx="491.6" cy="896.3" r="1.65"/><circle cx="455.2" cy="871.7" r="1.65"/><circle cx="513.4" cy="918.4" r="1.65"/><circle cx="615.2" cy="826.2" r="1.65"/><circle cx="447.5" cy="847.4" r="1.65"/><circle cx="568.2" cy="907.5" r="1.65"/><circle cx="541.1" cy="895.7" r="1.65"/><circle cx="479.1" cy="827.9" r="1.65"/><circle cx="610.8" cy="889.1" r="1.65"/><circle cx="523.3" cy="893.6" r="1.65"/><circle cx="590.2" cy="865.5" r="1.65"/><circle cx="435.4" cy="871.7" r="1.65"/><circle cx="492.7" cy="909.8" r="1.65"/><circle cx="505.5" cy="830.7" r="1.65"/><circle cx="612.6" cy="859.9" r="1.65"/><circle cx="506.6" cy="917.8" r="1.65"/><circle cx="521.6" cy="907.3" r="1.65"/><circle cx="514.5" cy="802.4" r="1.65"/><circle cx="577.3" cy="871.1" r="1.65"/><circle cx="582.6" cy="830.6" r="1.65"/><circle cx="494.3" cy="848.0" r="1.65"/><circle cx="522.8" cy="901.4" r="1.65"/><circle cx="584.5" cy="893.4" r="1.65"/><circle cx="595.2" cy="897.6" r="1.65"/><circle cx="538.5" cy="869.7" r="1.65"/><circle cx="497.9" cy="876.5" r="1.65"/><circle cx="551.6" cy="854.3" r="1.65"/><circle cx="592.3" cy="825.6" r="1.65"/><circle cx="517.7" cy="893.8" r="1.65"/><circle cx="546.8" cy="895.3" r="1.65"/><circle cx="520.8" cy="834.1" r="1.65"/><circle cx="517.1" cy="830.2" r="1.65"/><circle cx="557.6" cy="900.5" r="1.65"/><circle cx="470.3" cy="902.0" r="1.65"/><circle cx="610.2" cy="874.1" r="1.65"/><circle cx="478.2" cy="918.7" r="1.65"/><circle cx="461.5" cy="800.7" r="1.65"/><circle cx="619.6" cy="919.5" r="1.65"/><circle cx="563.7" cy="902.7" r="1.65"/><circle cx="495.6" cy="806.0" r="1.65"/><circle cx="481.8" cy="866.1" r="1.65"/><circle cx="546.7" cy="904.8" r="1.65"/><circle cx="558.1" cy="887.4" r="1.65"/><circle cx="554.5" cy="915.5" r="1.65"/><circle cx="475.4" cy="869.7" r="1.65"/><circle cx="608.3" cy="848.2" r="1.65"/><circle cx="636.8" cy="812.3" r="1.65"/><circle cx="534.2" cy="777.4" r="1.65"/><circle cx="508.9" cy="805.5" r="1.65"/><circle cx="627.7" cy="898.5" r="1.65"/><circle cx="535.2" cy="919.3" r="1.65"/><circle cx="592.8" cy="816.1" r="1.65"/><circle cx="583.5" cy="909.9" r="1.65"/><circle cx="493.7" cy="857.2" r="1.65"/><circle cx="604.3" cy="817.7" r="1.65"/><circle cx="440.1" cy="909.2" r="1.65"/><circle cx="598.3" cy="846.5" r="1.65"/><circle cx="453.3" cy="810.5" r="1.65"/><circle cx="529.9" cy="870.8" r="1.65"/><circle cx="583.7" cy="826.7" r="1.65"/><circle cx="559.5" cy="897.0" r="1.65"/><circle cx="526.1" cy="893.6" r="1.65"/><circle cx="518.2" cy="917.7" r="1.65"/><circle cx="459.6" cy="902.6" r="1.65"/><circle cx="519.4" cy="901.1" r="1.65"/><circle cx="539.7" cy="891.9" r="1.65"/><circle cx="545.0" cy="879.2" r="1.65"/><circle cx="554.4" cy="862.4" r="1.65"/><circle cx="516.8" cy="877.4" r="1.65"/><circle cx="558.0" cy="801.7" r="1.65"/><circle cx="525.3" cy="884.1" r="1.65"/><circle cx="561.4" cy="828.2" r="1.65"/><circle cx="556.4" cy="825.2" r="1.65"/><circle cx="580.1" cy="914.2" r="1.65"/><circle cx="591.5" cy="831.9" r="1.65"/><circle cx="596.2" cy="827.1" r="1.65"/><circle cx="499.4" cy="781.7" r="1.65"/><circle cx="587.4" cy="886.9" r="1.65"/><circle cx="455.8" cy="715.8" r="1.65"/><circle cx="504.9" cy="711.7" r="1.65"/><circle cx="483.8" cy="730.9" r="1.65"/><circle cx="483.8" cy="733.9" r="1.65"/><circle cx="492.0" cy="732.3" r="1.65"/><circle cx="516.1" cy="733.7" r="1.65"/><circle cx="526.5" cy="730.1" r="1.65"/><circle cx="453.2" cy="737.8" r="1.65"/><circle cx="449.7" cy="742.3" r="1.65"/><circle cx="538.0" cy="745.6" r="1.65"/><circle cx="476.0" cy="752.1" r="1.65"/><circle cx="473.2" cy="755.8" r="1.65"/><circle cx="469.5" cy="758.3" r="1.65"/><circle cx="483.8" cy="758.7" r="1.65"/><circle cx="513.5" cy="759.1" r="1.65"/><circle cx="533.3" cy="753.8" r="1.65"/><circle cx="534.9" cy="757.4" r="1.65"/><circle cx="535.9" cy="759.1" r="1.65"/><circle cx="451.7" cy="760.9" r="1.65"/><circle cx="464.0" cy="764.8" r="1.65"/><circle cx="441.5" cy="766.6" r="1.65"/><circle cx="537.0" cy="766.0" r="1.65"/><circle cx="531.8" cy="768.5" r="1.65"/><circle cx="550.3" cy="694.1" r="1.65"/><circle cx="561.2" cy="727.2" r="1.65"/><circle cx="543.2" cy="737.0" r="1.65"/><circle cx="547.3" cy="737.0" r="1.65"/><circle cx="551.8" cy="735.8" r="1.65"/><circle cx="582.0" cy="734.6" r="1.65"/><circle cx="566.7" cy="740.7" r="1.65"/><circle cx="566.1" cy="743.1" r="1.65"/><circle cx="612.3" cy="747.2" r="1.65"/><circle cx="622.5" cy="752.1" r="1.65"/><circle cx="546.2" cy="754.6" r="1.65"/><circle cx="542.8" cy="762.8" r="1.65"/><circle cx="567.3" cy="766.2" r="1.65"/><circle cx="576.5" cy="762.8" r="1.65"/><circle cx="586.1" cy="764.0" r="1.65"/><circle cx="594.3" cy="765.2" r="1.65"/></g>
<line x1="399.4" x2="673.4" y1="764.00" y2="764.00" stroke="#e03535" stroke-width="1.0"/>
<line y1="685.3" y2="929.1" x1="633.00" x2="633.00" stroke="#e03535" stroke-width="1.0"/>
<rect x="399.4" y="685.3" width="274.00" height="243.80" fill="none" stroke="#333" stroke-width="0.8"/>
<path d="M448.30 929.1v4.0M509.70 929.1v4.0M571.10 929.1v4.0M632.50 929.1v4.0M399.4 920.50h-4.0M399.4 857.80h-4.0M399.4 795.10h-4.0M399.4 732.40h-4.0" stroke="#333" stroke-width="0.8" fill="none"/>
<text x="448.30" y="946.8" text-anchor="middle" font-size="8.5">0.2</text>
<text x="509.70" y="946.8" text-anchor="middle" font-size="8.5">0.4</text>
<text x="571.10" y="946.8" text-anchor="middle" font-size="8.5">0.6</text>
<text x="632.50" y="946.8" text-anchor="middle" font-size="8.5">0.8</text>
<text transform="translate(388.00,920.50) rotate(-90)" text-anchor="middle" font-size="8.5">0.0</text>
<text transform="translate(388.00,857.80) rotate(-90)" text-anchor="middle" font-size="8.5">0.2</text>
<text transform="translate(388.00,795.10) rotate(-90)" text-anchor="middle" font-size="8.5">0.4</text>
<text transform="translate(388.00,732.40) rotate(-90)" text-anchor="middle" font-size="8.5">0.6</text>
<text x="536.4" y="663.0" text-anchor="middle" font-size="9.35" font-weight="bold">Module membership vs. gene significance</text>
<text x="536.4" y="674.3" text-anchor="middle" font-size="9.35" font-weight="bold">cor=−0.033, p=0.24</text>
<text x="536.4" y="965.3" text-anchor="middle" font-size="9.1">Module Membership in brown module</text>
<text transform="translate(368.5,807.20) rotate(-90)" text-anchor="middle" font-size="9.1" xml:space="preserve">Gene significance for  IVDD</text>
<text x="360.4" y="662.4" font-size="13.2" font-weight="bold">F</text>
</svg></body></html>
